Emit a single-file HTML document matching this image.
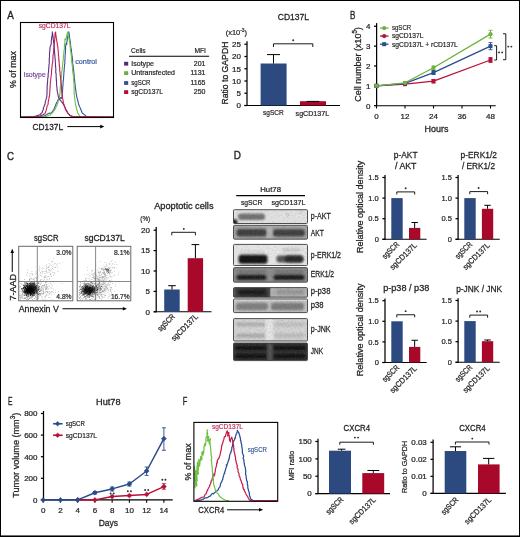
<!DOCTYPE html>
<html><head><meta charset="utf-8"><style>
html,body{margin:0;padding:0;background:#fff;width:520px;height:537px;overflow:hidden;}
svg text{font-family:"Liberation Sans", sans-serif;}
svg{will-change:transform;}
</style></head><body>
<svg width="520" height="537" viewBox="0 0 520 537" style="position:absolute;left:0;top:0">
<defs><filter id="b1" x="-20%" y="-50%" width="140%" height="200%"><feGaussianBlur stdDeviation="1.2"/></filter><filter id="b2" x="-20%" y="-50%" width="140%" height="200%"><feGaussianBlur stdDeviation="0.8"/></filter><filter id="nz" x="0" y="0" width="100%" height="100%"><feTurbulence type="fractalNoise" baseFrequency="0.6" numOctaves="2" seed="5"/><feColorMatrix type="matrix" values="0 0 0 0 0  0 0 0 0 0  0 0 0 0 0  2.2 0 0 0 -0.95"/></filter><filter id="nz2" x="0" y="0" width="100%" height="100%"><feTurbulence type="fractalNoise" baseFrequency="0.6" numOctaves="2" seed="11"/><feColorMatrix type="matrix" values="0 0 0 0 1  0 0 0 0 1  0 0 0 0 1  2.2 0 0 0 -0.95"/></filter></defs>
<rect x="0" y="0" width="520" height="537" fill="#fff"/>
<text x="7.2" y="18.9" font-size="10.5" text-anchor="start" fill="#231f20" textLength="6.6" lengthAdjust="spacingAndGlyphs" stroke="#231f20" stroke-width="0.34">A</text>
<path d="M21.00,117.00 L22.23,116.92 L23.41,117.00 L24.68,117.00 L25.82,117.01 L27.04,117.06 L28.28,117.08 L29.50,116.95 L30.68,116.98 L31.94,117.05 L33.15,116.97 L34.37,116.94 L35.58,116.97 L36.82,117.04 L38.01,116.95 L39.35,116.85 L40.65,116.64 L42.03,116.48 L43.51,116.06 L44.87,115.82 L46.59,114.63 L47.91,113.78 L49.28,113.14 L50.48,113.23 L51.54,112.71 L52.37,111.49 L53.28,110.12 L54.10,109.18 L54.45,107.93 L54.90,106.66 L55.47,105.82 L55.90,104.27 L56.60,102.83 L57.20,101.77 L57.94,99.89 L58.80,99.29 L60.00,98.88 L60.69,97.56 L61.80,98.32 L62.04,97.11 L62.34,95.70 L62.23,94.04 L62.34,93.11 L62.60,91.55 L62.50,90.57 L62.68,89.31 L62.78,87.89 L62.70,86.81 L62.94,85.58 L63.09,84.47 L63.07,83.08 L63.03,81.77 L63.34,80.50 L63.55,78.82 L63.56,77.86 L63.64,76.34 L63.74,75.11 L63.93,73.55 L63.87,72.00 L64.18,71.02 L64.14,69.70 L64.22,68.62 L64.46,66.79 L64.50,65.92 L64.57,64.62 L64.85,63.36 L64.91,62.19 L64.73,61.12 L64.96,59.55 L65.09,58.81 L65.01,57.08 L65.18,55.68 L65.12,54.81 L65.36,53.70 L65.44,52.60 L65.39,51.14 L65.47,49.94 L65.68,48.84 L65.47,47.45 L65.64,45.84 L65.94,44.96 L66.01,43.53 L66.77,44.39 L66.84,43.06 L66.86,41.46 L67.22,40.67 L67.32,38.81 L67.42,37.31 L67.73,36.38 L68.25,34.83 L68.52,33.28 L68.83,31.87 L69.02,33.02 L69.24,34.33 L69.35,35.59 L69.64,37.02 L69.60,37.92 L69.90,39.35 L70.00,40.61 L70.35,41.79 L70.49,42.91 L70.49,44.25 L70.67,45.29 L70.73,46.51 L70.95,47.77 L71.24,49.05 L71.41,50.19 L71.50,51.46 L71.68,52.73 L71.72,53.81 L71.95,55.15 L72.17,56.01 L72.28,57.44 L72.41,58.73 L72.55,59.47 L72.67,61.05 L72.69,62.23 L72.64,63.67 L72.88,64.42 L73.10,65.45 L73.28,66.74 L73.25,67.68 L73.56,69.52 L73.59,70.54 L73.88,71.78 L73.96,73.09 L74.05,74.20 L74.21,75.35 L74.24,76.46 L74.17,77.71 L74.46,79.35 L74.59,80.09 L74.81,81.96 L74.90,83.07 L75.03,84.29 L75.30,85.44 L75.27,86.62 L75.46,88.05 L75.61,89.50 L75.93,90.50 L76.01,91.91 L76.11,93.25 L76.37,94.32 L76.64,95.89 L76.74,96.81 L77.20,98.43 L77.48,99.54 L77.86,100.99 L78.20,101.97 L78.39,103.04 L78.61,104.25 L79.14,105.53 L79.66,106.73 L80.20,107.87 L80.65,109.08 L81.31,110.51 L81.87,112.04 L82.21,112.96 L83.26,113.63 L84.38,114.67 L85.56,115.65 L86.61,116.55 L88.31,116.69 L90.04,116.97 L91.20,117.00 L92.40,116.97 L93.65,116.96 L94.83,116.92 L96.01,117.02 L97.27,116.98 L98.51,116.96 L99.70,116.97 L100.89,117.02 L102.07,117.06 L103.31,117.00 L104.52,117.02 L105.71,116.95 L106.96,116.99 L108.15,117.02 L109.40,116.95 L110.52,116.99 L111.75,116.99 L113.00,117.00" stroke="#34589a" stroke-width="1.1" fill="none" stroke-linejoin="round"/>
<path d="M21.00,117.00 L22.23,117.02 L23.47,116.99 L24.68,116.99 L25.97,117.02 L27.20,117.01 L28.42,117.01 L29.61,117.04 L30.89,117.02 L32.08,116.92 L33.33,116.98 L34.60,117.00 L35.84,116.97 L37.07,117.02 L38.28,117.08 L39.54,117.05 L40.75,116.97 L41.99,117.00 L43.35,116.84 L44.66,116.62 L45.99,116.55 L47.32,116.01 L48.71,115.23 L50.00,115.24 L51.17,113.84 L52.69,112.65 L53.51,111.52 L54.10,110.42 L55.06,109.17 L55.75,107.89 L56.26,106.42 L56.93,105.36 L57.46,104.07 L57.71,103.00 L58.22,101.53 L58.27,100.74 L58.83,99.60 L58.83,97.85 L59.33,96.97 L59.50,96.08 L59.82,94.64 L59.87,93.40 L60.11,92.14 L60.14,90.84 L60.07,89.69 L60.42,88.26 L60.28,86.76 L60.65,85.26 L60.68,84.48 L60.70,83.30 L60.98,81.70 L61.07,80.56 L61.17,79.36 L61.21,77.80 L61.48,76.59 L61.42,75.47 L61.76,74.00 L61.63,72.84 L61.87,71.59 L62.14,70.24 L62.25,68.98 L62.19,68.10 L62.49,66.93 L62.55,65.58 L62.66,64.44 L62.76,63.17 L62.95,61.90 L63.09,60.79 L63.33,59.54 L63.24,58.21 L63.40,57.23 L63.49,55.93 L63.82,54.19 L63.67,53.49 L63.94,52.28 L63.99,51.14 L64.18,49.72 L64.49,48.67 L64.35,47.38 L64.48,46.13 L64.35,44.80 L64.79,43.42 L64.79,42.54 L64.98,41.38 L64.85,39.79 L65.07,38.71 L66.00,39.72 L66.26,38.37 L66.49,36.80 L66.72,35.72 L67.02,34.27 L67.44,32.99 L67.69,31.98 L68.03,32.91 L68.42,34.02 L68.49,35.44 L68.66,36.88 L68.91,38.13 L68.99,39.00 L69.42,40.36 L69.51,41.54 L69.85,43.13 L70.00,44.02 L70.01,45.17 L70.21,46.86 L70.20,48.05 L70.50,48.93 L70.37,50.40 L70.68,51.23 L70.86,52.61 L71.09,53.54 L71.20,55.19 L71.36,56.08 L71.30,57.49 L71.51,58.52 L71.76,59.65 L71.55,60.83 L71.72,62.25 L72.04,63.19 L72.14,64.65 L72.28,65.94 L72.39,67.09 L72.66,68.39 L72.60,69.46 L72.62,70.30 L72.74,71.89 L72.93,72.90 L73.15,74.09 L73.25,75.34 L73.56,76.59 L73.55,78.05 L73.58,78.93 L73.65,80.64 L73.65,81.62 L73.99,83.16 L74.00,84.44 L74.06,85.38 L73.95,86.76 L74.22,88.06 L74.10,89.32 L74.08,90.72 L74.16,92.10 L74.10,93.38 L74.30,94.26 L74.47,95.85 L74.34,96.94 L74.71,98.22 L74.90,99.63 L75.03,100.76 L75.23,102.02 L75.30,102.72 L75.48,104.54 L75.69,105.43 L76.20,106.41 L76.39,108.38 L76.57,109.28 L77.14,110.35 L77.34,111.75 L77.52,112.78 L78.49,114.18 L79.33,115.23 L80.18,116.48 L81.42,116.63 L82.58,116.71 L83.86,116.93 L85.01,116.88 L86.23,117.02 L87.47,117.02 L88.65,117.02 L89.83,117.05 L91.09,116.97 L92.33,117.08 L93.49,116.97 L94.75,117.01 L95.95,116.96 L97.22,117.05 L98.36,116.94 L99.65,117.04 L100.87,117.04 L102.02,117.01 L103.21,116.97 L104.48,117.02 L105.68,116.99 L106.92,117.02 L108.14,117.01 L109.34,117.04 L110.57,116.96 L111.77,117.00 L113.00,117.00" stroke="#6fbf44" stroke-width="1.1" fill="none" stroke-linejoin="round"/>
<path d="M21.00,117.00 L22.23,117.09 L23.47,117.01 L24.68,116.95 L25.90,116.91 L27.10,116.85 L28.31,116.88 L29.57,116.92 L30.79,116.84 L32.02,116.80 L33.29,116.59 L34.66,116.28 L36.00,116.14 L37.45,115.60 L38.57,115.18 L39.93,114.73 L40.87,113.65 L42.10,112.66 L42.42,111.64 L42.90,110.30 L43.28,109.57 L43.47,107.80 L44.05,106.63 L44.29,105.80 L44.90,104.53 L45.21,103.26 L45.33,101.48 L45.76,100.52 L46.02,99.60 L46.19,98.26 L46.78,97.27 L46.76,95.89 L46.96,94.74 L47.07,93.33 L47.02,92.22 L46.96,90.98 L47.17,89.39 L47.12,88.23 L47.08,86.46 L47.30,85.88 L47.30,84.33 L47.42,82.92 L47.58,82.04 L47.66,80.83 L47.68,79.50 L47.82,78.14 L48.03,77.04 L48.20,75.92 L48.13,74.82 L48.21,73.34 L48.50,72.13 L48.63,70.93 L48.61,69.85 L48.77,68.33 L48.85,67.30 L48.94,65.99 L48.99,64.87 L49.19,63.63 L49.23,62.49 L49.29,61.73 L49.22,60.13 L49.24,58.77 L49.34,57.72 L49.55,56.66 L49.49,55.33 L49.47,54.21 L49.68,52.48 L49.73,51.37 L49.91,49.96 L49.96,48.45 L50.08,46.72 L50.89,45.48 L50.95,44.39 L51.33,43.26 L51.25,41.54 L51.35,40.38 L51.50,39.47 L51.60,37.74 L51.90,36.79 L52.08,35.40 L52.37,34.12 L52.33,33.27 L52.26,31.76 L52.49,33.45 L52.84,34.20 L52.75,35.29 L53.07,36.70 L53.22,37.99 L53.17,39.66 L53.51,40.43 L53.57,42.04 L53.79,42.86 L53.96,44.26 L54.00,45.43 L54.00,47.08 L54.07,48.24 L54.33,49.39 L54.54,50.91 L54.51,52.26 L54.76,53.59 L54.74,54.79 L54.90,55.73 L54.95,57.59 L55.03,58.59 L55.33,59.70 L55.24,60.89 L55.36,62.07 L55.42,63.41 L55.48,64.51 L55.42,66.26 L55.65,66.80 L55.80,68.47 L55.82,70.07 L55.79,71.08 L55.70,72.50 L56.12,73.45 L56.12,75.08 L56.17,76.01 L56.15,77.52 L56.39,78.56 L56.25,79.86 L56.48,80.93 L56.48,82.20 L56.57,83.80 L56.65,85.01 L56.76,86.10 L56.89,87.17 L57.04,88.67 L57.03,89.90 L57.21,90.92 L57.49,92.45 L57.83,93.87 L58.06,94.94 L58.18,96.10 L58.65,97.29 L59.46,99.33 L60.49,100.30 L61.06,101.34 L62.21,102.49 L62.95,103.77 L63.75,104.86 L64.37,106.14 L65.02,107.44 L65.43,108.88 L66.28,110.17 L67.00,111.29 L67.41,112.32 L68.25,113.71 L69.23,114.42 L69.95,115.75 L71.49,116.10 L73.01,116.65 L74.24,116.70 L75.44,116.70 L76.64,116.78 L77.85,116.65 L79.05,116.73 L80.27,116.76 L81.45,116.84 L82.68,116.83 L83.90,116.76 L85.12,116.77 L86.35,116.85 L87.59,116.89 L88.73,116.85 L89.98,116.82 L91.19,116.84 L92.37,116.81 L93.63,116.85 L94.85,116.84 L96.02,116.88 L97.24,116.92 L98.44,116.93 L99.67,116.86 L100.87,116.90 L102.11,116.97 L103.32,116.90 L104.53,116.94 L105.71,116.98 L106.92,116.94 L108.13,116.90 L109.37,116.90 L110.56,116.96 L111.80,116.96 L113.00,117.00" stroke="#5b2d86" stroke-width="1.1" fill="none" stroke-linejoin="round"/>
<path d="M21.00,117.00 L22.23,116.99 L23.53,117.04 L24.78,116.95 L26.01,116.92 L27.22,116.90 L28.52,116.91 L29.74,116.84 L31.00,116.84 L32.25,116.87 L33.45,116.83 L34.72,116.77 L35.97,116.85 L37.35,116.56 L38.65,116.20 L39.99,116.01 L41.49,115.37 L42.97,114.82 L44.21,114.01 L45.32,112.76 L45.60,111.73 L46.14,110.40 L46.45,109.11 L46.75,107.89 L46.99,106.55 L47.53,105.54 L48.00,104.41 L48.17,103.11 L48.15,101.91 L48.51,100.79 L48.79,99.44 L48.99,98.25 L49.10,96.81 L49.61,95.98 L49.55,94.55 L49.64,93.90 L49.81,92.03 L49.79,90.32 L49.95,89.70 L50.12,88.21 L50.07,86.66 L50.22,85.51 L50.20,84.59 L50.33,82.98 L50.32,82.17 L50.63,80.63 L50.79,79.28 L50.83,78.27 L50.93,77.05 L51.22,75.92 L51.36,74.76 L51.50,73.40 L51.50,71.94 L51.57,70.79 L51.69,69.51 L51.86,68.92 L51.88,67.32 L52.14,65.85 L52.18,64.65 L52.38,63.39 L52.70,62.42 L52.70,61.41 L52.84,59.77 L52.88,58.55 L53.00,57.48 L52.93,55.77 L53.20,54.91 L53.32,53.56 L53.59,52.47 L53.61,51.05 L53.61,49.96 L53.88,48.46 L54.04,47.33 L54.08,45.81 L54.31,44.67 L54.37,43.56 L54.41,42.21 L54.56,40.89 L54.71,39.52 L54.87,38.37 L54.82,37.13 L55.01,35.85 L54.95,34.53 L55.07,33.10 L55.68,32.00 L55.68,32.95 L55.67,34.25 L56.00,35.44 L56.10,36.49 L56.32,38.14 L56.55,38.97 L56.72,40.06 L56.81,41.45 L57.25,42.71 L57.19,44.09 L57.54,45.35 L57.69,45.96 L57.92,47.37 L57.90,48.54 L58.06,49.80 L58.25,51.30 L58.26,52.47 L58.48,53.89 L58.39,55.15 L58.75,56.44 L58.62,57.95 L59.02,58.99 L58.69,59.98 L59.17,61.50 L59.17,62.92 L59.22,64.41 L59.35,65.44 L59.48,66.59 L59.80,67.56 L59.60,69.18 L59.72,70.23 L59.86,71.59 L60.08,72.75 L60.14,73.82 L60.12,75.21 L60.49,76.28 L60.58,77.42 L60.70,79.05 L60.75,79.84 L60.97,81.19 L60.95,82.66 L61.26,83.52 L61.37,84.54 L61.44,85.72 L61.45,87.22 L61.50,88.60 L61.55,89.59 L61.65,91.23 L61.81,92.26 L61.96,93.62 L62.00,94.51 L62.15,95.94 L62.36,97.19 L62.71,98.50 L62.94,99.76 L63.09,100.62 L63.29,101.78 L63.46,103.18 L63.81,103.93 L64.22,105.35 L64.57,106.61 L65.19,107.85 L65.32,109.07 L66.09,110.57 L66.79,111.53 L67.48,112.66 L68.30,113.69 L69.37,114.63 L70.05,115.53 L71.51,116.12 L73.03,116.57 L74.20,116.67 L75.44,116.68 L76.66,116.78 L77.84,116.76 L79.05,116.79 L80.29,116.81 L81.50,116.72 L82.73,116.78 L83.93,116.79 L85.14,116.74 L86.36,116.76 L87.54,116.83 L88.73,116.84 L89.97,116.87 L91.18,116.79 L92.37,116.81 L93.61,116.85 L94.83,116.94 L96.03,116.86 L97.25,116.90 L98.41,116.86 L99.67,116.93 L100.87,116.87 L102.14,116.78 L103.34,116.90 L104.51,116.94 L105.74,116.90 L106.91,116.97 L108.18,116.95 L109.41,116.92 L110.59,117.00 L111.82,116.94 L113.00,117.00" stroke="#c4204e" stroke-width="1.1" fill="none" stroke-linejoin="round"/>
<rect x="20.5" y="22.5" width="93" height="95" fill="none" stroke="#000" stroke-width="1.1"/>
<text x="38.75" y="28.3" font-size="7" text-anchor="start" fill="#c4335e" textLength="31.75" lengthAdjust="spacingAndGlyphs" stroke="#c4335e" stroke-width="0.2">sgCD137L</text>
<text x="23.5" y="76.5" font-size="7" text-anchor="start" fill="#7a4a9c" textLength="22.25" lengthAdjust="spacingAndGlyphs" stroke="#7a4a9c" stroke-width="0.2">Isotype</text>
<text x="75.2" y="63.9" font-size="7" text-anchor="start" fill="#3b5b9c" textLength="21.8" lengthAdjust="spacingAndGlyphs" stroke="#3b5b9c" stroke-width="0.2">control</text>
<text transform="translate(15.5,88) rotate(-90)" x="0" y="0" font-size="9" text-anchor="start" fill="#231f20" textLength="37" lengthAdjust="spacingAndGlyphs" stroke="#231f20" stroke-width="0.28">% of max</text>
<text x="32.6" y="129.9" font-size="9.5" text-anchor="start" fill="#231f20" textLength="30.4" lengthAdjust="spacingAndGlyphs" stroke="#231f20" stroke-width="0.3">CD137L</text>
<line x1="67.25" y1="126.6" x2="100.9" y2="126.6" stroke="#000" stroke-width="1"/>
<path d="M104.4,126.6 L100.2,124.8 L100.2,128.4 Z" fill="#000"/>
<text x="131" y="52.9" font-size="7" text-anchor="start" fill="#231f20" textLength="14.6" lengthAdjust="spacingAndGlyphs" stroke="#231f20" stroke-width="0.2">Cells</text>
<text x="194.4" y="52.9" font-size="7" text-anchor="start" fill="#231f20" textLength="11.6" lengthAdjust="spacingAndGlyphs" stroke="#231f20" stroke-width="0.2">MFI</text>
<line x1="129" y1="56.25" x2="209.1" y2="56.25" stroke="#000" stroke-width="1"/>
<rect x="124.1" y="61.800000000000004" width="4.1" height="3.8" fill="#4f2a7c"/>
<text x="131.25" y="66" font-size="7" text-anchor="start" fill="#231f20" textLength="22.75" lengthAdjust="spacingAndGlyphs" stroke="#231f20" stroke-width="0.2">Isotype</text>
<text x="205.5" y="66" font-size="7" text-anchor="end" fill="#231f20" stroke="#231f20" stroke-width="0.2">201</text>
<rect x="124.1" y="71.19999999999999" width="4.1" height="3.8" fill="#6ab040"/>
<text x="131.25" y="75" font-size="7" text-anchor="start" fill="#231f20" textLength="43.75" lengthAdjust="spacingAndGlyphs" stroke="#231f20" stroke-width="0.2">Untransfected</text>
<text x="205.5" y="75" font-size="7" text-anchor="end" fill="#231f20" stroke="#231f20" stroke-width="0.2">1131</text>
<rect x="124.1" y="81.1" width="4.1" height="3.8" fill="#2d5394"/>
<text x="131.25" y="84.6" font-size="7" text-anchor="start" fill="#231f20" textLength="19.15" lengthAdjust="spacingAndGlyphs" stroke="#231f20" stroke-width="0.2">sgSCR</text>
<text x="205.5" y="84.6" font-size="7" text-anchor="end" fill="#231f20" stroke="#231f20" stroke-width="0.2">1165</text>
<rect x="124.1" y="90.19999999999999" width="4.1" height="3.8" fill="#b10d35"/>
<text x="131.25" y="94.4" font-size="7" text-anchor="start" fill="#231f20" textLength="31.65" lengthAdjust="spacingAndGlyphs" stroke="#231f20" stroke-width="0.2">sgCD137L</text>
<text x="205.5" y="94.4" font-size="7" text-anchor="end" fill="#231f20" stroke="#231f20" stroke-width="0.2">250</text>
<text x="277.75" y="19.75" font-size="9" text-anchor="start" fill="#231f20" textLength="31.25" lengthAdjust="spacingAndGlyphs" stroke="#231f20" stroke-width="0.28">CD137L</text>
<text x="225.7" y="34.6" font-size="7.6" fill="#231f20" stroke="#231f20" stroke-width="0.2" textLength="21.4" lengthAdjust="spacingAndGlyphs">(x10<tspan font-size="5" dy="-3">-3</tspan><tspan dy="3">)</tspan></text>
<text transform="translate(227.8,104.6) rotate(-90)" x="0" y="0" font-size="9.5" text-anchor="start" fill="#231f20" textLength="63" lengthAdjust="spacingAndGlyphs" stroke="#231f20" stroke-width="0.3">Ratio to GAPDH</text>
<line x1="247" y1="41.25" x2="247" y2="106.0" stroke="#000" stroke-width="1.25"/>
<line x1="244.4" y1="105.5" x2="247" y2="105.5" stroke="#000" stroke-width="1.25"/>
<text x="241" y="108.38" font-size="8" text-anchor="end" fill="#231f20" stroke="#231f20" stroke-width="0.24">0</text>
<line x1="244.4" y1="93.25" x2="247" y2="93.25" stroke="#000" stroke-width="1.25"/>
<text x="241" y="96.13" font-size="8" text-anchor="end" fill="#231f20" stroke="#231f20" stroke-width="0.24">5</text>
<line x1="244.4" y1="81.0" x2="247" y2="81.0" stroke="#000" stroke-width="1.25"/>
<text x="241" y="83.88" font-size="8" text-anchor="end" fill="#231f20" stroke="#231f20" stroke-width="0.24">10</text>
<line x1="244.4" y1="68.75" x2="247" y2="68.75" stroke="#000" stroke-width="1.25"/>
<text x="241" y="71.63" font-size="8" text-anchor="end" fill="#231f20" stroke="#231f20" stroke-width="0.24">15</text>
<line x1="244.4" y1="56.5" x2="247" y2="56.5" stroke="#000" stroke-width="1.25"/>
<text x="241" y="59.38" font-size="8" text-anchor="end" fill="#231f20" stroke="#231f20" stroke-width="0.24">20</text>
<line x1="244.4" y1="44.25" x2="247" y2="44.25" stroke="#000" stroke-width="1.25"/>
<text x="241" y="47.13" font-size="8" text-anchor="end" fill="#231f20" stroke="#231f20" stroke-width="0.24">25</text>
<line x1="244.4" y1="105.5" x2="340" y2="105.5" stroke="#000" stroke-width="1.1"/>
<rect x="260.6" y="63.5" width="26" height="42" fill="#2c4a80"/>
<line x1="273.5" y1="54.6" x2="273.5" y2="63.5" stroke="#000" stroke-width="1"/>
<line x1="267.0" y1="54.6" x2="280.0" y2="54.6" stroke="#000" stroke-width="1"/>
<rect x="300" y="101.2" width="26" height="4.3" fill="#a8082a"/>
<line x1="306.6" y1="101.4" x2="319.3" y2="101.4" stroke="#000" stroke-width="1"/>
<path d="M273.5,47.0 V43.8 H312.8 V47.0" stroke="#000" stroke-width="0.9" fill="none"/>
<circle cx="293.20" cy="40.30" r="0.95" fill="#2a2a2a"/>
<text x="263" y="115" font-size="7.5" text-anchor="start" fill="#231f20" textLength="20.75" lengthAdjust="spacingAndGlyphs" stroke="#231f20" stroke-width="0.22">sgSCR</text>
<text x="295.6" y="115.5" font-size="7.5" text-anchor="start" fill="#231f20" textLength="33.6" lengthAdjust="spacingAndGlyphs" stroke="#231f20" stroke-width="0.22">sgCD137L</text>
<text x="349.9" y="19.2" font-size="10.5" text-anchor="start" fill="#231f20" textLength="5.4" lengthAdjust="spacingAndGlyphs" stroke="#231f20" stroke-width="0.34">B</text>
<line x1="376.6" y1="23.1" x2="376.6" y2="106.2" stroke="#000" stroke-width="1.25"/>
<line x1="374.0" y1="105.7" x2="376.6" y2="105.7" stroke="#000" stroke-width="1.25"/>
<text x="370.5" y="108.58" font-size="8" text-anchor="end" fill="#231f20" stroke="#231f20" stroke-width="0.24">0</text>
<line x1="374.0" y1="85.84" x2="376.6" y2="85.84" stroke="#000" stroke-width="1.25"/>
<text x="370.5" y="88.72" font-size="8" text-anchor="end" fill="#231f20" stroke="#231f20" stroke-width="0.24">1</text>
<line x1="374.0" y1="65.98" x2="376.6" y2="65.98" stroke="#000" stroke-width="1.25"/>
<text x="370.5" y="68.86" font-size="8" text-anchor="end" fill="#231f20" stroke="#231f20" stroke-width="0.24">2</text>
<line x1="374.0" y1="46.120000000000005" x2="376.6" y2="46.120000000000005" stroke="#000" stroke-width="1.25"/>
<text x="370.5" y="49.00000000000001" font-size="8" text-anchor="end" fill="#231f20" stroke="#231f20" stroke-width="0.24">3</text>
<line x1="374.0" y1="26.260000000000005" x2="376.6" y2="26.260000000000005" stroke="#000" stroke-width="1.25"/>
<text x="370.5" y="29.140000000000004" font-size="8" text-anchor="end" fill="#231f20" stroke="#231f20" stroke-width="0.24">4</text>
<line x1="376.6" y1="105.7" x2="495.7" y2="105.7" stroke="#000" stroke-width="1.1"/>
<line x1="376.5" y1="105.7" x2="376.5" y2="108.5" stroke="#000" stroke-width="1.1"/>
<text x="376.5" y="118.9" font-size="8" text-anchor="middle" fill="#231f20" stroke="#231f20" stroke-width="0.24">0</text>
<line x1="405.0" y1="105.7" x2="405.0" y2="108.5" stroke="#000" stroke-width="1.1"/>
<text x="405.0" y="118.9" font-size="8" text-anchor="middle" fill="#231f20" stroke="#231f20" stroke-width="0.24">12</text>
<line x1="433.5" y1="105.7" x2="433.5" y2="108.5" stroke="#000" stroke-width="1.1"/>
<text x="433.5" y="118.9" font-size="8" text-anchor="middle" fill="#231f20" stroke="#231f20" stroke-width="0.24">24</text>
<line x1="462.0" y1="105.7" x2="462.0" y2="108.5" stroke="#000" stroke-width="1.1"/>
<text x="462.0" y="118.9" font-size="8" text-anchor="middle" fill="#231f20" stroke="#231f20" stroke-width="0.24">36</text>
<line x1="490.5" y1="105.7" x2="490.5" y2="108.5" stroke="#000" stroke-width="1.1"/>
<text x="490.5" y="118.9" font-size="8" text-anchor="middle" fill="#231f20" stroke="#231f20" stroke-width="0.24">48</text>
<text x="424.6" y="131.5" font-size="9.5" text-anchor="start" fill="#231f20" textLength="23.9" lengthAdjust="spacingAndGlyphs" stroke="#231f20" stroke-width="0.3">Hours</text>
<text transform="translate(360.6,101.7) rotate(-90)" font-size="9.5" fill="#231f20" stroke="#231f20" stroke-width="0.28" textLength="74.5" lengthAdjust="spacingAndGlyphs">Cell number (x10<tspan font-size="6.5" dy="-3.2">5</tspan><tspan dy="3.2">)</tspan></text>
<path d="M376.50,85.80 L405.00,84.20 L433.50,81.20 L490.50,60.00" stroke="#b5123a" stroke-width="1.3" fill="none" stroke-linejoin="round"/>
<rect x="374.5" y="83.8" width="4" height="4" fill="#b5123a"/>
<rect x="403" y="82.2" width="4" height="4" fill="#b5123a"/>
<line x1="433.5" y1="79.5" x2="433.5" y2="83" stroke="#b5123a" stroke-width="0.9"/>
<line x1="431.5" y1="79.5" x2="435.5" y2="79.5" stroke="#b5123a" stroke-width="0.9"/>
<line x1="431.5" y1="83" x2="435.5" y2="83" stroke="#b5123a" stroke-width="0.9"/>
<rect x="431.5" y="79.2" width="4" height="4" fill="#b5123a"/>
<line x1="490.5" y1="57.5" x2="490.5" y2="62.5" stroke="#b5123a" stroke-width="0.9"/>
<line x1="488.5" y1="57.5" x2="492.5" y2="57.5" stroke="#b5123a" stroke-width="0.9"/>
<line x1="488.5" y1="62.5" x2="492.5" y2="62.5" stroke="#b5123a" stroke-width="0.9"/>
<rect x="488.5" y="58" width="4" height="4" fill="#b5123a"/>
<path d="M376.50,85.80 L405.00,83.40 L433.50,72.60 L490.50,46.15" stroke="#2a4d8e" stroke-width="1.3" fill="none" stroke-linejoin="round"/>
<rect x="374.5" y="83.8" width="4" height="4" fill="#2a4d8e"/>
<rect x="403" y="81.4" width="4" height="4" fill="#2a4d8e"/>
<line x1="433.5" y1="70.5" x2="433.5" y2="74.5" stroke="#2a4d8e" stroke-width="0.9"/>
<line x1="431.5" y1="70.5" x2="435.5" y2="70.5" stroke="#2a4d8e" stroke-width="0.9"/>
<line x1="431.5" y1="74.5" x2="435.5" y2="74.5" stroke="#2a4d8e" stroke-width="0.9"/>
<rect x="431.5" y="70.6" width="4" height="4" fill="#2a4d8e"/>
<line x1="490.5" y1="42.6" x2="490.5" y2="49.7" stroke="#2a4d8e" stroke-width="0.9"/>
<line x1="488.5" y1="42.6" x2="492.5" y2="42.6" stroke="#2a4d8e" stroke-width="0.9"/>
<line x1="488.5" y1="49.7" x2="492.5" y2="49.7" stroke="#2a4d8e" stroke-width="0.9"/>
<rect x="488.5" y="44.15" width="4" height="4" fill="#2a4d8e"/>
<path d="M376.50,85.80 L405.00,82.80 L433.50,67.70 L490.50,34.15" stroke="#6cb33f" stroke-width="1.3" fill="none" stroke-linejoin="round"/>
<circle cx="376.5" cy="85.8" r="2.1" fill="#6cb33f"/>
<circle cx="405" cy="82.8" r="2.1" fill="#6cb33f"/>
<line x1="433.5" y1="66" x2="433.5" y2="69.5" stroke="#6cb33f" stroke-width="0.9"/>
<line x1="431.5" y1="66" x2="435.5" y2="66" stroke="#6cb33f" stroke-width="0.9"/>
<line x1="431.5" y1="69.5" x2="435.5" y2="69.5" stroke="#6cb33f" stroke-width="0.9"/>
<circle cx="433.5" cy="67.7" r="2.1" fill="#6cb33f"/>
<line x1="490.5" y1="30.3" x2="490.5" y2="38" stroke="#6cb33f" stroke-width="0.9"/>
<line x1="488.5" y1="30.3" x2="492.5" y2="30.3" stroke="#6cb33f" stroke-width="0.9"/>
<line x1="488.5" y1="38" x2="492.5" y2="38" stroke="#6cb33f" stroke-width="0.9"/>
<circle cx="490.5" cy="34.15" r="2.1" fill="#6cb33f"/>
<line x1="380" y1="28.1" x2="388.5" y2="28.1" stroke="#6cb33f" stroke-width="1.3"/>
<circle cx="384.2" cy="28.1" r="2.1" fill="#6cb33f"/>
<line x1="380" y1="36.1" x2="388.5" y2="36.1" stroke="#b5123a" stroke-width="1.3"/>
<circle cx="384.2" cy="36.1" r="2.1" fill="#b5123a"/>
<line x1="380" y1="44.2" x2="388.5" y2="44.2" stroke="#2a4d8e" stroke-width="1.3"/>
<rect x="382.2" y="42.2" width="4" height="4" fill="#2a4d8e"/>
<text x="392" y="30.4" font-size="7" text-anchor="start" fill="#231f20" textLength="19.1" lengthAdjust="spacingAndGlyphs" stroke="#231f20" stroke-width="0.2">sgSCR</text>
<text x="392" y="38.4" font-size="7" text-anchor="start" fill="#231f20" textLength="31.4" lengthAdjust="spacingAndGlyphs" stroke="#231f20" stroke-width="0.2">sgCD137L</text>
<text x="392" y="46.5" font-size="7" text-anchor="start" fill="#231f20" textLength="65.7" lengthAdjust="spacingAndGlyphs" stroke="#231f20" stroke-width="0.2">sgCD137L + rCD137L</text>
<path d="M494.2,45.7 H496.6 V60 H494.2" stroke="#000" stroke-width="0.9" fill="none"/>
<circle cx="499.05" cy="52.40" r="0.95" fill="#2a2a2a"/>
<circle cx="502.15" cy="52.40" r="0.95" fill="#2a2a2a"/>
<path d="M503,33.8 H505.8 V59.7 H503" stroke="#000" stroke-width="0.9" fill="none"/>
<circle cx="508.25" cy="46.60" r="0.95" fill="#2a2a2a"/>
<circle cx="511.35" cy="46.60" r="0.95" fill="#2a2a2a"/>
<text x="6.9" y="159.7" font-size="10.5" text-anchor="start" fill="#231f20" textLength="7.0" lengthAdjust="spacingAndGlyphs" stroke="#231f20" stroke-width="0.34">C</text>
<text x="34" y="240.6" font-size="9" text-anchor="start" fill="#231f20" textLength="24.5" lengthAdjust="spacingAndGlyphs" stroke="#231f20" stroke-width="0.28">sgSCR</text>
<text x="84.4" y="240.6" font-size="9" text-anchor="start" fill="#231f20" textLength="40.4" lengthAdjust="spacingAndGlyphs" stroke="#231f20" stroke-width="0.28">sgCD137L</text>
<path d="M28.6 293.3h.7v.7h-.7zM28.8 289.6h.7v.7h-.7zM24.9 290.0h.7v.7h-.7zM36.1 292.9h.7v.7h-.7zM35.7 292.1h.7v.7h-.7zM32.2 291.8h.7v.7h-.7zM20.8 294.8h.7v.7h-.7zM32.8 293.2h.7v.7h-.7zM20.7 283.2h.7v.7h-.7zM25.1 288.9h.7v.7h-.7zM31.7 290.8h.7v.7h-.7zM32.9 288.1h.7v.7h-.7zM31.7 292.8h.7v.7h-.7zM26.4 298.7h.7v.7h-.7zM33.1 296.4h.7v.7h-.7zM26.6 287.7h.7v.7h-.7zM28.1 290.5h.7v.7h-.7zM33.5 292.1h.7v.7h-.7zM27.5 286.7h.7v.7h-.7zM27.1 296.5h.7v.7h-.7zM25.6 292.1h.7v.7h-.7zM32.3 284.3h.7v.7h-.7zM30.3 296.9h.7v.7h-.7zM29.4 287.3h.7v.7h-.7zM32.7 290.7h.7v.7h-.7zM21.9 294.7h.7v.7h-.7zM33.7 295.3h.7v.7h-.7zM37.9 292.6h.7v.7h-.7zM30.7 285.2h.7v.7h-.7zM33.4 288.2h.7v.7h-.7zM27.5 285.3h.7v.7h-.7zM24.7 288.6h.7v.7h-.7zM37.1 281.9h.7v.7h-.7zM22.0 292.1h.7v.7h-.7zM37.9 293.6h.7v.7h-.7zM19.6 279.7h.7v.7h-.7zM32.0 287.7h.7v.7h-.7zM23.8 295.4h.7v.7h-.7zM36.1 291.7h.7v.7h-.7zM31.4 293.0h.7v.7h-.7zM38.8 293.8h.7v.7h-.7zM32.9 293.5h.7v.7h-.7zM21.4 296.8h.7v.7h-.7zM35.3 293.4h.7v.7h-.7zM34.6 282.8h.7v.7h-.7zM29.0 295.6h.7v.7h-.7zM22.8 298.2h.7v.7h-.7zM33.0 290.3h.7v.7h-.7zM31.8 293.9h.7v.7h-.7zM30.7 296.2h.7v.7h-.7zM26.4 289.1h.7v.7h-.7zM35.7 291.1h.7v.7h-.7zM25.2 295.3h.7v.7h-.7zM38.1 289.0h.7v.7h-.7zM22.4 290.4h.7v.7h-.7zM29.2 289.7h.7v.7h-.7zM37.7 286.4h.7v.7h-.7zM36.9 285.3h.7v.7h-.7zM25.7 293.8h.7v.7h-.7zM36.2 294.9h.7v.7h-.7zM31.9 291.6h.7v.7h-.7zM30.8 293.6h.7v.7h-.7zM29.0 292.2h.7v.7h-.7zM33.1 291.0h.7v.7h-.7zM34.2 293.5h.7v.7h-.7zM41.1 292.5h.7v.7h-.7zM27.6 289.3h.7v.7h-.7zM29.9 295.2h.7v.7h-.7zM28.1 292.7h.7v.7h-.7zM40.1 279.5h.7v.7h-.7zM23.8 292.1h.7v.7h-.7zM32.2 292.1h.7v.7h-.7zM27.6 293.9h.7v.7h-.7zM31.6 288.7h.7v.7h-.7zM43.4 292.6h.7v.7h-.7zM27.0 290.6h.7v.7h-.7zM28.8 290.7h.7v.7h-.7zM35.5 285.7h.7v.7h-.7zM29.6 295.3h.7v.7h-.7zM34.7 297.7h.7v.7h-.7zM20.6 289.4h.7v.7h-.7zM28.1 293.8h.7v.7h-.7zM36.0 278.9h.7v.7h-.7zM36.0 284.5h.7v.7h-.7zM33.8 284.3h.7v.7h-.7zM31.0 296.4h.7v.7h-.7zM29.2 291.9h.7v.7h-.7zM34.4 291.6h.7v.7h-.7zM29.5 297.9h.7v.7h-.7zM35.8 289.7h.7v.7h-.7zM45.1 285.8h.7v.7h-.7zM35.0 289.8h.7v.7h-.7zM30.7 294.2h.7v.7h-.7zM31.2 293.9h.7v.7h-.7zM21.6 284.2h.7v.7h-.7zM33.4 286.7h.7v.7h-.7zM24.4 284.4h.7v.7h-.7zM37.0 294.4h.7v.7h-.7zM38.1 286.8h.7v.7h-.7zM30.0 285.9h.7v.7h-.7zM34.2 298.2h.7v.7h-.7zM25.1 298.0h.7v.7h-.7zM35.4 290.2h.7v.7h-.7zM29.5 288.3h.7v.7h-.7zM32.2 292.8h.7v.7h-.7zM38.2 286.4h.7v.7h-.7zM36.2 297.7h.7v.7h-.7zM38.0 290.2h.7v.7h-.7zM25.9 295.6h.7v.7h-.7zM30.6 291.6h.7v.7h-.7zM37.8 289.8h.7v.7h-.7zM19.8 294.7h.7v.7h-.7zM31.7 288.2h.7v.7h-.7zM29.9 294.7h.7v.7h-.7zM30.4 297.0h.7v.7h-.7zM29.7 295.7h.7v.7h-.7zM38.2 298.2h.7v.7h-.7zM26.3 295.0h.7v.7h-.7zM19.7 286.1h.7v.7h-.7zM23.2 290.9h.7v.7h-.7zM28.9 290.9h.7v.7h-.7zM26.7 292.1h.7v.7h-.7zM39.9 291.2h.7v.7h-.7zM32.9 295.5h.7v.7h-.7zM28.9 285.3h.7v.7h-.7zM26.9 295.8h.7v.7h-.7zM20.9 288.3h.7v.7h-.7zM35.5 294.6h.7v.7h-.7zM30.0 294.6h.7v.7h-.7zM30.9 285.7h.7v.7h-.7zM21.4 288.1h.7v.7h-.7zM35.1 288.5h.7v.7h-.7zM25.0 287.5h.7v.7h-.7zM21.6 290.5h.7v.7h-.7zM23.5 292.6h.7v.7h-.7zM26.5 282.3h.7v.7h-.7zM34.0 289.8h.7v.7h-.7zM31.6 288.9h.7v.7h-.7zM34.3 294.4h.7v.7h-.7zM33.7 292.5h.7v.7h-.7zM37.3 294.0h.7v.7h-.7zM32.5 281.6h.7v.7h-.7zM34.9 296.9h.7v.7h-.7zM28.4 288.9h.7v.7h-.7zM40.7 283.1h.7v.7h-.7zM24.9 294.1h.7v.7h-.7zM40.4 290.5h.7v.7h-.7zM33.1 295.1h.7v.7h-.7zM25.0 290.6h.7v.7h-.7zM31.6 294.7h.7v.7h-.7zM29.8 290.1h.7v.7h-.7zM24.4 289.4h.7v.7h-.7zM34.9 291.5h.7v.7h-.7zM25.3 287.2h.7v.7h-.7zM44.7 296.1h.7v.7h-.7zM33.5 279.3h.7v.7h-.7zM33.4 293.2h.7v.7h-.7zM39.3 292.9h.7v.7h-.7zM29.6 293.4h.7v.7h-.7zM19.3 295.6h.7v.7h-.7zM31.8 287.8h.7v.7h-.7zM37.3 299.1h.7v.7h-.7zM22.3 288.0h.7v.7h-.7zM31.6 291.8h.7v.7h-.7zM27.8 286.6h.7v.7h-.7zM41.7 295.7h.7v.7h-.7zM23.4 284.9h.7v.7h-.7zM39.4 295.5h.7v.7h-.7zM40.0 294.6h.7v.7h-.7zM25.2 292.2h.7v.7h-.7zM29.7 293.4h.7v.7h-.7zM26.0 290.4h.7v.7h-.7zM32.5 292.7h.7v.7h-.7zM33.5 291.9h.7v.7h-.7zM28.2 294.6h.7v.7h-.7zM30.3 287.3h.7v.7h-.7zM26.6 291.0h.7v.7h-.7zM29.4 291.7h.7v.7h-.7zM30.0 291.8h.7v.7h-.7zM29.3 285.3h.7v.7h-.7zM32.3 295.7h.7v.7h-.7zM32.4 290.1h.7v.7h-.7zM32.5 286.7h.7v.7h-.7zM19.6 291.3h.7v.7h-.7zM24.9 294.3h.7v.7h-.7zM24.0 279.2h.7v.7h-.7zM24.3 298.1h.7v.7h-.7zM27.9 284.8h.7v.7h-.7zM25.8 293.3h.7v.7h-.7zM32.7 291.8h.7v.7h-.7zM38.2 294.2h.7v.7h-.7zM29.9 293.7h.7v.7h-.7zM39.1 295.4h.7v.7h-.7zM35.6 286.1h.7v.7h-.7zM29.2 294.3h.7v.7h-.7zM28.4 295.8h.7v.7h-.7zM33.3 295.1h.7v.7h-.7zM36.8 290.0h.7v.7h-.7zM28.1 294.9h.7v.7h-.7zM35.4 291.0h.7v.7h-.7zM23.6 291.8h.7v.7h-.7zM32.0 296.1h.7v.7h-.7zM34.3 291.1h.7v.7h-.7zM34.7 293.4h.7v.7h-.7zM31.1 291.2h.7v.7h-.7zM28.7 294.1h.7v.7h-.7zM24.2 288.2h.7v.7h-.7zM30.0 284.4h.7v.7h-.7zM27.6 282.0h.7v.7h-.7zM26.2 293.6h.7v.7h-.7zM33.1 290.8h.7v.7h-.7zM28.7 284.6h.7v.7h-.7zM40.1 293.3h.7v.7h-.7zM36.0 287.0h.7v.7h-.7zM29.0 282.8h.7v.7h-.7zM34.3 295.2h.7v.7h-.7zM19.6 290.8h.7v.7h-.7zM33.5 283.1h.7v.7h-.7zM20.0 286.2h.7v.7h-.7zM26.5 284.7h.7v.7h-.7zM30.2 292.1h.7v.7h-.7zM33.5 294.2h.7v.7h-.7zM38.3 296.2h.7v.7h-.7zM22.8 288.7h.7v.7h-.7zM24.2 286.2h.7v.7h-.7zM29.6 291.0h.7v.7h-.7zM32.7 283.9h.7v.7h-.7zM23.2 290.9h.7v.7h-.7zM28.9 289.6h.7v.7h-.7zM29.7 287.6h.7v.7h-.7zM33.9 292.6h.7v.7h-.7zM29.5 288.0h.7v.7h-.7zM29.0 278.8h.7v.7h-.7zM24.6 291.2h.7v.7h-.7zM21.7 291.9h.7v.7h-.7zM30.8 284.8h.7v.7h-.7zM28.6 289.6h.7v.7h-.7zM32.5 293.8h.7v.7h-.7zM29.8 287.2h.7v.7h-.7zM29.2 290.7h.7v.7h-.7zM34.0 292.3h.7v.7h-.7zM26.0 284.9h.7v.7h-.7zM27.9 287.7h.7v.7h-.7zM23.9 290.5h.7v.7h-.7zM27.3 291.5h.7v.7h-.7zM32.9 289.1h.7v.7h-.7zM42.8 289.6h.7v.7h-.7zM36.1 291.5h.7v.7h-.7zM36.1 280.3h.7v.7h-.7zM25.9 292.1h.7v.7h-.7zM31.8 296.8h.7v.7h-.7zM34.2 295.3h.7v.7h-.7zM32.8 290.3h.7v.7h-.7zM32.8 286.1h.7v.7h-.7zM36.5 286.4h.7v.7h-.7zM28.8 291.1h.7v.7h-.7zM36.4 291.1h.7v.7h-.7zM25.6 292.2h.7v.7h-.7zM33.2 294.2h.7v.7h-.7zM25.8 298.9h.7v.7h-.7zM39.2 291.1h.7v.7h-.7zM31.5 289.1h.7v.7h-.7zM37.8 287.8h.7v.7h-.7zM33.7 288.8h.7v.7h-.7zM26.2 294.2h.7v.7h-.7zM37.3 291.0h.7v.7h-.7zM26.3 294.7h.7v.7h-.7zM29.7 292.4h.7v.7h-.7zM38.4 296.1h.7v.7h-.7zM30.0 294.5h.7v.7h-.7zM26.4 290.8h.7v.7h-.7zM20.4 299.0h.7v.7h-.7zM37.5 285.5h.7v.7h-.7zM21.7 283.7h.7v.7h-.7zM36.5 288.9h.7v.7h-.7zM29.7 289.6h.7v.7h-.7zM29.3 286.1h.7v.7h-.7zM30.1 284.5h.7v.7h-.7zM29.6 292.4h.7v.7h-.7zM32.6 290.0h.7v.7h-.7zM25.0 291.7h.7v.7h-.7zM27.3 298.0h.7v.7h-.7zM34.2 290.5h.7v.7h-.7zM27.4 287.8h.7v.7h-.7zM24.8 289.4h.7v.7h-.7zM31.6 293.3h.7v.7h-.7zM26.1 291.1h.7v.7h-.7zM45.4 282.6h.7v.7h-.7zM27.1 291.8h.7v.7h-.7zM30.8 292.8h.7v.7h-.7zM28.7 292.6h.7v.7h-.7zM30.3 294.5h.7v.7h-.7zM19.6 287.0h.7v.7h-.7zM30.0 286.4h.7v.7h-.7zM24.3 293.8h.7v.7h-.7zM26.4 293.9h.7v.7h-.7zM34.1 292.4h.7v.7h-.7zM32.8 290.5h.7v.7h-.7zM22.2 290.9h.7v.7h-.7zM32.5 288.6h.7v.7h-.7zM29.5 294.4h.7v.7h-.7zM25.2 293.9h.7v.7h-.7zM40.2 288.5h.7v.7h-.7zM30.8 290.3h.7v.7h-.7z" fill="#000" fill-opacity="0.4"/>
<path d="M35.7 289.3h.7v.7h-.7zM33.6 286.7h.7v.7h-.7zM30.4 288.5h.7v.7h-.7zM24.5 292.2h.7v.7h-.7zM33.6 284.0h.7v.7h-.7zM33.0 288.2h.7v.7h-.7zM32.0 289.5h.7v.7h-.7zM25.4 287.9h.7v.7h-.7zM35.6 287.0h.7v.7h-.7zM27.0 285.0h.7v.7h-.7zM26.3 289.4h.7v.7h-.7zM36.3 289.6h.7v.7h-.7zM31.3 294.3h.7v.7h-.7zM28.7 286.7h.7v.7h-.7zM32.3 289.9h.7v.7h-.7zM27.0 285.5h.7v.7h-.7zM31.5 289.1h.7v.7h-.7zM26.1 288.0h.7v.7h-.7zM28.7 289.7h.7v.7h-.7zM30.1 288.3h.7v.7h-.7zM29.3 291.2h.7v.7h-.7zM35.2 287.5h.7v.7h-.7zM33.4 286.5h.7v.7h-.7zM30.7 290.4h.7v.7h-.7zM35.6 287.5h.7v.7h-.7zM30.2 289.0h.7v.7h-.7zM25.4 288.5h.7v.7h-.7zM28.2 289.5h.7v.7h-.7zM26.7 283.4h.7v.7h-.7zM30.6 289.2h.7v.7h-.7zM28.6 290.8h.7v.7h-.7zM29.6 286.9h.7v.7h-.7zM32.1 284.4h.7v.7h-.7zM28.2 288.4h.7v.7h-.7zM33.4 288.1h.7v.7h-.7zM31.5 286.8h.7v.7h-.7zM31.5 292.8h.7v.7h-.7zM28.2 294.7h.7v.7h-.7zM28.3 288.5h.7v.7h-.7zM31.1 291.2h.7v.7h-.7zM26.3 283.0h.7v.7h-.7zM32.6 290.6h.7v.7h-.7zM32.6 295.3h.7v.7h-.7zM31.2 289.2h.7v.7h-.7zM33.7 289.5h.7v.7h-.7zM36.2 285.3h.7v.7h-.7zM29.2 279.5h.7v.7h-.7zM33.3 287.5h.7v.7h-.7zM33.6 294.1h.7v.7h-.7zM30.5 287.8h.7v.7h-.7zM28.8 286.3h.7v.7h-.7zM28.4 290.2h.7v.7h-.7zM30.6 288.7h.7v.7h-.7zM29.9 290.9h.7v.7h-.7zM32.2 288.1h.7v.7h-.7zM32.8 288.1h.7v.7h-.7zM26.6 292.3h.7v.7h-.7zM32.1 286.0h.7v.7h-.7zM34.2 289.4h.7v.7h-.7zM25.2 292.7h.7v.7h-.7zM31.6 290.8h.7v.7h-.7zM31.2 288.1h.7v.7h-.7zM25.2 291.0h.7v.7h-.7zM30.6 287.8h.7v.7h-.7zM31.7 288.7h.7v.7h-.7zM32.8 287.5h.7v.7h-.7zM30.4 282.9h.7v.7h-.7zM29.1 290.3h.7v.7h-.7zM35.0 287.6h.7v.7h-.7zM30.1 292.6h.7v.7h-.7zM29.4 290.4h.7v.7h-.7zM36.2 288.6h.7v.7h-.7zM34.7 286.7h.7v.7h-.7zM31.2 288.3h.7v.7h-.7zM30.9 291.4h.7v.7h-.7zM38.6 286.8h.7v.7h-.7zM28.5 289.8h.7v.7h-.7zM26.9 289.8h.7v.7h-.7zM32.4 287.8h.7v.7h-.7zM32.3 284.5h.7v.7h-.7zM33.1 284.5h.7v.7h-.7zM28.1 287.1h.7v.7h-.7zM29.1 290.7h.7v.7h-.7zM30.8 287.5h.7v.7h-.7zM32.3 292.6h.7v.7h-.7zM30.5 289.5h.7v.7h-.7zM34.7 289.2h.7v.7h-.7zM26.1 295.0h.7v.7h-.7zM38.0 283.3h.7v.7h-.7zM30.4 289.6h.7v.7h-.7zM33.8 290.2h.7v.7h-.7zM29.6 285.8h.7v.7h-.7zM30.9 291.2h.7v.7h-.7zM26.8 285.8h.7v.7h-.7zM30.4 283.5h.7v.7h-.7zM29.6 287.4h.7v.7h-.7zM32.0 286.7h.7v.7h-.7zM27.5 287.5h.7v.7h-.7zM30.3 286.8h.7v.7h-.7zM30.5 290.5h.7v.7h-.7zM34.5 292.9h.7v.7h-.7zM27.8 287.4h.7v.7h-.7zM22.1 293.4h.7v.7h-.7zM28.0 288.4h.7v.7h-.7zM32.3 285.0h.7v.7h-.7zM32.1 288.4h.7v.7h-.7zM24.3 289.3h.7v.7h-.7zM34.6 283.6h.7v.7h-.7zM33.2 289.0h.7v.7h-.7zM32.1 289.6h.7v.7h-.7zM34.9 287.9h.7v.7h-.7zM33.5 287.4h.7v.7h-.7zM33.0 286.4h.7v.7h-.7zM30.1 293.0h.7v.7h-.7zM32.0 288.1h.7v.7h-.7zM26.6 286.4h.7v.7h-.7zM31.2 290.9h.7v.7h-.7zM31.9 289.9h.7v.7h-.7zM30.4 292.0h.7v.7h-.7zM29.2 287.1h.7v.7h-.7zM33.5 288.7h.7v.7h-.7zM29.6 287.0h.7v.7h-.7zM29.6 290.1h.7v.7h-.7zM31.7 285.4h.7v.7h-.7zM31.9 289.0h.7v.7h-.7zM27.1 290.5h.7v.7h-.7zM29.5 287.6h.7v.7h-.7zM33.2 291.9h.7v.7h-.7zM28.2 289.6h.7v.7h-.7zM27.5 294.5h.7v.7h-.7zM28.8 291.6h.7v.7h-.7zM28.3 290.6h.7v.7h-.7zM38.0 281.9h.7v.7h-.7zM29.0 289.8h.7v.7h-.7zM30.2 286.8h.7v.7h-.7zM37.8 288.7h.7v.7h-.7zM24.9 290.7h.7v.7h-.7zM24.6 291.5h.7v.7h-.7zM28.5 288.9h.7v.7h-.7zM34.8 288.8h.7v.7h-.7zM25.8 284.1h.7v.7h-.7zM34.5 290.4h.7v.7h-.7zM27.7 290.7h.7v.7h-.7zM32.2 290.2h.7v.7h-.7zM22.8 287.7h.7v.7h-.7zM33.6 290.4h.7v.7h-.7zM33.5 282.1h.7v.7h-.7zM31.1 289.8h.7v.7h-.7zM39.2 286.0h.7v.7h-.7zM29.4 288.6h.7v.7h-.7zM33.5 287.3h.7v.7h-.7zM34.4 286.5h.7v.7h-.7zM31.4 287.1h.7v.7h-.7zM31.0 286.7h.7v.7h-.7zM25.1 291.3h.7v.7h-.7zM31.5 287.0h.7v.7h-.7zM31.2 291.1h.7v.7h-.7zM27.2 288.2h.7v.7h-.7zM32.3 289.9h.7v.7h-.7zM29.4 283.0h.7v.7h-.7zM34.7 289.4h.7v.7h-.7zM30.5 287.8h.7v.7h-.7zM31.4 287.4h.7v.7h-.7zM27.0 286.6h.7v.7h-.7zM28.5 286.9h.7v.7h-.7zM26.6 290.2h.7v.7h-.7zM26.0 290.2h.7v.7h-.7zM27.1 289.4h.7v.7h-.7zM35.2 289.0h.7v.7h-.7zM28.0 288.6h.7v.7h-.7zM31.0 284.0h.7v.7h-.7zM28.4 288.9h.7v.7h-.7zM28.9 288.7h.7v.7h-.7zM33.0 290.5h.7v.7h-.7zM33.6 290.0h.7v.7h-.7zM29.5 288.5h.7v.7h-.7zM29.6 287.7h.7v.7h-.7zM29.9 284.0h.7v.7h-.7zM29.4 288.4h.7v.7h-.7zM27.2 288.4h.7v.7h-.7zM32.3 288.1h.7v.7h-.7zM37.6 281.7h.7v.7h-.7zM29.8 283.8h.7v.7h-.7zM33.8 295.4h.7v.7h-.7zM22.0 288.8h.7v.7h-.7zM32.3 287.7h.7v.7h-.7zM32.4 282.7h.7v.7h-.7zM33.4 289.5h.7v.7h-.7zM30.6 287.0h.7v.7h-.7zM32.7 287.2h.7v.7h-.7zM31.3 287.2h.7v.7h-.7zM22.9 288.4h.7v.7h-.7zM31.2 290.5h.7v.7h-.7zM27.5 288.4h.7v.7h-.7zM32.6 288.9h.7v.7h-.7zM34.7 293.7h.7v.7h-.7zM27.4 283.5h.7v.7h-.7zM33.4 292.5h.7v.7h-.7zM33.6 290.6h.7v.7h-.7zM28.4 286.6h.7v.7h-.7zM33.5 286.1h.7v.7h-.7zM24.3 285.9h.7v.7h-.7zM39.0 293.5h.7v.7h-.7zM28.2 286.6h.7v.7h-.7zM31.3 286.6h.7v.7h-.7zM35.0 288.3h.7v.7h-.7zM26.8 291.9h.7v.7h-.7zM28.5 289.1h.7v.7h-.7zM30.5 287.7h.7v.7h-.7zM31.6 286.7h.7v.7h-.7zM24.2 282.8h.7v.7h-.7zM26.2 286.5h.7v.7h-.7zM30.4 288.6h.7v.7h-.7zM32.4 288.8h.7v.7h-.7zM27.8 286.7h.7v.7h-.7zM23.3 288.1h.7v.7h-.7zM32.1 289.9h.7v.7h-.7zM30.1 288.0h.7v.7h-.7zM33.7 288.5h.7v.7h-.7zM33.0 290.0h.7v.7h-.7zM31.2 291.9h.7v.7h-.7zM28.6 287.6h.7v.7h-.7zM27.8 286.4h.7v.7h-.7zM35.8 293.1h.7v.7h-.7zM30.6 290.0h.7v.7h-.7zM34.5 290.6h.7v.7h-.7zM34.6 285.2h.7v.7h-.7zM28.3 289.7h.7v.7h-.7zM35.4 288.8h.7v.7h-.7zM27.6 287.6h.7v.7h-.7zM28.3 286.3h.7v.7h-.7zM35.6 286.9h.7v.7h-.7zM30.6 294.1h.7v.7h-.7zM34.5 289.4h.7v.7h-.7zM28.4 289.6h.7v.7h-.7zM36.0 290.1h.7v.7h-.7zM34.8 288.8h.7v.7h-.7zM32.3 288.0h.7v.7h-.7zM32.0 291.9h.7v.7h-.7zM25.6 288.3h.7v.7h-.7zM31.3 287.0h.7v.7h-.7zM29.5 290.5h.7v.7h-.7zM37.3 290.1h.7v.7h-.7zM31.6 284.5h.7v.7h-.7zM37.1 288.7h.7v.7h-.7zM30.4 285.6h.7v.7h-.7zM30.3 285.7h.7v.7h-.7zM30.7 289.7h.7v.7h-.7zM30.6 289.2h.7v.7h-.7zM27.6 292.2h.7v.7h-.7zM28.3 283.8h.7v.7h-.7zM29.9 286.5h.7v.7h-.7zM27.1 287.6h.7v.7h-.7zM31.5 285.4h.7v.7h-.7zM30.0 292.2h.7v.7h-.7zM32.8 288.1h.7v.7h-.7zM30.9 288.2h.7v.7h-.7zM30.3 290.4h.7v.7h-.7zM30.2 282.2h.7v.7h-.7zM30.4 286.2h.7v.7h-.7zM32.7 286.9h.7v.7h-.7zM31.0 294.2h.7v.7h-.7zM26.9 285.6h.7v.7h-.7zM25.7 282.3h.7v.7h-.7zM24.1 289.4h.7v.7h-.7zM28.3 283.6h.7v.7h-.7zM25.5 290.1h.7v.7h-.7zM27.9 287.5h.7v.7h-.7zM31.6 292.0h.7v.7h-.7zM37.1 291.2h.7v.7h-.7zM31.0 289.0h.7v.7h-.7zM36.6 292.2h.7v.7h-.7zM29.4 289.7h.7v.7h-.7zM31.5 288.6h.7v.7h-.7zM28.8 285.1h.7v.7h-.7zM28.7 284.5h.7v.7h-.7zM34.7 289.9h.7v.7h-.7zM26.4 292.1h.7v.7h-.7zM33.5 283.5h.7v.7h-.7zM36.8 290.6h.7v.7h-.7zM37.5 285.3h.7v.7h-.7zM32.3 289.6h.7v.7h-.7zM31.2 288.9h.7v.7h-.7zM34.1 284.6h.7v.7h-.7zM26.3 284.9h.7v.7h-.7zM28.6 286.9h.7v.7h-.7zM31.7 289.2h.7v.7h-.7zM30.6 286.7h.7v.7h-.7zM29.0 291.0h.7v.7h-.7zM33.1 288.8h.7v.7h-.7zM29.4 292.5h.7v.7h-.7zM28.5 290.2h.7v.7h-.7zM34.4 287.8h.7v.7h-.7zM33.3 285.6h.7v.7h-.7zM33.9 289.0h.7v.7h-.7zM25.1 290.2h.7v.7h-.7zM27.5 291.8h.7v.7h-.7zM28.2 288.1h.7v.7h-.7zM31.5 287.6h.7v.7h-.7zM31.4 287.1h.7v.7h-.7zM32.8 288.5h.7v.7h-.7zM31.2 281.3h.7v.7h-.7zM34.4 288.6h.7v.7h-.7zM24.4 288.7h.7v.7h-.7zM32.1 291.3h.7v.7h-.7zM26.8 292.5h.7v.7h-.7zM30.0 294.7h.7v.7h-.7zM30.0 290.3h.7v.7h-.7zM29.3 285.6h.7v.7h-.7zM34.2 290.9h.7v.7h-.7zM35.7 290.7h.7v.7h-.7zM28.6 284.2h.7v.7h-.7zM28.3 286.7h.7v.7h-.7zM27.7 290.0h.7v.7h-.7zM31.6 287.8h.7v.7h-.7zM31.1 288.1h.7v.7h-.7zM31.2 290.5h.7v.7h-.7zM33.8 286.7h.7v.7h-.7zM25.4 292.2h.7v.7h-.7zM30.9 291.4h.7v.7h-.7zM24.9 287.6h.7v.7h-.7zM30.6 284.8h.7v.7h-.7zM28.7 290.4h.7v.7h-.7zM34.2 292.6h.7v.7h-.7zM27.6 284.9h.7v.7h-.7zM32.3 290.9h.7v.7h-.7zM31.2 285.1h.7v.7h-.7zM33.2 290.6h.7v.7h-.7zM32.4 287.2h.7v.7h-.7zM31.5 290.6h.7v.7h-.7zM28.6 283.7h.7v.7h-.7zM31.6 289.8h.7v.7h-.7zM30.5 290.8h.7v.7h-.7zM28.5 288.3h.7v.7h-.7zM29.5 290.0h.7v.7h-.7zM35.9 287.8h.7v.7h-.7zM37.5 292.5h.7v.7h-.7zM33.2 290.0h.7v.7h-.7zM36.5 288.0h.7v.7h-.7zM30.1 285.7h.7v.7h-.7zM32.1 292.0h.7v.7h-.7zM32.3 289.6h.7v.7h-.7zM29.8 288.9h.7v.7h-.7zM25.7 291.2h.7v.7h-.7zM29.1 285.6h.7v.7h-.7zM27.9 286.4h.7v.7h-.7zM33.4 291.3h.7v.7h-.7zM25.9 290.9h.7v.7h-.7zM33.5 287.0h.7v.7h-.7zM25.4 286.6h.7v.7h-.7zM28.3 289.4h.7v.7h-.7zM29.3 283.2h.7v.7h-.7zM31.3 284.5h.7v.7h-.7zM33.6 285.4h.7v.7h-.7zM28.1 286.3h.7v.7h-.7zM28.7 291.9h.7v.7h-.7zM33.4 290.1h.7v.7h-.7zM31.6 284.5h.7v.7h-.7zM28.7 287.1h.7v.7h-.7zM27.2 289.8h.7v.7h-.7zM28.0 286.7h.7v.7h-.7zM26.9 283.2h.7v.7h-.7zM32.5 292.0h.7v.7h-.7zM31.1 286.0h.7v.7h-.7zM21.3 288.9h.7v.7h-.7zM34.6 289.3h.7v.7h-.7zM33.7 292.3h.7v.7h-.7zM34.3 287.4h.7v.7h-.7zM34.1 290.5h.7v.7h-.7zM25.3 287.4h.7v.7h-.7zM25.7 288.2h.7v.7h-.7zM32.5 285.7h.7v.7h-.7zM23.5 291.9h.7v.7h-.7zM31.8 292.3h.7v.7h-.7zM26.0 291.3h.7v.7h-.7zM37.6 293.7h.7v.7h-.7zM29.8 289.2h.7v.7h-.7zM30.0 291.1h.7v.7h-.7zM34.0 288.7h.7v.7h-.7zM25.9 290.4h.7v.7h-.7zM28.9 290.1h.7v.7h-.7zM31.4 292.7h.7v.7h-.7zM34.4 287.3h.7v.7h-.7zM31.7 293.1h.7v.7h-.7zM28.7 289.6h.7v.7h-.7zM34.5 291.8h.7v.7h-.7zM32.3 285.1h.7v.7h-.7zM26.2 289.1h.7v.7h-.7zM31.8 295.1h.7v.7h-.7zM27.6 291.5h.7v.7h-.7zM33.1 284.2h.7v.7h-.7zM27.7 288.9h.7v.7h-.7zM28.8 288.1h.7v.7h-.7zM32.1 286.4h.7v.7h-.7zM32.1 286.8h.7v.7h-.7zM28.6 289.9h.7v.7h-.7zM28.6 289.2h.7v.7h-.7zM35.9 288.6h.7v.7h-.7zM30.0 290.4h.7v.7h-.7zM29.3 291.3h.7v.7h-.7zM26.1 290.1h.7v.7h-.7zM28.8 286.4h.7v.7h-.7zM36.5 286.3h.7v.7h-.7zM36.5 290.2h.7v.7h-.7zM35.4 286.0h.7v.7h-.7zM34.6 292.3h.7v.7h-.7zM30.1 288.2h.7v.7h-.7zM38.9 289.0h.7v.7h-.7zM29.1 286.9h.7v.7h-.7zM32.0 289.4h.7v.7h-.7zM31.1 293.0h.7v.7h-.7zM29.4 289.7h.7v.7h-.7zM35.5 285.9h.7v.7h-.7zM34.0 293.3h.7v.7h-.7zM25.9 285.6h.7v.7h-.7zM27.0 283.7h.7v.7h-.7zM32.0 283.7h.7v.7h-.7zM32.2 292.3h.7v.7h-.7zM25.0 287.7h.7v.7h-.7zM24.0 290.5h.7v.7h-.7zM28.0 287.8h.7v.7h-.7zM30.7 289.9h.7v.7h-.7zM29.3 288.5h.7v.7h-.7zM28.6 288.8h.7v.7h-.7zM26.5 288.7h.7v.7h-.7zM23.9 287.2h.7v.7h-.7zM37.0 288.7h.7v.7h-.7zM26.2 289.2h.7v.7h-.7zM27.2 284.2h.7v.7h-.7zM28.0 290.4h.7v.7h-.7zM31.8 288.2h.7v.7h-.7zM27.3 285.7h.7v.7h-.7zM35.1 289.1h.7v.7h-.7zM27.3 283.0h.7v.7h-.7zM25.8 294.9h.7v.7h-.7zM26.6 288.3h.7v.7h-.7zM31.2 288.1h.7v.7h-.7zM29.6 284.9h.7v.7h-.7zM26.9 292.9h.7v.7h-.7zM27.9 290.7h.7v.7h-.7zM24.7 287.8h.7v.7h-.7zM31.4 291.2h.7v.7h-.7zM26.7 290.0h.7v.7h-.7zM31.8 286.6h.7v.7h-.7zM32.1 286.2h.7v.7h-.7zM27.8 288.5h.7v.7h-.7zM21.3 288.2h.7v.7h-.7zM27.1 284.7h.7v.7h-.7zM29.1 290.5h.7v.7h-.7zM29.1 291.8h.7v.7h-.7zM26.6 285.1h.7v.7h-.7zM35.8 289.5h.7v.7h-.7zM33.7 286.4h.7v.7h-.7zM33.2 289.2h.7v.7h-.7zM32.7 288.6h.7v.7h-.7zM34.6 286.8h.7v.7h-.7zM27.2 284.7h.7v.7h-.7zM34.4 286.6h.7v.7h-.7zM27.0 286.1h.7v.7h-.7zM29.0 285.2h.7v.7h-.7zM29.5 286.9h.7v.7h-.7zM28.6 286.0h.7v.7h-.7zM30.6 287.3h.7v.7h-.7zM30.9 289.1h.7v.7h-.7zM31.7 282.8h.7v.7h-.7zM28.7 286.4h.7v.7h-.7zM33.1 284.4h.7v.7h-.7zM28.1 287.7h.7v.7h-.7zM29.4 291.1h.7v.7h-.7zM29.0 291.0h.7v.7h-.7zM25.5 283.8h.7v.7h-.7zM34.6 289.6h.7v.7h-.7zM32.2 288.8h.7v.7h-.7zM32.1 285.3h.7v.7h-.7zM33.7 287.1h.7v.7h-.7zM33.9 288.7h.7v.7h-.7zM23.8 285.2h.7v.7h-.7zM34.3 288.1h.7v.7h-.7zM29.2 289.1h.7v.7h-.7zM29.1 287.1h.7v.7h-.7zM30.8 288.9h.7v.7h-.7zM35.7 288.6h.7v.7h-.7zM36.9 293.2h.7v.7h-.7zM36.3 291.3h.7v.7h-.7zM30.9 288.9h.7v.7h-.7zM30.0 286.6h.7v.7h-.7zM30.3 286.8h.7v.7h-.7zM36.1 289.9h.7v.7h-.7zM29.0 283.5h.7v.7h-.7zM30.3 287.4h.7v.7h-.7zM26.8 285.5h.7v.7h-.7zM22.8 290.0h.7v.7h-.7zM30.3 295.2h.7v.7h-.7zM30.4 288.1h.7v.7h-.7zM35.4 288.8h.7v.7h-.7zM31.1 287.5h.7v.7h-.7zM28.4 292.4h.7v.7h-.7zM33.9 293.0h.7v.7h-.7zM29.3 288.6h.7v.7h-.7zM27.5 291.0h.7v.7h-.7zM25.8 290.0h.7v.7h-.7zM34.2 292.2h.7v.7h-.7zM27.3 291.3h.7v.7h-.7zM28.1 286.5h.7v.7h-.7zM26.0 291.5h.7v.7h-.7zM36.1 287.0h.7v.7h-.7zM27.9 287.6h.7v.7h-.7zM39.0 291.1h.7v.7h-.7zM28.7 283.8h.7v.7h-.7zM28.2 291.6h.7v.7h-.7zM36.9 287.8h.7v.7h-.7zM28.1 287.2h.7v.7h-.7zM24.1 290.9h.7v.7h-.7zM26.8 291.3h.7v.7h-.7zM24.7 285.2h.7v.7h-.7zM31.5 286.5h.7v.7h-.7zM33.2 288.5h.7v.7h-.7zM26.5 290.1h.7v.7h-.7zM33.4 283.5h.7v.7h-.7zM36.7 289.8h.7v.7h-.7zM33.1 283.7h.7v.7h-.7zM28.1 287.6h.7v.7h-.7zM34.2 284.7h.7v.7h-.7zM27.5 283.2h.7v.7h-.7zM29.7 289.4h.7v.7h-.7zM24.8 287.0h.7v.7h-.7zM32.2 292.6h.7v.7h-.7zM32.8 287.7h.7v.7h-.7zM26.5 286.1h.7v.7h-.7zM28.2 288.9h.7v.7h-.7zM30.3 292.8h.7v.7h-.7zM31.5 285.7h.7v.7h-.7zM35.8 291.0h.7v.7h-.7zM30.8 286.6h.7v.7h-.7zM24.1 285.8h.7v.7h-.7zM33.6 286.4h.7v.7h-.7zM26.0 289.0h.7v.7h-.7zM31.3 290.1h.7v.7h-.7zM32.7 292.2h.7v.7h-.7zM27.6 291.0h.7v.7h-.7zM27.1 290.3h.7v.7h-.7zM31.1 289.1h.7v.7h-.7zM33.8 288.5h.7v.7h-.7zM34.3 290.8h.7v.7h-.7zM31.0 287.0h.7v.7h-.7zM27.9 287.1h.7v.7h-.7zM29.8 288.4h.7v.7h-.7zM40.6 290.2h.7v.7h-.7zM33.1 286.3h.7v.7h-.7zM28.1 287.7h.7v.7h-.7zM31.2 285.8h.7v.7h-.7zM36.0 287.0h.7v.7h-.7zM34.2 282.4h.7v.7h-.7zM30.5 289.2h.7v.7h-.7zM31.2 290.1h.7v.7h-.7zM31.5 288.9h.7v.7h-.7zM24.1 286.6h.7v.7h-.7zM22.5 290.1h.7v.7h-.7zM31.5 288.0h.7v.7h-.7zM27.7 287.0h.7v.7h-.7zM36.8 293.0h.7v.7h-.7zM30.3 291.8h.7v.7h-.7zM25.1 283.5h.7v.7h-.7zM28.9 286.2h.7v.7h-.7zM28.6 289.0h.7v.7h-.7zM40.8 286.8h.7v.7h-.7zM30.7 289.2h.7v.7h-.7zM30.4 290.9h.7v.7h-.7zM36.5 285.3h.7v.7h-.7zM31.0 287.8h.7v.7h-.7zM31.7 284.5h.7v.7h-.7zM24.5 282.5h.7v.7h-.7zM32.3 289.0h.7v.7h-.7zM30.8 282.3h.7v.7h-.7zM29.2 286.5h.7v.7h-.7zM25.7 286.1h.7v.7h-.7zM32.9 289.9h.7v.7h-.7zM30.4 289.8h.7v.7h-.7zM28.4 288.7h.7v.7h-.7zM30.6 289.9h.7v.7h-.7zM30.3 288.1h.7v.7h-.7zM30.0 286.8h.7v.7h-.7zM38.1 289.8h.7v.7h-.7zM32.0 294.5h.7v.7h-.7zM35.3 284.5h.7v.7h-.7zM32.9 290.7h.7v.7h-.7zM36.9 291.9h.7v.7h-.7zM33.1 285.4h.7v.7h-.7zM27.5 289.2h.7v.7h-.7zM32.2 285.8h.7v.7h-.7zM29.2 287.5h.7v.7h-.7zM30.7 289.4h.7v.7h-.7zM29.5 285.3h.7v.7h-.7zM34.7 292.6h.7v.7h-.7zM30.1 291.2h.7v.7h-.7zM32.0 290.2h.7v.7h-.7zM32.1 286.5h.7v.7h-.7zM32.5 291.1h.7v.7h-.7zM27.5 293.6h.7v.7h-.7zM37.6 293.2h.7v.7h-.7zM37.3 290.4h.7v.7h-.7zM29.3 286.9h.7v.7h-.7zM27.7 288.8h.7v.7h-.7zM30.4 290.2h.7v.7h-.7zM23.6 294.5h.7v.7h-.7zM38.2 288.4h.7v.7h-.7zM32.8 289.7h.7v.7h-.7zM31.4 288.0h.7v.7h-.7zM30.1 286.4h.7v.7h-.7zM31.1 288.4h.7v.7h-.7zM31.6 286.3h.7v.7h-.7zM30.6 288.6h.7v.7h-.7zM32.6 285.7h.7v.7h-.7zM31.9 291.1h.7v.7h-.7zM32.5 287.5h.7v.7h-.7zM28.8 287.9h.7v.7h-.7zM33.0 292.5h.7v.7h-.7zM30.0 286.8h.7v.7h-.7zM31.8 289.0h.7v.7h-.7zM27.4 286.6h.7v.7h-.7zM30.2 290.2h.7v.7h-.7zM26.4 285.9h.7v.7h-.7zM32.2 285.3h.7v.7h-.7zM30.9 289.4h.7v.7h-.7zM30.1 285.9h.7v.7h-.7zM30.3 287.6h.7v.7h-.7zM31.6 286.3h.7v.7h-.7zM34.2 284.1h.7v.7h-.7zM29.9 288.5h.7v.7h-.7zM33.8 286.9h.7v.7h-.7zM32.4 287.0h.7v.7h-.7zM33.0 293.0h.7v.7h-.7zM29.1 289.7h.7v.7h-.7zM27.3 291.0h.7v.7h-.7zM34.6 288.6h.7v.7h-.7zM26.6 289.5h.7v.7h-.7zM34.4 291.3h.7v.7h-.7zM33.3 283.7h.7v.7h-.7zM28.2 292.2h.7v.7h-.7zM26.3 291.4h.7v.7h-.7zM36.9 290.5h.7v.7h-.7zM34.3 287.6h.7v.7h-.7zM26.3 288.2h.7v.7h-.7zM29.8 288.4h.7v.7h-.7zM32.9 288.1h.7v.7h-.7zM31.2 289.6h.7v.7h-.7zM30.5 293.3h.7v.7h-.7zM32.0 288.7h.7v.7h-.7zM29.8 286.9h.7v.7h-.7zM35.1 288.9h.7v.7h-.7zM26.8 287.0h.7v.7h-.7zM30.0 287.3h.7v.7h-.7zM34.2 285.5h.7v.7h-.7zM32.2 288.9h.7v.7h-.7zM26.5 288.6h.7v.7h-.7zM30.2 289.8h.7v.7h-.7zM29.0 289.3h.7v.7h-.7zM24.8 285.7h.7v.7h-.7zM33.2 291.2h.7v.7h-.7zM30.5 286.9h.7v.7h-.7zM34.2 283.1h.7v.7h-.7zM27.8 290.2h.7v.7h-.7zM32.7 285.8h.7v.7h-.7zM24.1 292.3h.7v.7h-.7zM31.0 286.2h.7v.7h-.7zM30.7 290.8h.7v.7h-.7zM21.7 291.4h.7v.7h-.7zM33.0 283.1h.7v.7h-.7zM33.1 283.9h.7v.7h-.7zM34.4 289.5h.7v.7h-.7zM38.2 286.9h.7v.7h-.7zM30.5 291.2h.7v.7h-.7zM28.3 286.7h.7v.7h-.7zM29.2 288.3h.7v.7h-.7zM26.8 289.8h.7v.7h-.7zM32.3 288.7h.7v.7h-.7zM36.3 287.6h.7v.7h-.7zM34.9 287.1h.7v.7h-.7zM33.1 283.5h.7v.7h-.7zM31.2 288.0h.7v.7h-.7zM28.8 286.9h.7v.7h-.7zM29.3 286.6h.7v.7h-.7zM23.0 286.9h.7v.7h-.7zM28.6 287.1h.7v.7h-.7zM26.9 288.1h.7v.7h-.7zM33.2 287.8h.7v.7h-.7zM28.8 292.0h.7v.7h-.7zM33.8 290.9h.7v.7h-.7zM34.4 287.6h.7v.7h-.7zM30.1 291.4h.7v.7h-.7zM28.6 288.2h.7v.7h-.7zM31.8 289.5h.7v.7h-.7zM29.6 291.1h.7v.7h-.7zM29.9 290.4h.7v.7h-.7zM34.1 290.2h.7v.7h-.7zM33.0 285.5h.7v.7h-.7zM26.0 286.9h.7v.7h-.7zM32.1 292.4h.7v.7h-.7zM26.3 289.3h.7v.7h-.7zM27.6 286.6h.7v.7h-.7zM29.6 290.3h.7v.7h-.7zM31.2 291.6h.7v.7h-.7zM27.1 290.8h.7v.7h-.7zM33.7 288.7h.7v.7h-.7zM32.1 287.0h.7v.7h-.7zM26.8 287.4h.7v.7h-.7zM28.3 296.0h.7v.7h-.7zM28.9 292.8h.7v.7h-.7zM31.2 289.3h.7v.7h-.7zM33.0 286.5h.7v.7h-.7zM33.6 289.5h.7v.7h-.7zM25.3 290.1h.7v.7h-.7zM32.4 289.7h.7v.7h-.7zM35.9 287.4h.7v.7h-.7zM32.2 290.4h.7v.7h-.7zM27.4 291.6h.7v.7h-.7zM25.6 285.1h.7v.7h-.7zM32.3 285.7h.7v.7h-.7zM30.1 284.2h.7v.7h-.7zM30.7 285.6h.7v.7h-.7zM31.7 284.5h.7v.7h-.7zM32.0 287.8h.7v.7h-.7zM30.7 288.3h.7v.7h-.7zM30.9 285.1h.7v.7h-.7zM21.8 288.6h.7v.7h-.7zM27.3 287.3h.7v.7h-.7zM32.0 283.3h.7v.7h-.7zM27.9 286.9h.7v.7h-.7zM26.9 289.3h.7v.7h-.7zM30.0 286.4h.7v.7h-.7zM27.2 290.6h.7v.7h-.7zM28.3 290.0h.7v.7h-.7zM32.0 283.6h.7v.7h-.7zM26.8 288.5h.7v.7h-.7zM31.7 290.5h.7v.7h-.7zM33.2 291.2h.7v.7h-.7zM29.2 288.0h.7v.7h-.7zM33.1 287.4h.7v.7h-.7zM34.1 284.4h.7v.7h-.7zM32.7 288.0h.7v.7h-.7zM23.8 291.0h.7v.7h-.7zM31.6 288.6h.7v.7h-.7zM26.8 287.3h.7v.7h-.7zM35.6 286.3h.7v.7h-.7zM26.4 288.2h.7v.7h-.7zM29.2 286.1h.7v.7h-.7zM27.6 291.2h.7v.7h-.7zM25.6 293.6h.7v.7h-.7zM28.7 285.7h.7v.7h-.7zM33.2 290.0h.7v.7h-.7zM27.0 290.4h.7v.7h-.7zM24.2 286.1h.7v.7h-.7zM34.3 287.8h.7v.7h-.7zM26.1 289.8h.7v.7h-.7zM33.6 288.4h.7v.7h-.7zM24.4 287.6h.7v.7h-.7zM31.9 290.5h.7v.7h-.7zM36.8 287.8h.7v.7h-.7zM28.9 288.4h.7v.7h-.7zM34.6 286.1h.7v.7h-.7zM34.9 281.4h.7v.7h-.7zM33.2 286.7h.7v.7h-.7zM32.1 290.3h.7v.7h-.7zM26.5 288.3h.7v.7h-.7zM31.3 290.0h.7v.7h-.7zM27.3 285.9h.7v.7h-.7zM24.0 295.1h.7v.7h-.7zM29.8 287.9h.7v.7h-.7zM25.4 290.9h.7v.7h-.7zM28.7 292.2h.7v.7h-.7zM33.4 288.6h.7v.7h-.7zM33.0 285.6h.7v.7h-.7zM29.4 287.0h.7v.7h-.7zM26.2 288.5h.7v.7h-.7zM30.0 292.2h.7v.7h-.7zM27.4 287.3h.7v.7h-.7zM31.9 289.5h.7v.7h-.7zM30.6 287.3h.7v.7h-.7zM32.2 289.4h.7v.7h-.7zM24.2 287.8h.7v.7h-.7zM25.8 285.4h.7v.7h-.7zM31.0 288.7h.7v.7h-.7zM30.9 286.2h.7v.7h-.7zM29.8 286.1h.7v.7h-.7zM31.8 290.3h.7v.7h-.7zM36.5 291.8h.7v.7h-.7zM27.8 287.3h.7v.7h-.7zM27.3 289.3h.7v.7h-.7zM37.2 290.3h.7v.7h-.7zM23.0 285.2h.7v.7h-.7zM26.1 289.8h.7v.7h-.7zM30.5 289.3h.7v.7h-.7zM36.6 286.3h.7v.7h-.7zM27.6 293.6h.7v.7h-.7zM31.7 286.5h.7v.7h-.7zM23.6 284.5h.7v.7h-.7zM22.2 288.7h.7v.7h-.7zM30.7 291.1h.7v.7h-.7zM30.0 286.7h.7v.7h-.7zM28.0 293.4h.7v.7h-.7zM24.5 289.0h.7v.7h-.7zM30.6 290.1h.7v.7h-.7zM29.1 289.8h.7v.7h-.7zM33.3 288.1h.7v.7h-.7zM28.9 288.0h.7v.7h-.7zM27.2 288.0h.7v.7h-.7zM29.5 289.0h.7v.7h-.7zM35.0 291.9h.7v.7h-.7zM29.0 290.1h.7v.7h-.7zM31.5 290.5h.7v.7h-.7zM30.6 289.2h.7v.7h-.7zM28.9 286.5h.7v.7h-.7zM33.5 291.9h.7v.7h-.7zM32.8 289.6h.7v.7h-.7zM31.4 287.3h.7v.7h-.7zM24.4 290.2h.7v.7h-.7zM31.2 287.1h.7v.7h-.7zM27.2 291.8h.7v.7h-.7zM24.4 293.1h.7v.7h-.7zM32.7 294.7h.7v.7h-.7zM28.1 288.4h.7v.7h-.7zM28.8 288.9h.7v.7h-.7zM29.8 286.6h.7v.7h-.7zM34.2 286.5h.7v.7h-.7zM28.8 289.9h.7v.7h-.7zM28.7 287.4h.7v.7h-.7zM31.7 287.5h.7v.7h-.7zM26.3 288.2h.7v.7h-.7zM29.8 292.9h.7v.7h-.7zM26.8 291.0h.7v.7h-.7zM27.8 287.6h.7v.7h-.7zM29.4 289.2h.7v.7h-.7zM33.4 293.0h.7v.7h-.7zM28.3 292.0h.7v.7h-.7zM33.9 290.6h.7v.7h-.7zM27.9 290.8h.7v.7h-.7zM30.1 289.4h.7v.7h-.7zM29.6 290.2h.7v.7h-.7zM34.3 291.4h.7v.7h-.7zM29.8 291.1h.7v.7h-.7zM35.4 286.1h.7v.7h-.7zM35.5 285.0h.7v.7h-.7zM32.3 290.0h.7v.7h-.7zM35.5 289.2h.7v.7h-.7zM28.9 286.4h.7v.7h-.7zM26.2 290.5h.7v.7h-.7zM29.7 286.6h.7v.7h-.7zM32.3 286.5h.7v.7h-.7zM29.0 287.3h.7v.7h-.7zM36.1 292.3h.7v.7h-.7zM30.0 284.4h.7v.7h-.7zM31.4 288.7h.7v.7h-.7zM31.7 290.0h.7v.7h-.7zM29.4 290.9h.7v.7h-.7zM33.3 289.0h.7v.7h-.7zM29.1 287.3h.7v.7h-.7zM32.9 285.6h.7v.7h-.7zM30.0 286.6h.7v.7h-.7zM25.8 290.1h.7v.7h-.7zM30.4 288.6h.7v.7h-.7zM33.5 284.6h.7v.7h-.7zM30.3 289.3h.7v.7h-.7zM33.3 285.7h.7v.7h-.7zM32.9 289.1h.7v.7h-.7zM35.1 291.5h.7v.7h-.7zM32.4 294.1h.7v.7h-.7zM30.5 287.4h.7v.7h-.7zM29.3 286.1h.7v.7h-.7zM30.4 283.6h.7v.7h-.7zM30.2 289.6h.7v.7h-.7zM33.9 287.6h.7v.7h-.7zM35.2 286.8h.7v.7h-.7zM30.0 283.6h.7v.7h-.7zM27.9 286.4h.7v.7h-.7zM35.5 289.8h.7v.7h-.7zM26.8 289.9h.7v.7h-.7zM32.1 287.9h.7v.7h-.7zM30.6 287.7h.7v.7h-.7zM28.7 284.0h.7v.7h-.7zM30.2 291.8h.7v.7h-.7zM35.3 287.8h.7v.7h-.7zM28.0 288.0h.7v.7h-.7zM33.5 289.4h.7v.7h-.7zM28.6 289.4h.7v.7h-.7zM29.8 289.8h.7v.7h-.7zM29.1 284.8h.7v.7h-.7zM30.7 290.4h.7v.7h-.7zM26.8 288.2h.7v.7h-.7zM33.4 287.6h.7v.7h-.7zM28.3 293.6h.7v.7h-.7zM33.2 291.1h.7v.7h-.7zM27.4 292.6h.7v.7h-.7zM25.0 287.2h.7v.7h-.7zM32.9 291.9h.7v.7h-.7zM27.4 286.8h.7v.7h-.7zM31.2 283.6h.7v.7h-.7zM32.6 289.9h.7v.7h-.7zM29.0 289.9h.7v.7h-.7z" fill="#000" fill-opacity="0.85"/>
<path d="M30.7 290.5h.7v.7h-.7zM30.1 292.6h.7v.7h-.7zM28.0 290.3h.7v.7h-.7zM27.9 291.8h.7v.7h-.7zM28.1 290.8h.7v.7h-.7zM29.3 290.1h.7v.7h-.7zM32.7 289.9h.7v.7h-.7zM32.0 291.4h.7v.7h-.7zM31.8 289.7h.7v.7h-.7zM31.0 291.3h.7v.7h-.7zM27.7 290.5h.7v.7h-.7zM28.7 289.9h.7v.7h-.7zM31.8 288.7h.7v.7h-.7zM25.4 287.0h.7v.7h-.7zM28.0 288.9h.7v.7h-.7zM29.0 291.0h.7v.7h-.7zM32.7 290.5h.7v.7h-.7zM30.0 288.7h.7v.7h-.7zM30.2 292.4h.7v.7h-.7zM31.8 286.6h.7v.7h-.7zM30.9 292.7h.7v.7h-.7zM30.8 287.4h.7v.7h-.7zM28.3 291.0h.7v.7h-.7zM29.9 288.6h.7v.7h-.7zM27.1 291.7h.7v.7h-.7zM26.2 292.5h.7v.7h-.7zM29.0 290.5h.7v.7h-.7zM26.2 289.0h.7v.7h-.7zM30.5 287.5h.7v.7h-.7zM33.4 287.6h.7v.7h-.7zM26.4 290.1h.7v.7h-.7zM30.0 291.3h.7v.7h-.7zM28.2 289.6h.7v.7h-.7zM28.5 289.0h.7v.7h-.7zM23.5 291.7h.7v.7h-.7zM29.5 290.3h.7v.7h-.7zM27.7 290.4h.7v.7h-.7zM29.0 289.9h.7v.7h-.7zM31.3 287.0h.7v.7h-.7zM29.5 288.2h.7v.7h-.7zM28.3 292.6h.7v.7h-.7zM26.7 289.8h.7v.7h-.7zM27.7 291.6h.7v.7h-.7zM26.9 287.1h.7v.7h-.7zM30.1 289.4h.7v.7h-.7zM28.3 291.9h.7v.7h-.7zM27.1 289.4h.7v.7h-.7zM29.3 290.7h.7v.7h-.7zM27.9 291.8h.7v.7h-.7zM33.7 289.3h.7v.7h-.7zM33.0 286.4h.7v.7h-.7zM32.0 289.4h.7v.7h-.7zM29.3 289.4h.7v.7h-.7zM27.7 287.8h.7v.7h-.7zM28.2 292.2h.7v.7h-.7zM31.4 289.4h.7v.7h-.7zM27.9 288.8h.7v.7h-.7zM26.5 293.1h.7v.7h-.7zM30.4 290.2h.7v.7h-.7zM28.0 288.2h.7v.7h-.7zM31.8 291.3h.7v.7h-.7zM27.0 291.7h.7v.7h-.7zM26.7 291.1h.7v.7h-.7zM27.0 289.3h.7v.7h-.7zM30.0 290.7h.7v.7h-.7zM31.1 288.6h.7v.7h-.7zM32.3 292.3h.7v.7h-.7zM29.0 290.8h.7v.7h-.7zM27.4 289.7h.7v.7h-.7zM26.2 290.2h.7v.7h-.7zM29.4 292.3h.7v.7h-.7zM31.0 291.4h.7v.7h-.7zM28.2 289.6h.7v.7h-.7zM28.3 290.4h.7v.7h-.7zM24.9 291.3h.7v.7h-.7zM25.7 289.1h.7v.7h-.7zM29.0 289.1h.7v.7h-.7zM32.5 289.8h.7v.7h-.7zM32.3 292.0h.7v.7h-.7zM28.0 290.7h.7v.7h-.7zM31.7 289.4h.7v.7h-.7zM29.2 289.0h.7v.7h-.7zM29.1 289.4h.7v.7h-.7zM29.2 291.7h.7v.7h-.7zM31.9 290.2h.7v.7h-.7zM29.4 291.5h.7v.7h-.7zM28.4 288.2h.7v.7h-.7zM31.3 288.4h.7v.7h-.7zM31.0 288.3h.7v.7h-.7zM32.9 288.2h.7v.7h-.7zM30.8 292.6h.7v.7h-.7zM27.0 292.6h.7v.7h-.7zM27.3 287.0h.7v.7h-.7zM30.5 291.2h.7v.7h-.7zM28.6 285.6h.7v.7h-.7zM28.9 289.5h.7v.7h-.7zM28.2 289.5h.7v.7h-.7zM25.2 289.0h.7v.7h-.7zM32.8 292.7h.7v.7h-.7zM28.2 288.8h.7v.7h-.7zM29.8 291.8h.7v.7h-.7zM30.5 288.0h.7v.7h-.7zM29.3 290.2h.7v.7h-.7zM32.0 292.1h.7v.7h-.7zM30.1 292.1h.7v.7h-.7zM28.2 292.7h.7v.7h-.7zM28.1 290.7h.7v.7h-.7zM30.9 288.4h.7v.7h-.7zM27.5 287.0h.7v.7h-.7zM29.3 289.9h.7v.7h-.7zM28.3 290.9h.7v.7h-.7zM24.5 290.0h.7v.7h-.7zM29.2 289.5h.7v.7h-.7zM30.7 293.0h.7v.7h-.7zM28.1 288.4h.7v.7h-.7zM27.7 290.2h.7v.7h-.7zM30.2 288.5h.7v.7h-.7zM31.1 288.2h.7v.7h-.7zM30.7 290.7h.7v.7h-.7zM30.0 293.7h.7v.7h-.7zM28.4 289.7h.7v.7h-.7zM30.0 291.5h.7v.7h-.7zM26.2 290.5h.7v.7h-.7zM27.4 291.1h.7v.7h-.7zM31.9 290.1h.7v.7h-.7zM28.8 290.3h.7v.7h-.7zM22.8 291.3h.7v.7h-.7zM30.2 290.3h.7v.7h-.7zM28.2 288.7h.7v.7h-.7zM28.6 292.1h.7v.7h-.7zM28.8 292.3h.7v.7h-.7zM23.6 289.2h.7v.7h-.7zM29.6 290.0h.7v.7h-.7zM25.5 288.9h.7v.7h-.7zM31.6 287.8h.7v.7h-.7zM26.9 288.1h.7v.7h-.7zM27.8 291.1h.7v.7h-.7zM30.3 286.5h.7v.7h-.7zM32.1 289.0h.7v.7h-.7zM27.8 292.9h.7v.7h-.7zM28.8 287.9h.7v.7h-.7zM27.7 288.7h.7v.7h-.7zM26.9 289.4h.7v.7h-.7zM30.9 290.6h.7v.7h-.7zM26.1 294.8h.7v.7h-.7zM26.9 290.2h.7v.7h-.7zM29.1 291.3h.7v.7h-.7zM28.3 290.8h.7v.7h-.7zM33.4 290.2h.7v.7h-.7zM26.7 290.6h.7v.7h-.7zM27.3 289.4h.7v.7h-.7zM29.4 290.6h.7v.7h-.7zM28.4 291.5h.7v.7h-.7zM28.6 287.7h.7v.7h-.7zM30.9 289.4h.7v.7h-.7zM31.6 288.9h.7v.7h-.7zM30.2 290.5h.7v.7h-.7zM23.3 287.4h.7v.7h-.7zM26.6 292.4h.7v.7h-.7zM25.0 291.6h.7v.7h-.7zM31.3 290.9h.7v.7h-.7zM30.4 289.1h.7v.7h-.7zM29.0 290.4h.7v.7h-.7zM29.9 291.2h.7v.7h-.7zM28.6 288.8h.7v.7h-.7zM27.8 290.7h.7v.7h-.7zM25.5 287.8h.7v.7h-.7zM28.1 289.0h.7v.7h-.7zM28.4 285.4h.7v.7h-.7zM28.3 289.6h.7v.7h-.7zM30.6 286.6h.7v.7h-.7zM28.4 290.8h.7v.7h-.7zM30.0 292.1h.7v.7h-.7zM31.2 288.2h.7v.7h-.7zM30.3 289.4h.7v.7h-.7zM27.3 292.7h.7v.7h-.7zM27.7 288.5h.7v.7h-.7zM28.1 288.5h.7v.7h-.7zM31.1 290.7h.7v.7h-.7zM32.0 290.7h.7v.7h-.7zM27.7 291.8h.7v.7h-.7zM27.6 289.2h.7v.7h-.7zM28.6 290.1h.7v.7h-.7zM31.5 289.0h.7v.7h-.7zM29.7 290.0h.7v.7h-.7zM26.3 288.1h.7v.7h-.7zM28.5 290.7h.7v.7h-.7zM29.7 290.8h.7v.7h-.7zM29.1 289.2h.7v.7h-.7zM29.9 288.3h.7v.7h-.7zM26.2 289.4h.7v.7h-.7zM26.0 289.1h.7v.7h-.7zM27.4 289.0h.7v.7h-.7zM28.9 288.6h.7v.7h-.7zM28.1 287.0h.7v.7h-.7zM29.3 288.5h.7v.7h-.7zM29.9 285.1h.7v.7h-.7zM27.3 290.4h.7v.7h-.7zM23.8 289.4h.7v.7h-.7zM29.2 290.2h.7v.7h-.7zM25.8 290.4h.7v.7h-.7zM29.3 288.3h.7v.7h-.7zM30.6 289.9h.7v.7h-.7zM29.0 289.2h.7v.7h-.7zM30.2 290.2h.7v.7h-.7zM31.4 290.8h.7v.7h-.7zM27.7 289.6h.7v.7h-.7zM31.0 289.4h.7v.7h-.7zM29.8 290.9h.7v.7h-.7zM28.6 286.0h.7v.7h-.7zM29.3 290.4h.7v.7h-.7zM29.3 288.7h.7v.7h-.7zM31.6 289.8h.7v.7h-.7zM27.7 288.8h.7v.7h-.7zM29.8 288.1h.7v.7h-.7zM26.9 293.5h.7v.7h-.7zM31.8 291.8h.7v.7h-.7zM31.9 291.0h.7v.7h-.7zM25.4 292.1h.7v.7h-.7zM31.6 290.9h.7v.7h-.7zM24.8 292.2h.7v.7h-.7zM31.9 289.1h.7v.7h-.7zM29.3 291.4h.7v.7h-.7zM28.8 291.9h.7v.7h-.7zM29.2 291.2h.7v.7h-.7zM29.2 287.4h.7v.7h-.7zM26.9 295.5h.7v.7h-.7zM29.6 292.3h.7v.7h-.7zM31.4 293.0h.7v.7h-.7zM30.2 289.0h.7v.7h-.7zM29.0 286.7h.7v.7h-.7zM28.6 291.6h.7v.7h-.7zM24.4 290.3h.7v.7h-.7zM30.8 292.3h.7v.7h-.7zM27.0 288.9h.7v.7h-.7zM25.0 288.2h.7v.7h-.7zM30.1 293.6h.7v.7h-.7zM26.6 292.4h.7v.7h-.7zM29.9 289.1h.7v.7h-.7zM33.7 285.6h.7v.7h-.7zM28.9 290.4h.7v.7h-.7zM33.6 293.1h.7v.7h-.7zM33.8 290.2h.7v.7h-.7zM31.1 292.4h.7v.7h-.7zM30.1 290.6h.7v.7h-.7zM28.6 289.3h.7v.7h-.7zM26.4 293.4h.7v.7h-.7zM28.0 286.4h.7v.7h-.7zM29.6 289.9h.7v.7h-.7zM29.4 293.2h.7v.7h-.7zM28.8 289.5h.7v.7h-.7zM27.4 290.0h.7v.7h-.7zM28.1 290.4h.7v.7h-.7zM35.7 290.7h.7v.7h-.7zM27.2 293.4h.7v.7h-.7zM30.8 291.4h.7v.7h-.7zM30.5 291.4h.7v.7h-.7zM30.4 292.5h.7v.7h-.7zM31.2 292.4h.7v.7h-.7zM27.9 290.0h.7v.7h-.7zM27.4 291.7h.7v.7h-.7zM30.8 289.2h.7v.7h-.7zM30.3 294.6h.7v.7h-.7zM31.6 288.0h.7v.7h-.7zM28.8 291.1h.7v.7h-.7zM28.9 290.7h.7v.7h-.7zM31.5 290.6h.7v.7h-.7zM26.6 291.3h.7v.7h-.7zM28.8 290.2h.7v.7h-.7zM27.8 287.6h.7v.7h-.7zM26.3 289.4h.7v.7h-.7zM26.7 285.2h.7v.7h-.7zM31.5 288.0h.7v.7h-.7zM27.4 290.9h.7v.7h-.7zM23.8 292.4h.7v.7h-.7zM27.4 291.2h.7v.7h-.7zM28.0 290.5h.7v.7h-.7zM29.2 290.0h.7v.7h-.7zM25.1 287.4h.7v.7h-.7zM28.9 292.5h.7v.7h-.7zM27.8 290.9h.7v.7h-.7zM29.3 290.8h.7v.7h-.7zM31.1 287.4h.7v.7h-.7zM29.6 289.7h.7v.7h-.7zM28.3 288.5h.7v.7h-.7zM27.3 288.2h.7v.7h-.7zM26.6 294.4h.7v.7h-.7zM32.6 290.0h.7v.7h-.7zM30.6 288.3h.7v.7h-.7zM23.0 286.8h.7v.7h-.7zM29.3 292.5h.7v.7h-.7zM28.9 288.2h.7v.7h-.7zM28.5 288.3h.7v.7h-.7zM26.0 289.6h.7v.7h-.7zM28.1 288.6h.7v.7h-.7zM27.1 288.4h.7v.7h-.7zM29.5 292.4h.7v.7h-.7zM28.5 293.9h.7v.7h-.7zM25.5 290.5h.7v.7h-.7zM26.5 289.7h.7v.7h-.7z" fill="#000" fill-opacity="0.9"/>
<path d="M44.6 292.5h.7v.7h-.7zM50.6 287.6h.7v.7h-.7zM36.7 289.2h.7v.7h-.7zM45.7 286.9h.7v.7h-.7zM49.2 297.4h.7v.7h-.7zM35.7 291.6h.7v.7h-.7zM49.9 281.6h.7v.7h-.7zM45.2 289.0h.7v.7h-.7zM35.7 295.8h.7v.7h-.7zM45.3 287.9h.7v.7h-.7zM46.6 292.8h.7v.7h-.7zM48.5 292.5h.7v.7h-.7zM46.4 284.8h.7v.7h-.7zM41.5 290.6h.7v.7h-.7zM27.8 299.3h.7v.7h-.7zM41.8 285.4h.7v.7h-.7zM33.4 291.1h.7v.7h-.7zM44.2 287.4h.7v.7h-.7zM41.6 286.1h.7v.7h-.7zM39.6 289.6h.7v.7h-.7zM40.2 293.0h.7v.7h-.7zM43.2 290.6h.7v.7h-.7zM46.4 295.6h.7v.7h-.7zM47.5 291.0h.7v.7h-.7zM43.0 286.5h.7v.7h-.7zM42.0 293.0h.7v.7h-.7zM45.3 288.3h.7v.7h-.7zM36.2 283.3h.7v.7h-.7zM45.9 294.5h.7v.7h-.7zM46.2 284.0h.7v.7h-.7zM42.8 291.0h.7v.7h-.7zM38.6 291.5h.7v.7h-.7zM42.8 286.3h.7v.7h-.7zM36.7 293.6h.7v.7h-.7zM46.1 286.1h.7v.7h-.7zM38.1 293.9h.7v.7h-.7zM47.5 288.7h.7v.7h-.7zM53.3 288.7h.7v.7h-.7zM37.8 294.8h.7v.7h-.7zM42.9 291.5h.7v.7h-.7zM44.2 285.6h.7v.7h-.7zM37.1 289.1h.7v.7h-.7zM52.2 285.6h.7v.7h-.7zM51.9 291.0h.7v.7h-.7zM37.5 291.2h.7v.7h-.7zM47.3 286.1h.7v.7h-.7zM31.6 291.6h.7v.7h-.7zM37.5 291.9h.7v.7h-.7zM32.8 289.4h.7v.7h-.7zM39.3 283.5h.7v.7h-.7zM42.6 290.8h.7v.7h-.7zM40.7 284.8h.7v.7h-.7zM45.2 282.3h.7v.7h-.7zM47.1 292.1h.7v.7h-.7zM53.8 293.9h.7v.7h-.7zM46.1 291.2h.7v.7h-.7zM44.2 284.2h.7v.7h-.7zM52.5 292.3h.7v.7h-.7zM42.3 285.0h.7v.7h-.7zM52.7 292.3h.7v.7h-.7zM37.1 292.9h.7v.7h-.7zM55.1 289.9h.7v.7h-.7zM46.3 288.2h.7v.7h-.7zM40.3 294.7h.7v.7h-.7zM61.9 290.5h.7v.7h-.7zM43.3 293.5h.7v.7h-.7zM42.2 293.2h.7v.7h-.7zM48.8 285.6h.7v.7h-.7zM37.8 289.7h.7v.7h-.7zM48.9 291.2h.7v.7h-.7zM51.2 284.0h.7v.7h-.7zM46.9 287.3h.7v.7h-.7zM44.6 291.4h.7v.7h-.7zM38.3 289.0h.7v.7h-.7zM37.2 291.2h.7v.7h-.7zM39.0 287.8h.7v.7h-.7zM45.3 287.1h.7v.7h-.7zM50.7 287.2h.7v.7h-.7zM48.9 291.2h.7v.7h-.7zM38.0 289.0h.7v.7h-.7zM39.1 288.4h.7v.7h-.7zM42.4 297.9h.7v.7h-.7zM41.6 296.8h.7v.7h-.7zM46.6 284.3h.7v.7h-.7zM30.5 293.0h.7v.7h-.7zM32.4 293.1h.7v.7h-.7zM50.0 291.7h.7v.7h-.7zM42.8 288.9h.7v.7h-.7zM45.5 288.7h.7v.7h-.7zM40.9 288.4h.7v.7h-.7zM50.8 287.3h.7v.7h-.7zM46.2 285.0h.7v.7h-.7zM39.9 284.0h.7v.7h-.7zM42.9 293.0h.7v.7h-.7zM45.8 287.9h.7v.7h-.7zM47.6 288.5h.7v.7h-.7zM46.2 291.2h.7v.7h-.7zM47.1 279.2h.7v.7h-.7zM36.4 293.4h.7v.7h-.7zM43.4 299.8h.7v.7h-.7zM42.6 287.6h.7v.7h-.7zM52.7 292.4h.7v.7h-.7zM55.0 292.2h.7v.7h-.7zM42.8 293.2h.7v.7h-.7zM39.4 288.1h.7v.7h-.7zM40.8 289.0h.7v.7h-.7zM48.5 287.9h.7v.7h-.7zM45.9 287.8h.7v.7h-.7zM49.1 278.0h.7v.7h-.7zM42.8 290.7h.7v.7h-.7zM37.7 294.4h.7v.7h-.7zM45.3 295.6h.7v.7h-.7zM49.6 292.8h.7v.7h-.7zM43.1 285.3h.7v.7h-.7zM42.7 288.0h.7v.7h-.7zM45.4 288.0h.7v.7h-.7zM61.7 283.1h.7v.7h-.7zM50.8 288.0h.7v.7h-.7zM42.6 294.0h.7v.7h-.7zM44.0 284.7h.7v.7h-.7zM46.4 289.2h.7v.7h-.7zM32.1 290.9h.7v.7h-.7zM37.9 286.8h.7v.7h-.7zM46.8 291.3h.7v.7h-.7zM42.3 299.4h.7v.7h-.7zM46.4 287.3h.7v.7h-.7zM45.4 289.5h.7v.7h-.7zM31.2 283.2h.7v.7h-.7zM35.9 299.0h.7v.7h-.7zM42.9 288.8h.7v.7h-.7zM40.7 294.3h.7v.7h-.7zM44.2 297.4h.7v.7h-.7zM48.6 297.1h.7v.7h-.7zM43.3 291.6h.7v.7h-.7zM41.5 289.3h.7v.7h-.7zM34.0 287.5h.7v.7h-.7zM38.5 287.2h.7v.7h-.7zM51.0 291.1h.7v.7h-.7zM51.1 293.7h.7v.7h-.7zM49.3 294.4h.7v.7h-.7zM40.5 293.5h.7v.7h-.7zM42.1 287.7h.7v.7h-.7zM50.9 299.4h.7v.7h-.7zM38.3 297.5h.7v.7h-.7zM48.8 286.3h.7v.7h-.7zM45.6 291.6h.7v.7h-.7zM46.2 288.5h.7v.7h-.7zM36.6 290.1h.7v.7h-.7zM49.0 293.4h.7v.7h-.7zM47.8 294.8h.7v.7h-.7zM38.3 289.8h.7v.7h-.7zM46.0 294.3h.7v.7h-.7zM44.9 292.2h.7v.7h-.7zM44.8 299.1h.7v.7h-.7zM31.4 289.9h.7v.7h-.7zM58.3 291.0h.7v.7h-.7zM33.4 290.6h.7v.7h-.7zM35.7 287.1h.7v.7h-.7zM45.3 297.4h.7v.7h-.7zM46.7 292.9h.7v.7h-.7z" fill="#000" fill-opacity="0.35"/>
<path d="M52.4 270.9h.7v.7h-.7zM40.6 275.2h.7v.7h-.7zM48.1 270.4h.7v.7h-.7zM41.8 273.1h.7v.7h-.7zM36.6 272.1h.7v.7h-.7zM45.4 271.3h.7v.7h-.7zM46.2 280.5h.7v.7h-.7zM47.9 271.9h.7v.7h-.7zM38.7 270.8h.7v.7h-.7zM48.4 267.1h.7v.7h-.7zM48.7 265.8h.7v.7h-.7zM46.8 272.2h.7v.7h-.7zM52.2 267.8h.7v.7h-.7zM43.7 275.5h.7v.7h-.7zM46.3 282.0h.7v.7h-.7zM44.4 270.9h.7v.7h-.7zM44.0 276.6h.7v.7h-.7zM47.5 276.0h.7v.7h-.7zM37.3 290.7h.7v.7h-.7zM57.5 267.1h.7v.7h-.7zM38.4 277.6h.7v.7h-.7zM48.6 259.6h.7v.7h-.7zM46.1 265.0h.7v.7h-.7zM48.9 279.1h.7v.7h-.7zM52.5 261.6h.7v.7h-.7zM54.6 273.6h.7v.7h-.7zM43.7 276.8h.7v.7h-.7zM55.5 266.5h.7v.7h-.7zM45.9 270.0h.7v.7h-.7zM53.2 257.7h.7v.7h-.7zM54.9 263.3h.7v.7h-.7zM51.8 261.3h.7v.7h-.7zM40.1 272.7h.7v.7h-.7zM51.2 261.6h.7v.7h-.7zM49.8 267.7h.7v.7h-.7zM53.8 267.4h.7v.7h-.7zM49.0 270.5h.7v.7h-.7zM57.2 265.4h.7v.7h-.7zM45.8 283.8h.7v.7h-.7zM46.5 276.5h.7v.7h-.7zM41.4 276.4h.7v.7h-.7zM31.8 280.7h.7v.7h-.7zM42.0 266.9h.7v.7h-.7zM37.1 283.6h.7v.7h-.7zM48.7 263.5h.7v.7h-.7zM57.3 263.6h.7v.7h-.7zM43.7 275.5h.7v.7h-.7zM38.9 267.8h.7v.7h-.7zM41.3 281.7h.7v.7h-.7zM52.0 261.5h.7v.7h-.7zM53.5 269.4h.7v.7h-.7zM49.1 271.7h.7v.7h-.7zM48.6 266.3h.7v.7h-.7zM40.3 272.0h.7v.7h-.7zM43.7 277.5h.7v.7h-.7zM38.4 285.4h.7v.7h-.7zM42.0 271.8h.7v.7h-.7zM50.4 273.2h.7v.7h-.7zM43.9 268.3h.7v.7h-.7zM39.7 267.5h.7v.7h-.7zM53.2 275.3h.7v.7h-.7zM57.7 269.9h.7v.7h-.7zM48.1 276.1h.7v.7h-.7zM52.0 268.6h.7v.7h-.7zM48.2 283.6h.7v.7h-.7zM35.4 270.7h.7v.7h-.7zM40.0 280.1h.7v.7h-.7zM53.4 267.4h.7v.7h-.7zM50.2 270.6h.7v.7h-.7zM47.9 269.1h.7v.7h-.7zM45.8 273.1h.7v.7h-.7zM53.1 281.6h.7v.7h-.7zM34.6 281.6h.7v.7h-.7zM46.0 278.3h.7v.7h-.7zM52.6 273.9h.7v.7h-.7zM51.1 265.3h.7v.7h-.7zM35.3 287.4h.7v.7h-.7zM53.6 264.1h.7v.7h-.7zM54.1 272.6h.7v.7h-.7zM30.6 285.6h.7v.7h-.7zM39.8 282.4h.7v.7h-.7zM41.7 271.1h.7v.7h-.7zM36.3 276.7h.7v.7h-.7zM52.4 266.2h.7v.7h-.7zM34.4 290.4h.7v.7h-.7zM57.6 271.0h.7v.7h-.7zM42.6 268.1h.7v.7h-.7zM35.7 281.2h.7v.7h-.7zM54.1 263.2h.7v.7h-.7zM46.0 271.5h.7v.7h-.7zM44.4 276.5h.7v.7h-.7zM59.1 263.0h.7v.7h-.7zM51.3 276.2h.7v.7h-.7zM44.2 273.1h.7v.7h-.7zM37.6 283.1h.7v.7h-.7zM42.7 271.1h.7v.7h-.7zM46.4 268.1h.7v.7h-.7zM39.5 274.6h.7v.7h-.7zM55.3 267.2h.7v.7h-.7zM49.3 263.4h.7v.7h-.7zM33.8 289.0h.7v.7h-.7zM43.5 265.9h.7v.7h-.7zM45.3 276.6h.7v.7h-.7zM35.2 273.6h.7v.7h-.7zM47.6 267.2h.7v.7h-.7zM51.0 275.7h.7v.7h-.7zM48.8 269.3h.7v.7h-.7zM45.7 269.7h.7v.7h-.7zM45.2 275.1h.7v.7h-.7zM44.1 279.2h.7v.7h-.7zM62.3 261.9h.7v.7h-.7zM48.2 276.4h.7v.7h-.7zM50.0 269.7h.7v.7h-.7zM43.0 280.0h.7v.7h-.7zM49.9 273.8h.7v.7h-.7zM41.0 279.0h.7v.7h-.7zM51.0 269.5h.7v.7h-.7zM50.1 282.8h.7v.7h-.7zM34.2 282.2h.7v.7h-.7zM38.6 269.3h.7v.7h-.7zM44.5 276.7h.7v.7h-.7zM46.3 266.5h.7v.7h-.7zM37.0 274.5h.7v.7h-.7zM46.1 268.4h.7v.7h-.7zM36.6 287.3h.7v.7h-.7zM40.7 274.8h.7v.7h-.7zM42.6 271.5h.7v.7h-.7zM46.3 271.3h.7v.7h-.7zM49.9 264.6h.7v.7h-.7zM36.7 288.3h.7v.7h-.7zM45.5 277.4h.7v.7h-.7zM53.4 272.3h.7v.7h-.7zM46.2 264.4h.7v.7h-.7zM35.9 283.4h.7v.7h-.7zM50.3 274.0h.7v.7h-.7zM35.6 266.6h.7v.7h-.7zM39.4 269.9h.7v.7h-.7zM47.0 266.9h.7v.7h-.7zM56.0 264.6h.7v.7h-.7zM42.5 279.5h.7v.7h-.7zM48.1 267.1h.7v.7h-.7zM51.2 280.9h.7v.7h-.7zM38.3 275.5h.7v.7h-.7zM39.2 265.8h.7v.7h-.7zM49.9 274.8h.7v.7h-.7zM52.1 272.3h.7v.7h-.7zM33.3 279.2h.7v.7h-.7zM41.8 268.7h.7v.7h-.7zM39.0 280.7h.7v.7h-.7zM44.1 284.7h.7v.7h-.7z" fill="#000" fill-opacity="0.3"/>
<path d="M32.4 271.4h.7v.7h-.7zM33.6 280.6h.7v.7h-.7zM31.1 273.5h.7v.7h-.7zM36.2 273.2h.7v.7h-.7zM30.8 271.4h.7v.7h-.7zM27.3 272.0h.7v.7h-.7zM34.2 280.4h.7v.7h-.7zM29.8 273.0h.7v.7h-.7zM30.8 278.1h.7v.7h-.7zM26.5 273.6h.7v.7h-.7zM30.7 279.1h.7v.7h-.7zM31.2 278.3h.7v.7h-.7zM27.4 269.7h.7v.7h-.7zM31.9 274.3h.7v.7h-.7zM30.6 275.9h.7v.7h-.7zM32.4 274.7h.7v.7h-.7zM35.2 277.1h.7v.7h-.7zM32.5 278.8h.7v.7h-.7zM34.0 278.2h.7v.7h-.7zM25.9 275.2h.7v.7h-.7zM36.5 278.4h.7v.7h-.7zM32.6 278.4h.7v.7h-.7zM29.1 275.0h.7v.7h-.7zM29.1 280.4h.7v.7h-.7zM32.1 282.2h.7v.7h-.7zM32.5 282.5h.7v.7h-.7zM32.3 273.5h.7v.7h-.7zM36.1 278.0h.7v.7h-.7zM34.5 277.6h.7v.7h-.7zM30.0 277.5h.7v.7h-.7z" fill="#000" fill-opacity="0.3"/>
<path d="M21.5 294.1h.7v.7h-.7zM22.6 295.7h.7v.7h-.7zM20.4 296.7h.7v.7h-.7zM36.0 296.9h.7v.7h-.7zM31.3 296.5h.7v.7h-.7zM28.9 296.9h.7v.7h-.7zM24.3 297.2h.7v.7h-.7zM19.7 298.1h.7v.7h-.7zM25.6 294.3h.7v.7h-.7zM25.2 298.4h.7v.7h-.7zM23.7 298.2h.7v.7h-.7zM21.7 296.7h.7v.7h-.7zM28.3 298.9h.7v.7h-.7zM19.8 295.6h.7v.7h-.7zM35.2 296.3h.7v.7h-.7zM37.6 295.2h.7v.7h-.7zM25.6 293.1h.7v.7h-.7zM30.1 297.7h.7v.7h-.7zM36.9 297.4h.7v.7h-.7zM25.8 293.5h.7v.7h-.7zM26.6 299.3h.7v.7h-.7zM31.3 296.9h.7v.7h-.7zM30.0 297.4h.7v.7h-.7zM28.8 294.4h.7v.7h-.7zM28.9 297.7h.7v.7h-.7zM34.6 294.7h.7v.7h-.7zM28.7 297.9h.7v.7h-.7zM21.5 295.8h.7v.7h-.7zM28.0 298.8h.7v.7h-.7zM37.8 297.7h.7v.7h-.7zM24.0 291.2h.7v.7h-.7zM32.3 296.7h.7v.7h-.7zM26.5 294.6h.7v.7h-.7zM30.6 292.6h.7v.7h-.7zM27.5 297.3h.7v.7h-.7zM26.5 297.2h.7v.7h-.7zM31.2 293.2h.7v.7h-.7zM25.6 297.2h.7v.7h-.7zM31.7 295.0h.7v.7h-.7zM31.0 298.0h.7v.7h-.7zM19.6 293.3h.7v.7h-.7zM19.9 297.3h.7v.7h-.7zM28.0 298.8h.7v.7h-.7zM31.1 295.6h.7v.7h-.7zM32.3 299.0h.7v.7h-.7zM29.3 298.2h.7v.7h-.7zM20.6 297.9h.7v.7h-.7zM21.9 294.0h.7v.7h-.7zM25.3 297.3h.7v.7h-.7zM26.7 296.2h.7v.7h-.7zM22.0 297.5h.7v.7h-.7z" fill="#000" fill-opacity="0.4"/>
<path d="M84.9 284.4h.7v.7h-.7zM89.5 295.8h.7v.7h-.7zM86.8 285.8h.7v.7h-.7zM96.6 296.8h.7v.7h-.7zM87.4 289.2h.7v.7h-.7zM89.7 294.0h.7v.7h-.7zM91.4 282.8h.7v.7h-.7zM83.0 285.1h.7v.7h-.7zM91.4 290.4h.7v.7h-.7zM98.8 288.9h.7v.7h-.7zM90.7 290.3h.7v.7h-.7zM89.8 299.2h.7v.7h-.7zM90.6 295.9h.7v.7h-.7zM96.1 287.6h.7v.7h-.7zM92.8 288.5h.7v.7h-.7zM89.6 290.6h.7v.7h-.7zM89.1 288.1h.7v.7h-.7zM97.5 288.9h.7v.7h-.7zM92.9 296.7h.7v.7h-.7zM92.4 294.1h.7v.7h-.7zM96.6 294.3h.7v.7h-.7zM98.4 284.3h.7v.7h-.7zM99.7 290.1h.7v.7h-.7zM79.4 287.4h.7v.7h-.7zM81.4 289.9h.7v.7h-.7zM80.8 286.0h.7v.7h-.7zM90.6 290.6h.7v.7h-.7zM84.6 289.1h.7v.7h-.7zM88.5 290.3h.7v.7h-.7zM89.0 289.1h.7v.7h-.7zM93.8 283.6h.7v.7h-.7zM86.3 290.5h.7v.7h-.7zM86.8 287.8h.7v.7h-.7zM86.6 290.8h.7v.7h-.7zM95.8 289.3h.7v.7h-.7zM87.5 291.4h.7v.7h-.7zM87.7 282.3h.7v.7h-.7zM90.5 288.5h.7v.7h-.7zM85.9 292.5h.7v.7h-.7zM89.2 287.7h.7v.7h-.7zM89.1 289.5h.7v.7h-.7zM91.4 290.9h.7v.7h-.7zM86.4 284.9h.7v.7h-.7zM83.0 289.4h.7v.7h-.7zM82.7 293.0h.7v.7h-.7zM81.7 282.8h.7v.7h-.7zM87.9 282.9h.7v.7h-.7zM97.9 286.0h.7v.7h-.7zM88.7 289.0h.7v.7h-.7zM84.5 282.9h.7v.7h-.7zM78.8 293.5h.7v.7h-.7zM94.6 298.7h.7v.7h-.7zM81.0 292.2h.7v.7h-.7zM88.9 293.4h.7v.7h-.7zM86.2 292.9h.7v.7h-.7zM93.9 292.4h.7v.7h-.7zM97.0 289.3h.7v.7h-.7zM97.5 287.2h.7v.7h-.7zM98.2 279.0h.7v.7h-.7zM89.1 286.8h.7v.7h-.7zM89.0 294.1h.7v.7h-.7zM92.9 290.4h.7v.7h-.7zM98.4 284.1h.7v.7h-.7zM84.5 296.0h.7v.7h-.7zM90.8 281.7h.7v.7h-.7zM90.9 285.3h.7v.7h-.7zM97.1 294.6h.7v.7h-.7zM86.0 295.2h.7v.7h-.7zM84.4 293.7h.7v.7h-.7zM92.2 289.5h.7v.7h-.7zM81.2 288.9h.7v.7h-.7zM78.8 294.9h.7v.7h-.7zM83.7 280.3h.7v.7h-.7zM92.2 291.5h.7v.7h-.7zM86.2 298.5h.7v.7h-.7zM93.3 290.3h.7v.7h-.7zM85.5 278.2h.7v.7h-.7zM91.6 293.8h.7v.7h-.7zM85.7 284.3h.7v.7h-.7zM88.8 283.3h.7v.7h-.7zM89.0 293.1h.7v.7h-.7zM97.3 291.1h.7v.7h-.7zM90.1 293.0h.7v.7h-.7zM96.7 288.7h.7v.7h-.7zM82.2 286.8h.7v.7h-.7zM82.1 286.4h.7v.7h-.7zM88.3 291.4h.7v.7h-.7zM89.9 290.3h.7v.7h-.7zM87.0 291.7h.7v.7h-.7zM93.9 293.0h.7v.7h-.7zM97.2 288.8h.7v.7h-.7zM87.6 296.8h.7v.7h-.7zM90.1 291.7h.7v.7h-.7zM87.2 293.9h.7v.7h-.7zM86.8 286.0h.7v.7h-.7zM88.7 288.2h.7v.7h-.7zM93.6 288.5h.7v.7h-.7zM89.7 289.1h.7v.7h-.7zM90.9 287.5h.7v.7h-.7zM95.1 284.3h.7v.7h-.7zM86.9 287.2h.7v.7h-.7zM92.6 290.2h.7v.7h-.7zM91.7 288.7h.7v.7h-.7zM85.1 285.5h.7v.7h-.7zM87.2 287.9h.7v.7h-.7zM90.5 291.4h.7v.7h-.7zM94.4 289.6h.7v.7h-.7zM84.9 285.8h.7v.7h-.7zM89.3 291.4h.7v.7h-.7zM99.7 290.7h.7v.7h-.7zM98.7 297.5h.7v.7h-.7zM83.2 294.8h.7v.7h-.7zM95.3 295.4h.7v.7h-.7zM88.9 293.8h.7v.7h-.7zM86.4 289.7h.7v.7h-.7zM89.1 297.1h.7v.7h-.7zM87.8 293.8h.7v.7h-.7zM89.4 287.2h.7v.7h-.7zM90.3 292.6h.7v.7h-.7zM85.1 292.5h.7v.7h-.7zM85.1 286.5h.7v.7h-.7zM90.2 289.1h.7v.7h-.7zM83.6 283.5h.7v.7h-.7zM89.1 291.0h.7v.7h-.7zM86.5 290.7h.7v.7h-.7zM80.6 291.6h.7v.7h-.7zM91.3 291.1h.7v.7h-.7zM85.6 290.3h.7v.7h-.7zM89.7 294.3h.7v.7h-.7zM90.5 291.0h.7v.7h-.7zM85.0 293.4h.7v.7h-.7zM95.4 288.0h.7v.7h-.7zM92.5 291.2h.7v.7h-.7zM88.7 284.9h.7v.7h-.7zM98.7 282.5h.7v.7h-.7zM90.7 288.5h.7v.7h-.7zM95.3 288.3h.7v.7h-.7zM89.2 292.4h.7v.7h-.7zM91.5 287.9h.7v.7h-.7zM92.7 291.6h.7v.7h-.7zM94.4 288.0h.7v.7h-.7zM88.7 288.4h.7v.7h-.7zM84.4 291.0h.7v.7h-.7zM91.2 295.7h.7v.7h-.7zM87.2 291.5h.7v.7h-.7zM95.3 289.5h.7v.7h-.7zM89.3 290.5h.7v.7h-.7zM85.2 286.1h.7v.7h-.7zM95.1 290.7h.7v.7h-.7zM88.6 285.0h.7v.7h-.7zM89.6 294.7h.7v.7h-.7zM82.7 286.4h.7v.7h-.7zM95.1 295.7h.7v.7h-.7zM97.5 287.8h.7v.7h-.7zM92.3 287.0h.7v.7h-.7zM91.9 288.5h.7v.7h-.7zM90.1 295.3h.7v.7h-.7zM90.9 289.0h.7v.7h-.7zM89.3 291.1h.7v.7h-.7zM86.2 290.8h.7v.7h-.7zM92.3 296.2h.7v.7h-.7zM82.2 293.5h.7v.7h-.7zM102.3 290.8h.7v.7h-.7zM89.7 294.5h.7v.7h-.7zM86.2 288.1h.7v.7h-.7zM90.9 287.7h.7v.7h-.7zM95.1 290.0h.7v.7h-.7zM86.5 293.7h.7v.7h-.7zM84.5 295.0h.7v.7h-.7zM94.3 290.6h.7v.7h-.7zM94.4 296.4h.7v.7h-.7zM96.5 290.0h.7v.7h-.7zM88.7 294.4h.7v.7h-.7zM81.0 287.6h.7v.7h-.7zM91.6 292.3h.7v.7h-.7zM99.2 297.0h.7v.7h-.7zM90.8 291.8h.7v.7h-.7zM81.8 289.3h.7v.7h-.7zM90.4 289.1h.7v.7h-.7zM89.3 292.4h.7v.7h-.7zM83.8 287.8h.7v.7h-.7zM79.3 294.5h.7v.7h-.7zM83.3 283.3h.7v.7h-.7zM93.2 289.2h.7v.7h-.7zM94.3 288.5h.7v.7h-.7zM100.6 292.8h.7v.7h-.7zM89.8 290.5h.7v.7h-.7zM87.9 293.2h.7v.7h-.7zM99.9 288.3h.7v.7h-.7zM83.1 292.4h.7v.7h-.7zM94.8 284.1h.7v.7h-.7zM85.2 286.1h.7v.7h-.7zM92.1 292.0h.7v.7h-.7zM85.0 285.5h.7v.7h-.7zM92.7 281.9h.7v.7h-.7zM92.5 289.4h.7v.7h-.7zM99.4 293.9h.7v.7h-.7zM85.9 288.9h.7v.7h-.7zM87.5 287.1h.7v.7h-.7zM89.4 293.8h.7v.7h-.7zM80.8 289.1h.7v.7h-.7zM97.1 292.9h.7v.7h-.7zM84.6 286.8h.7v.7h-.7zM84.4 283.7h.7v.7h-.7zM95.2 290.3h.7v.7h-.7zM85.2 284.3h.7v.7h-.7zM86.9 288.0h.7v.7h-.7zM98.3 288.2h.7v.7h-.7zM89.6 294.2h.7v.7h-.7zM92.6 289.3h.7v.7h-.7zM92.2 288.3h.7v.7h-.7zM88.5 286.2h.7v.7h-.7zM84.1 284.2h.7v.7h-.7zM91.7 292.0h.7v.7h-.7zM89.9 293.1h.7v.7h-.7zM91.9 290.5h.7v.7h-.7zM84.2 292.3h.7v.7h-.7zM95.4 292.5h.7v.7h-.7zM95.7 288.1h.7v.7h-.7zM83.7 294.9h.7v.7h-.7zM85.8 291.0h.7v.7h-.7zM88.0 290.1h.7v.7h-.7zM87.5 287.9h.7v.7h-.7zM79.4 297.5h.7v.7h-.7zM90.1 282.4h.7v.7h-.7zM84.1 285.6h.7v.7h-.7zM85.0 280.0h.7v.7h-.7zM92.1 296.4h.7v.7h-.7zM87.7 292.9h.7v.7h-.7zM92.2 285.1h.7v.7h-.7zM95.6 283.4h.7v.7h-.7zM85.9 288.6h.7v.7h-.7zM95.8 290.5h.7v.7h-.7zM88.3 286.8h.7v.7h-.7zM89.5 290.2h.7v.7h-.7zM92.9 295.5h.7v.7h-.7zM93.0 290.1h.7v.7h-.7zM88.2 296.3h.7v.7h-.7zM90.1 289.9h.7v.7h-.7zM98.7 296.1h.7v.7h-.7zM92.1 289.6h.7v.7h-.7zM85.6 294.2h.7v.7h-.7zM86.6 293.8h.7v.7h-.7zM84.8 290.4h.7v.7h-.7zM91.2 290.6h.7v.7h-.7zM90.3 291.5h.7v.7h-.7zM83.0 285.7h.7v.7h-.7zM88.2 297.1h.7v.7h-.7zM88.3 286.4h.7v.7h-.7zM85.5 290.1h.7v.7h-.7zM95.4 287.8h.7v.7h-.7zM92.0 290.7h.7v.7h-.7zM87.1 286.3h.7v.7h-.7zM88.2 287.2h.7v.7h-.7zM91.9 283.1h.7v.7h-.7zM95.1 293.0h.7v.7h-.7zM92.1 295.9h.7v.7h-.7zM92.2 283.3h.7v.7h-.7zM89.3 291.8h.7v.7h-.7zM85.3 285.6h.7v.7h-.7zM91.3 292.0h.7v.7h-.7zM86.7 289.1h.7v.7h-.7zM86.3 287.8h.7v.7h-.7zM88.7 294.2h.7v.7h-.7zM80.4 288.7h.7v.7h-.7zM97.7 291.2h.7v.7h-.7zM89.8 293.3h.7v.7h-.7zM83.6 285.3h.7v.7h-.7zM80.1 284.3h.7v.7h-.7zM90.3 293.3h.7v.7h-.7zM86.8 287.3h.7v.7h-.7zM91.2 292.4h.7v.7h-.7zM90.4 282.6h.7v.7h-.7zM86.1 280.1h.7v.7h-.7zM90.3 286.7h.7v.7h-.7zM85.5 295.9h.7v.7h-.7zM96.1 291.9h.7v.7h-.7zM90.5 290.7h.7v.7h-.7zM85.9 289.8h.7v.7h-.7zM99.2 286.6h.7v.7h-.7zM85.5 290.6h.7v.7h-.7zM93.8 293.2h.7v.7h-.7zM83.8 289.5h.7v.7h-.7zM87.6 285.2h.7v.7h-.7zM89.4 288.1h.7v.7h-.7zM93.9 291.7h.7v.7h-.7zM84.8 290.3h.7v.7h-.7zM87.1 287.5h.7v.7h-.7zM86.4 294.1h.7v.7h-.7zM86.8 283.3h.7v.7h-.7zM84.9 293.1h.7v.7h-.7zM100.5 285.9h.7v.7h-.7zM87.1 288.7h.7v.7h-.7zM81.5 291.6h.7v.7h-.7zM88.7 291.1h.7v.7h-.7zM101.0 289.0h.7v.7h-.7zM93.2 293.2h.7v.7h-.7zM85.6 287.7h.7v.7h-.7zM97.3 292.8h.7v.7h-.7zM89.8 285.7h.7v.7h-.7zM93.7 292.1h.7v.7h-.7zM100.8 295.7h.7v.7h-.7zM93.3 291.0h.7v.7h-.7zM89.3 287.9h.7v.7h-.7zM90.7 291.0h.7v.7h-.7zM92.5 294.2h.7v.7h-.7zM90.7 287.9h.7v.7h-.7zM93.3 296.0h.7v.7h-.7zM84.5 291.6h.7v.7h-.7zM91.9 292.1h.7v.7h-.7zM91.7 289.6h.7v.7h-.7zM88.5 296.6h.7v.7h-.7zM98.3 284.6h.7v.7h-.7zM85.4 288.0h.7v.7h-.7zM80.5 291.4h.7v.7h-.7zM88.7 287.9h.7v.7h-.7zM93.8 299.5h.7v.7h-.7zM96.9 294.6h.7v.7h-.7zM86.8 292.6h.7v.7h-.7zM88.8 294.5h.7v.7h-.7zM92.1 289.9h.7v.7h-.7zM92.0 287.2h.7v.7h-.7zM93.2 295.8h.7v.7h-.7zM87.1 292.2h.7v.7h-.7zM80.1 293.6h.7v.7h-.7zM93.7 286.0h.7v.7h-.7zM98.3 290.4h.7v.7h-.7zM79.8 284.7h.7v.7h-.7zM93.7 288.9h.7v.7h-.7zM94.9 284.0h.7v.7h-.7zM88.5 293.8h.7v.7h-.7zM85.4 292.6h.7v.7h-.7zM87.1 291.3h.7v.7h-.7zM90.7 298.7h.7v.7h-.7zM82.4 293.0h.7v.7h-.7zM96.0 285.6h.7v.7h-.7zM89.4 299.0h.7v.7h-.7zM94.6 278.5h.7v.7h-.7zM87.7 283.4h.7v.7h-.7zM90.6 287.2h.7v.7h-.7zM86.0 286.7h.7v.7h-.7zM90.6 288.2h.7v.7h-.7zM84.2 289.1h.7v.7h-.7zM91.2 286.7h.7v.7h-.7zM94.9 283.5h.7v.7h-.7zM91.2 288.5h.7v.7h-.7zM97.4 287.5h.7v.7h-.7zM85.5 284.8h.7v.7h-.7zM99.6 292.4h.7v.7h-.7zM83.2 288.7h.7v.7h-.7zM83.9 295.9h.7v.7h-.7zM91.2 282.1h.7v.7h-.7zM90.1 293.6h.7v.7h-.7zM89.0 291.8h.7v.7h-.7zM88.4 290.8h.7v.7h-.7zM90.1 287.3h.7v.7h-.7zM90.9 290.6h.7v.7h-.7zM88.8 287.3h.7v.7h-.7zM83.6 291.0h.7v.7h-.7zM93.4 280.6h.7v.7h-.7zM86.1 295.3h.7v.7h-.7zM93.9 287.2h.7v.7h-.7zM96.2 286.2h.7v.7h-.7zM84.8 297.5h.7v.7h-.7zM86.7 289.2h.7v.7h-.7zM80.2 286.1h.7v.7h-.7zM82.7 289.5h.7v.7h-.7zM79.2 294.1h.7v.7h-.7zM87.1 287.6h.7v.7h-.7zM85.6 292.9h.7v.7h-.7zM97.2 288.4h.7v.7h-.7z" fill="#000" fill-opacity="0.4"/>
<path d="M94.5 293.6h.7v.7h-.7zM93.5 290.3h.7v.7h-.7zM83.0 291.2h.7v.7h-.7zM87.0 290.0h.7v.7h-.7zM81.5 288.8h.7v.7h-.7zM89.4 287.1h.7v.7h-.7zM89.6 293.7h.7v.7h-.7zM89.4 287.8h.7v.7h-.7zM97.3 284.1h.7v.7h-.7zM85.1 290.5h.7v.7h-.7zM86.3 283.7h.7v.7h-.7zM89.5 291.6h.7v.7h-.7zM85.6 293.2h.7v.7h-.7zM90.3 292.5h.7v.7h-.7zM82.9 289.5h.7v.7h-.7zM94.4 294.6h.7v.7h-.7zM93.4 289.5h.7v.7h-.7zM89.2 287.9h.7v.7h-.7zM92.6 287.7h.7v.7h-.7zM89.0 284.3h.7v.7h-.7zM82.9 294.0h.7v.7h-.7zM88.7 290.0h.7v.7h-.7zM80.4 289.4h.7v.7h-.7zM96.2 285.7h.7v.7h-.7zM79.7 289.1h.7v.7h-.7zM86.5 289.0h.7v.7h-.7zM83.8 286.1h.7v.7h-.7zM83.9 291.1h.7v.7h-.7zM88.3 291.6h.7v.7h-.7zM84.5 291.0h.7v.7h-.7zM86.9 289.7h.7v.7h-.7zM92.0 289.6h.7v.7h-.7zM87.2 285.3h.7v.7h-.7zM88.7 291.5h.7v.7h-.7zM86.2 289.3h.7v.7h-.7zM81.9 286.1h.7v.7h-.7zM90.0 292.8h.7v.7h-.7zM87.3 285.2h.7v.7h-.7zM87.1 285.5h.7v.7h-.7zM87.5 294.4h.7v.7h-.7zM89.6 289.1h.7v.7h-.7zM92.4 288.5h.7v.7h-.7zM89.7 290.0h.7v.7h-.7zM90.2 285.8h.7v.7h-.7zM91.1 291.7h.7v.7h-.7zM80.0 282.6h.7v.7h-.7zM85.2 293.3h.7v.7h-.7zM88.6 291.2h.7v.7h-.7zM90.6 291.8h.7v.7h-.7zM86.1 288.0h.7v.7h-.7zM89.9 291.1h.7v.7h-.7zM90.6 290.4h.7v.7h-.7zM86.7 292.3h.7v.7h-.7zM90.3 292.2h.7v.7h-.7zM79.0 292.1h.7v.7h-.7zM79.4 290.0h.7v.7h-.7zM86.0 289.8h.7v.7h-.7zM86.7 288.7h.7v.7h-.7zM89.2 290.4h.7v.7h-.7zM85.5 283.0h.7v.7h-.7zM85.6 290.9h.7v.7h-.7zM85.3 290.6h.7v.7h-.7zM87.1 287.1h.7v.7h-.7zM92.9 293.7h.7v.7h-.7zM88.1 289.4h.7v.7h-.7zM92.1 286.1h.7v.7h-.7zM85.2 292.4h.7v.7h-.7zM91.9 288.2h.7v.7h-.7zM85.6 290.4h.7v.7h-.7zM83.2 288.2h.7v.7h-.7zM87.6 283.2h.7v.7h-.7zM90.7 291.5h.7v.7h-.7zM92.5 285.8h.7v.7h-.7zM83.7 287.4h.7v.7h-.7zM83.6 294.8h.7v.7h-.7zM84.8 288.7h.7v.7h-.7zM89.3 290.7h.7v.7h-.7zM94.0 286.7h.7v.7h-.7zM91.8 289.9h.7v.7h-.7zM84.1 289.9h.7v.7h-.7zM83.2 293.7h.7v.7h-.7zM85.8 292.1h.7v.7h-.7zM93.4 287.9h.7v.7h-.7zM85.1 289.8h.7v.7h-.7zM84.5 291.8h.7v.7h-.7zM89.2 287.5h.7v.7h-.7zM85.9 291.4h.7v.7h-.7zM83.0 293.9h.7v.7h-.7zM85.5 289.0h.7v.7h-.7zM85.0 293.7h.7v.7h-.7zM91.6 292.9h.7v.7h-.7zM91.0 289.7h.7v.7h-.7zM94.9 291.2h.7v.7h-.7zM90.1 291.0h.7v.7h-.7zM91.3 290.2h.7v.7h-.7zM87.9 285.4h.7v.7h-.7zM96.3 286.1h.7v.7h-.7zM80.4 287.7h.7v.7h-.7zM95.8 292.7h.7v.7h-.7zM86.2 290.2h.7v.7h-.7zM88.4 284.4h.7v.7h-.7zM87.2 290.3h.7v.7h-.7zM92.9 286.4h.7v.7h-.7zM80.0 285.4h.7v.7h-.7zM89.8 289.7h.7v.7h-.7zM89.1 289.9h.7v.7h-.7zM87.1 286.0h.7v.7h-.7zM90.2 290.5h.7v.7h-.7zM90.7 292.7h.7v.7h-.7zM83.8 283.4h.7v.7h-.7zM81.7 295.1h.7v.7h-.7zM85.0 290.5h.7v.7h-.7zM88.4 291.4h.7v.7h-.7zM100.7 288.2h.7v.7h-.7zM87.9 287.9h.7v.7h-.7zM89.4 290.9h.7v.7h-.7zM84.8 292.9h.7v.7h-.7zM92.9 290.7h.7v.7h-.7zM88.1 288.9h.7v.7h-.7zM82.3 291.2h.7v.7h-.7zM84.8 288.2h.7v.7h-.7zM92.3 287.1h.7v.7h-.7zM86.5 291.7h.7v.7h-.7zM95.6 287.7h.7v.7h-.7zM92.7 287.8h.7v.7h-.7zM90.0 290.8h.7v.7h-.7zM84.2 292.2h.7v.7h-.7zM95.3 289.6h.7v.7h-.7zM89.5 286.5h.7v.7h-.7zM95.3 289.7h.7v.7h-.7zM83.7 291.5h.7v.7h-.7zM82.9 287.7h.7v.7h-.7zM80.4 293.1h.7v.7h-.7zM96.9 287.8h.7v.7h-.7zM86.0 288.0h.7v.7h-.7zM86.4 290.9h.7v.7h-.7zM94.0 286.9h.7v.7h-.7zM90.2 284.8h.7v.7h-.7zM94.3 289.3h.7v.7h-.7zM85.8 293.5h.7v.7h-.7zM88.1 293.1h.7v.7h-.7zM92.6 293.8h.7v.7h-.7zM85.5 289.6h.7v.7h-.7zM89.9 289.0h.7v.7h-.7zM94.3 287.6h.7v.7h-.7zM92.3 293.0h.7v.7h-.7zM81.1 287.0h.7v.7h-.7zM85.1 288.1h.7v.7h-.7zM90.0 289.0h.7v.7h-.7zM88.8 288.3h.7v.7h-.7zM88.2 290.8h.7v.7h-.7zM91.3 287.5h.7v.7h-.7zM88.1 287.5h.7v.7h-.7zM87.8 285.8h.7v.7h-.7zM92.1 291.2h.7v.7h-.7zM88.0 287.7h.7v.7h-.7zM86.8 287.8h.7v.7h-.7zM82.6 293.7h.7v.7h-.7zM101.0 286.3h.7v.7h-.7zM84.1 291.0h.7v.7h-.7zM90.8 285.4h.7v.7h-.7zM81.2 290.9h.7v.7h-.7zM80.9 293.2h.7v.7h-.7zM86.6 289.7h.7v.7h-.7zM88.5 288.0h.7v.7h-.7zM88.0 288.7h.7v.7h-.7zM93.2 289.3h.7v.7h-.7zM88.4 288.1h.7v.7h-.7zM86.1 287.6h.7v.7h-.7zM88.5 294.3h.7v.7h-.7zM92.7 290.1h.7v.7h-.7zM94.8 292.1h.7v.7h-.7zM89.3 289.1h.7v.7h-.7zM84.3 290.1h.7v.7h-.7zM87.3 285.4h.7v.7h-.7zM83.6 294.5h.7v.7h-.7zM89.3 290.8h.7v.7h-.7zM89.3 288.3h.7v.7h-.7zM90.3 292.3h.7v.7h-.7zM87.3 290.8h.7v.7h-.7zM92.4 288.2h.7v.7h-.7zM89.1 287.6h.7v.7h-.7zM90.8 288.5h.7v.7h-.7zM92.9 287.5h.7v.7h-.7zM94.9 288.7h.7v.7h-.7zM85.3 287.2h.7v.7h-.7zM91.0 287.3h.7v.7h-.7zM95.4 292.8h.7v.7h-.7zM90.5 285.8h.7v.7h-.7zM88.4 287.6h.7v.7h-.7zM81.6 290.6h.7v.7h-.7zM96.9 288.1h.7v.7h-.7zM91.6 292.8h.7v.7h-.7zM84.8 288.6h.7v.7h-.7zM89.5 290.7h.7v.7h-.7zM84.1 290.1h.7v.7h-.7zM88.1 292.0h.7v.7h-.7zM82.4 288.0h.7v.7h-.7zM86.6 288.7h.7v.7h-.7zM91.2 287.9h.7v.7h-.7zM98.9 287.7h.7v.7h-.7zM91.7 292.2h.7v.7h-.7zM92.2 289.0h.7v.7h-.7zM85.3 288.8h.7v.7h-.7zM91.0 289.8h.7v.7h-.7zM90.7 291.0h.7v.7h-.7zM85.1 287.1h.7v.7h-.7zM94.0 288.2h.7v.7h-.7zM82.5 294.3h.7v.7h-.7zM85.3 287.1h.7v.7h-.7zM92.2 286.6h.7v.7h-.7zM85.2 292.2h.7v.7h-.7zM85.4 296.0h.7v.7h-.7zM88.9 296.5h.7v.7h-.7zM89.0 289.6h.7v.7h-.7zM86.1 288.9h.7v.7h-.7zM86.6 289.4h.7v.7h-.7zM91.4 286.2h.7v.7h-.7zM85.0 284.1h.7v.7h-.7zM94.2 289.3h.7v.7h-.7zM88.4 289.3h.7v.7h-.7zM92.3 290.3h.7v.7h-.7zM91.7 289.1h.7v.7h-.7zM88.0 289.4h.7v.7h-.7zM81.4 292.3h.7v.7h-.7zM82.5 286.9h.7v.7h-.7zM91.0 289.6h.7v.7h-.7zM91.6 293.9h.7v.7h-.7zM95.6 293.1h.7v.7h-.7zM87.6 294.8h.7v.7h-.7zM85.2 289.3h.7v.7h-.7zM92.3 288.9h.7v.7h-.7zM88.0 288.6h.7v.7h-.7zM93.7 283.1h.7v.7h-.7zM93.3 292.3h.7v.7h-.7zM88.2 291.0h.7v.7h-.7zM84.8 292.4h.7v.7h-.7zM100.1 287.1h.7v.7h-.7zM93.8 289.4h.7v.7h-.7zM87.2 288.2h.7v.7h-.7zM87.8 286.2h.7v.7h-.7zM83.3 293.8h.7v.7h-.7zM88.4 290.9h.7v.7h-.7zM89.7 290.7h.7v.7h-.7zM82.7 287.0h.7v.7h-.7zM90.9 292.1h.7v.7h-.7zM84.2 288.0h.7v.7h-.7zM84.4 291.2h.7v.7h-.7zM89.8 289.6h.7v.7h-.7zM86.0 290.4h.7v.7h-.7zM88.6 287.6h.7v.7h-.7zM89.8 287.8h.7v.7h-.7zM92.1 291.1h.7v.7h-.7zM85.9 291.0h.7v.7h-.7zM88.8 287.7h.7v.7h-.7zM85.0 285.2h.7v.7h-.7zM84.2 290.4h.7v.7h-.7zM93.1 287.9h.7v.7h-.7zM89.1 290.4h.7v.7h-.7zM91.5 290.7h.7v.7h-.7zM93.2 291.5h.7v.7h-.7zM85.6 290.5h.7v.7h-.7zM79.6 289.0h.7v.7h-.7zM88.6 291.0h.7v.7h-.7zM87.4 291.7h.7v.7h-.7zM93.5 287.3h.7v.7h-.7zM86.4 290.2h.7v.7h-.7zM90.4 289.9h.7v.7h-.7zM91.7 286.4h.7v.7h-.7zM91.4 292.5h.7v.7h-.7zM92.7 290.6h.7v.7h-.7zM87.6 290.5h.7v.7h-.7zM88.2 285.4h.7v.7h-.7zM86.2 289.4h.7v.7h-.7zM86.5 287.1h.7v.7h-.7zM87.6 288.5h.7v.7h-.7zM88.8 289.4h.7v.7h-.7zM89.2 292.1h.7v.7h-.7zM89.0 290.6h.7v.7h-.7zM83.9 281.8h.7v.7h-.7zM87.0 291.3h.7v.7h-.7zM87.2 287.9h.7v.7h-.7zM83.8 291.8h.7v.7h-.7zM86.5 290.1h.7v.7h-.7zM92.8 290.9h.7v.7h-.7zM97.0 289.2h.7v.7h-.7zM92.1 291.3h.7v.7h-.7zM86.0 289.6h.7v.7h-.7zM86.4 286.8h.7v.7h-.7zM89.6 287.5h.7v.7h-.7zM94.9 287.6h.7v.7h-.7zM86.4 289.7h.7v.7h-.7zM86.5 289.6h.7v.7h-.7zM86.2 285.8h.7v.7h-.7zM79.3 286.1h.7v.7h-.7zM94.3 290.7h.7v.7h-.7zM89.1 288.3h.7v.7h-.7zM87.9 290.3h.7v.7h-.7zM83.2 287.4h.7v.7h-.7zM85.1 292.8h.7v.7h-.7zM84.5 292.5h.7v.7h-.7zM86.7 296.6h.7v.7h-.7zM88.2 289.6h.7v.7h-.7zM93.6 291.8h.7v.7h-.7zM92.1 286.7h.7v.7h-.7zM92.8 293.9h.7v.7h-.7zM88.1 288.2h.7v.7h-.7zM84.4 292.1h.7v.7h-.7zM89.6 289.5h.7v.7h-.7zM83.8 293.7h.7v.7h-.7zM91.8 289.4h.7v.7h-.7zM94.1 287.0h.7v.7h-.7zM91.9 286.9h.7v.7h-.7zM93.9 288.8h.7v.7h-.7zM93.1 288.4h.7v.7h-.7zM90.0 292.5h.7v.7h-.7zM85.1 289.8h.7v.7h-.7zM85.3 291.7h.7v.7h-.7zM86.2 288.5h.7v.7h-.7zM87.7 292.5h.7v.7h-.7zM84.5 289.4h.7v.7h-.7zM87.3 288.1h.7v.7h-.7zM85.5 289.1h.7v.7h-.7zM89.2 285.5h.7v.7h-.7zM89.4 286.4h.7v.7h-.7zM88.6 295.4h.7v.7h-.7zM84.8 289.3h.7v.7h-.7zM87.5 292.1h.7v.7h-.7zM86.7 284.9h.7v.7h-.7zM82.4 290.0h.7v.7h-.7zM89.5 292.3h.7v.7h-.7zM86.5 291.2h.7v.7h-.7zM84.5 292.9h.7v.7h-.7zM88.2 287.7h.7v.7h-.7zM89.2 294.0h.7v.7h-.7zM85.3 286.3h.7v.7h-.7zM84.6 286.5h.7v.7h-.7zM88.3 290.4h.7v.7h-.7zM87.9 290.0h.7v.7h-.7zM93.0 288.7h.7v.7h-.7zM83.7 283.6h.7v.7h-.7zM89.4 287.7h.7v.7h-.7zM87.6 290.6h.7v.7h-.7zM90.3 285.4h.7v.7h-.7zM84.9 289.7h.7v.7h-.7zM88.0 292.5h.7v.7h-.7zM86.6 284.1h.7v.7h-.7zM92.9 285.2h.7v.7h-.7zM84.8 290.5h.7v.7h-.7zM84.5 296.0h.7v.7h-.7zM89.4 290.9h.7v.7h-.7zM86.8 295.3h.7v.7h-.7zM90.6 287.6h.7v.7h-.7zM93.3 285.1h.7v.7h-.7zM86.3 290.3h.7v.7h-.7zM89.0 287.0h.7v.7h-.7zM94.5 293.3h.7v.7h-.7zM84.9 290.5h.7v.7h-.7zM86.1 288.4h.7v.7h-.7zM92.2 289.8h.7v.7h-.7zM88.1 289.8h.7v.7h-.7zM84.0 292.7h.7v.7h-.7zM85.6 292.9h.7v.7h-.7zM86.8 288.3h.7v.7h-.7zM94.1 290.0h.7v.7h-.7zM86.1 288.1h.7v.7h-.7zM90.8 294.4h.7v.7h-.7zM90.8 288.5h.7v.7h-.7zM84.2 287.8h.7v.7h-.7zM88.0 290.1h.7v.7h-.7zM86.0 292.8h.7v.7h-.7zM84.9 287.6h.7v.7h-.7zM90.4 290.8h.7v.7h-.7zM87.0 292.0h.7v.7h-.7zM83.1 293.7h.7v.7h-.7zM96.8 294.6h.7v.7h-.7zM89.0 294.6h.7v.7h-.7zM88.7 293.0h.7v.7h-.7zM87.7 290.0h.7v.7h-.7zM90.5 285.0h.7v.7h-.7zM87.7 294.0h.7v.7h-.7zM92.0 290.4h.7v.7h-.7zM89.2 293.1h.7v.7h-.7zM89.8 284.6h.7v.7h-.7zM84.9 288.7h.7v.7h-.7zM89.0 288.3h.7v.7h-.7zM88.1 293.8h.7v.7h-.7zM92.1 291.1h.7v.7h-.7zM88.6 289.7h.7v.7h-.7zM89.9 290.1h.7v.7h-.7zM85.8 291.5h.7v.7h-.7zM85.4 289.4h.7v.7h-.7zM87.1 286.5h.7v.7h-.7zM90.8 289.3h.7v.7h-.7zM84.1 289.3h.7v.7h-.7zM83.3 293.2h.7v.7h-.7zM90.5 294.7h.7v.7h-.7zM86.3 291.3h.7v.7h-.7zM84.8 287.3h.7v.7h-.7zM88.2 290.6h.7v.7h-.7zM92.0 288.8h.7v.7h-.7zM92.7 292.0h.7v.7h-.7zM85.2 289.0h.7v.7h-.7zM85.0 293.9h.7v.7h-.7zM86.4 291.8h.7v.7h-.7zM92.0 288.8h.7v.7h-.7zM86.7 290.4h.7v.7h-.7zM85.6 286.2h.7v.7h-.7zM84.8 290.4h.7v.7h-.7zM89.2 294.1h.7v.7h-.7zM81.6 290.8h.7v.7h-.7zM84.1 292.5h.7v.7h-.7zM91.1 289.8h.7v.7h-.7zM94.1 288.5h.7v.7h-.7zM86.5 286.8h.7v.7h-.7zM86.0 289.8h.7v.7h-.7zM91.0 292.8h.7v.7h-.7zM87.5 287.6h.7v.7h-.7zM87.2 288.4h.7v.7h-.7zM86.7 288.5h.7v.7h-.7zM85.2 289.4h.7v.7h-.7zM86.6 289.1h.7v.7h-.7zM83.3 289.9h.7v.7h-.7zM90.7 291.2h.7v.7h-.7zM86.4 286.6h.7v.7h-.7zM83.6 286.5h.7v.7h-.7zM86.1 288.7h.7v.7h-.7zM81.8 291.2h.7v.7h-.7zM82.7 287.7h.7v.7h-.7zM85.8 291.6h.7v.7h-.7zM95.4 288.6h.7v.7h-.7zM87.5 288.5h.7v.7h-.7zM87.7 289.1h.7v.7h-.7zM97.8 286.7h.7v.7h-.7zM88.1 287.5h.7v.7h-.7zM89.8 288.2h.7v.7h-.7zM90.7 286.7h.7v.7h-.7zM96.4 290.0h.7v.7h-.7zM81.8 291.3h.7v.7h-.7zM86.7 286.5h.7v.7h-.7zM90.2 288.2h.7v.7h-.7zM91.3 288.1h.7v.7h-.7zM91.9 289.9h.7v.7h-.7zM89.8 289.9h.7v.7h-.7zM87.1 288.6h.7v.7h-.7zM90.2 291.3h.7v.7h-.7zM87.0 295.3h.7v.7h-.7zM94.9 286.6h.7v.7h-.7zM92.6 289.3h.7v.7h-.7zM89.4 287.5h.7v.7h-.7zM94.7 287.4h.7v.7h-.7zM88.2 287.6h.7v.7h-.7zM95.8 292.7h.7v.7h-.7zM83.5 288.3h.7v.7h-.7zM89.9 288.4h.7v.7h-.7zM87.2 286.7h.7v.7h-.7zM89.4 286.7h.7v.7h-.7zM91.6 295.6h.7v.7h-.7zM87.3 293.7h.7v.7h-.7zM89.9 287.8h.7v.7h-.7zM87.2 287.0h.7v.7h-.7zM88.9 291.3h.7v.7h-.7zM92.0 288.8h.7v.7h-.7zM84.0 289.3h.7v.7h-.7zM94.8 290.2h.7v.7h-.7zM88.3 284.2h.7v.7h-.7zM86.9 290.9h.7v.7h-.7zM85.0 293.0h.7v.7h-.7zM86.4 287.3h.7v.7h-.7zM86.3 289.3h.7v.7h-.7zM92.2 288.1h.7v.7h-.7zM81.8 289.3h.7v.7h-.7zM90.5 293.4h.7v.7h-.7zM84.3 293.3h.7v.7h-.7zM91.0 290.7h.7v.7h-.7zM85.6 287.3h.7v.7h-.7zM84.9 291.9h.7v.7h-.7zM89.3 292.2h.7v.7h-.7zM95.3 289.6h.7v.7h-.7zM88.3 294.4h.7v.7h-.7zM83.6 288.4h.7v.7h-.7zM87.1 288.5h.7v.7h-.7zM89.0 287.4h.7v.7h-.7zM92.8 286.0h.7v.7h-.7zM85.5 285.2h.7v.7h-.7zM83.3 291.0h.7v.7h-.7zM90.9 289.0h.7v.7h-.7zM91.7 291.1h.7v.7h-.7zM86.3 289.4h.7v.7h-.7zM89.9 294.6h.7v.7h-.7zM86.9 290.5h.7v.7h-.7zM90.5 292.6h.7v.7h-.7zM90.1 292.2h.7v.7h-.7zM84.5 288.8h.7v.7h-.7zM81.3 289.4h.7v.7h-.7zM97.2 290.1h.7v.7h-.7zM88.8 290.2h.7v.7h-.7zM89.0 286.1h.7v.7h-.7zM85.9 289.1h.7v.7h-.7zM89.1 287.3h.7v.7h-.7zM88.1 287.6h.7v.7h-.7zM83.6 287.8h.7v.7h-.7zM85.5 291.6h.7v.7h-.7zM93.5 291.0h.7v.7h-.7zM87.7 288.1h.7v.7h-.7zM82.6 288.2h.7v.7h-.7zM94.3 292.4h.7v.7h-.7zM89.3 288.9h.7v.7h-.7zM88.5 290.6h.7v.7h-.7zM88.5 290.6h.7v.7h-.7zM85.6 289.6h.7v.7h-.7zM87.2 292.3h.7v.7h-.7zM83.9 292.8h.7v.7h-.7zM88.2 288.2h.7v.7h-.7zM88.6 289.8h.7v.7h-.7zM87.6 290.6h.7v.7h-.7zM86.3 285.2h.7v.7h-.7zM91.1 289.5h.7v.7h-.7zM94.7 290.5h.7v.7h-.7zM81.0 292.7h.7v.7h-.7zM85.9 290.9h.7v.7h-.7zM96.8 292.3h.7v.7h-.7zM84.4 289.3h.7v.7h-.7zM82.5 291.2h.7v.7h-.7zM90.6 286.9h.7v.7h-.7zM90.2 291.9h.7v.7h-.7zM91.5 287.8h.7v.7h-.7zM85.9 286.7h.7v.7h-.7zM83.7 290.3h.7v.7h-.7zM88.6 292.8h.7v.7h-.7zM89.5 288.7h.7v.7h-.7zM83.2 293.4h.7v.7h-.7zM89.1 289.4h.7v.7h-.7zM84.7 286.9h.7v.7h-.7zM90.9 287.1h.7v.7h-.7zM90.7 291.1h.7v.7h-.7zM87.1 285.4h.7v.7h-.7zM90.0 293.1h.7v.7h-.7zM85.4 286.3h.7v.7h-.7zM92.6 289.9h.7v.7h-.7zM86.2 292.6h.7v.7h-.7zM87.5 290.7h.7v.7h-.7zM87.0 287.6h.7v.7h-.7zM89.3 287.4h.7v.7h-.7zM81.9 288.2h.7v.7h-.7zM93.1 292.3h.7v.7h-.7zM96.6 292.0h.7v.7h-.7zM94.5 290.2h.7v.7h-.7zM86.9 290.7h.7v.7h-.7zM85.0 291.4h.7v.7h-.7zM86.8 290.2h.7v.7h-.7zM85.3 289.2h.7v.7h-.7zM92.2 289.0h.7v.7h-.7zM86.0 290.2h.7v.7h-.7zM91.8 289.1h.7v.7h-.7zM84.1 285.6h.7v.7h-.7zM83.5 292.2h.7v.7h-.7zM88.2 290.7h.7v.7h-.7zM92.5 290.2h.7v.7h-.7zM90.3 288.3h.7v.7h-.7zM82.5 291.1h.7v.7h-.7zM88.1 291.0h.7v.7h-.7zM84.5 289.2h.7v.7h-.7zM96.0 287.4h.7v.7h-.7zM88.9 292.8h.7v.7h-.7zM87.6 289.8h.7v.7h-.7zM80.6 291.5h.7v.7h-.7zM86.9 292.8h.7v.7h-.7zM88.2 288.6h.7v.7h-.7zM90.1 288.9h.7v.7h-.7zM86.6 293.4h.7v.7h-.7zM92.2 289.8h.7v.7h-.7zM91.5 291.6h.7v.7h-.7zM90.7 289.6h.7v.7h-.7zM88.8 290.6h.7v.7h-.7zM90.6 290.4h.7v.7h-.7zM86.5 289.3h.7v.7h-.7zM90.2 287.1h.7v.7h-.7zM88.5 291.4h.7v.7h-.7zM89.1 288.8h.7v.7h-.7zM88.4 288.3h.7v.7h-.7zM92.2 288.6h.7v.7h-.7zM82.3 286.5h.7v.7h-.7zM89.6 290.1h.7v.7h-.7zM86.7 286.3h.7v.7h-.7zM87.9 287.4h.7v.7h-.7zM86.1 289.5h.7v.7h-.7zM85.6 290.3h.7v.7h-.7zM85.7 288.4h.7v.7h-.7zM87.7 293.2h.7v.7h-.7zM94.4 291.9h.7v.7h-.7zM85.8 289.5h.7v.7h-.7zM91.9 291.5h.7v.7h-.7zM82.4 289.4h.7v.7h-.7zM85.7 291.4h.7v.7h-.7zM90.9 288.2h.7v.7h-.7zM96.5 288.8h.7v.7h-.7zM97.6 289.1h.7v.7h-.7z" fill="#000" fill-opacity="0.7"/>
<path d="M87.3 292.9h.7v.7h-.7zM86.3 289.3h.7v.7h-.7zM91.0 290.0h.7v.7h-.7zM88.6 288.1h.7v.7h-.7zM91.7 291.5h.7v.7h-.7zM88.3 291.1h.7v.7h-.7zM86.3 289.3h.7v.7h-.7zM83.8 290.6h.7v.7h-.7zM90.4 291.3h.7v.7h-.7zM89.7 291.1h.7v.7h-.7zM85.3 288.0h.7v.7h-.7zM89.0 290.3h.7v.7h-.7zM89.8 289.6h.7v.7h-.7zM85.4 290.7h.7v.7h-.7zM86.2 287.5h.7v.7h-.7zM86.1 288.7h.7v.7h-.7zM84.9 289.2h.7v.7h-.7zM89.7 293.6h.7v.7h-.7zM91.6 289.4h.7v.7h-.7zM90.2 289.9h.7v.7h-.7zM88.4 289.0h.7v.7h-.7zM87.3 287.5h.7v.7h-.7zM91.7 288.9h.7v.7h-.7zM88.9 289.1h.7v.7h-.7zM88.1 288.2h.7v.7h-.7zM86.6 291.4h.7v.7h-.7zM88.9 287.1h.7v.7h-.7zM89.5 288.0h.7v.7h-.7zM88.2 290.8h.7v.7h-.7zM86.0 289.5h.7v.7h-.7zM86.9 290.6h.7v.7h-.7zM89.6 292.1h.7v.7h-.7zM88.3 293.1h.7v.7h-.7zM85.3 292.7h.7v.7h-.7zM86.9 291.2h.7v.7h-.7zM87.2 290.2h.7v.7h-.7zM85.3 290.6h.7v.7h-.7zM92.3 290.3h.7v.7h-.7zM87.5 290.0h.7v.7h-.7zM89.2 289.7h.7v.7h-.7zM87.5 290.4h.7v.7h-.7zM90.6 291.5h.7v.7h-.7zM85.0 289.1h.7v.7h-.7zM87.5 291.3h.7v.7h-.7zM89.8 289.7h.7v.7h-.7zM92.5 289.8h.7v.7h-.7zM90.8 292.2h.7v.7h-.7zM91.2 290.3h.7v.7h-.7zM88.9 287.7h.7v.7h-.7zM83.3 289.1h.7v.7h-.7zM89.2 291.6h.7v.7h-.7zM87.3 291.6h.7v.7h-.7zM88.9 292.3h.7v.7h-.7zM83.8 288.8h.7v.7h-.7zM85.3 288.4h.7v.7h-.7zM91.4 288.6h.7v.7h-.7zM85.6 289.4h.7v.7h-.7zM89.6 289.3h.7v.7h-.7zM89.2 290.9h.7v.7h-.7zM86.0 286.4h.7v.7h-.7zM85.3 288.1h.7v.7h-.7zM91.3 288.9h.7v.7h-.7zM85.0 290.6h.7v.7h-.7zM87.6 288.6h.7v.7h-.7zM90.1 291.4h.7v.7h-.7zM88.2 288.9h.7v.7h-.7zM85.4 286.9h.7v.7h-.7zM88.4 290.6h.7v.7h-.7zM85.3 290.1h.7v.7h-.7zM95.2 288.3h.7v.7h-.7zM83.5 291.0h.7v.7h-.7zM86.5 289.3h.7v.7h-.7zM89.0 289.8h.7v.7h-.7zM89.8 290.8h.7v.7h-.7zM90.2 290.2h.7v.7h-.7zM82.4 292.1h.7v.7h-.7zM83.5 291.6h.7v.7h-.7zM88.1 287.9h.7v.7h-.7zM87.7 291.4h.7v.7h-.7zM85.1 290.1h.7v.7h-.7zM85.8 288.5h.7v.7h-.7zM86.0 292.0h.7v.7h-.7zM89.1 290.0h.7v.7h-.7zM87.3 290.2h.7v.7h-.7zM88.2 290.3h.7v.7h-.7zM83.5 291.4h.7v.7h-.7zM85.5 286.1h.7v.7h-.7zM89.2 288.2h.7v.7h-.7zM87.2 289.9h.7v.7h-.7zM86.1 290.8h.7v.7h-.7zM86.9 289.6h.7v.7h-.7zM85.3 289.6h.7v.7h-.7zM85.1 290.1h.7v.7h-.7zM90.6 291.6h.7v.7h-.7zM88.5 287.9h.7v.7h-.7zM89.9 291.4h.7v.7h-.7zM92.4 286.6h.7v.7h-.7zM87.5 289.5h.7v.7h-.7zM90.1 288.4h.7v.7h-.7zM86.6 293.5h.7v.7h-.7zM89.8 287.0h.7v.7h-.7zM87.5 292.1h.7v.7h-.7zM86.0 290.9h.7v.7h-.7zM87.7 287.8h.7v.7h-.7zM86.0 291.7h.7v.7h-.7zM90.3 289.1h.7v.7h-.7zM90.2 288.9h.7v.7h-.7zM88.1 290.0h.7v.7h-.7zM84.6 290.5h.7v.7h-.7zM86.6 285.8h.7v.7h-.7zM85.5 288.7h.7v.7h-.7zM85.5 288.5h.7v.7h-.7zM85.9 286.3h.7v.7h-.7zM89.6 290.1h.7v.7h-.7zM88.1 289.6h.7v.7h-.7zM87.7 289.6h.7v.7h-.7zM84.9 287.7h.7v.7h-.7zM87.7 291.6h.7v.7h-.7zM88.1 292.5h.7v.7h-.7zM84.3 289.6h.7v.7h-.7zM86.0 291.9h.7v.7h-.7zM91.5 289.2h.7v.7h-.7zM89.2 289.6h.7v.7h-.7zM85.1 289.8h.7v.7h-.7zM85.0 292.4h.7v.7h-.7zM88.9 291.8h.7v.7h-.7zM88.3 286.3h.7v.7h-.7zM89.4 290.1h.7v.7h-.7zM81.9 290.2h.7v.7h-.7zM89.9 292.6h.7v.7h-.7zM85.1 291.2h.7v.7h-.7zM88.3 289.7h.7v.7h-.7zM86.8 290.8h.7v.7h-.7zM88.9 291.0h.7v.7h-.7zM86.5 288.0h.7v.7h-.7zM90.6 292.0h.7v.7h-.7zM86.2 290.0h.7v.7h-.7zM89.4 287.3h.7v.7h-.7zM88.7 293.7h.7v.7h-.7zM88.1 288.9h.7v.7h-.7zM92.3 290.0h.7v.7h-.7zM88.0 289.4h.7v.7h-.7zM87.9 287.3h.7v.7h-.7zM84.5 287.7h.7v.7h-.7zM89.6 289.9h.7v.7h-.7zM90.2 286.9h.7v.7h-.7zM86.1 292.2h.7v.7h-.7zM85.6 287.2h.7v.7h-.7zM85.7 289.5h.7v.7h-.7zM87.5 292.0h.7v.7h-.7zM90.6 292.4h.7v.7h-.7zM88.9 289.2h.7v.7h-.7zM86.3 287.7h.7v.7h-.7zM90.5 291.9h.7v.7h-.7zM87.7 288.6h.7v.7h-.7zM89.1 290.8h.7v.7h-.7zM87.9 288.2h.7v.7h-.7zM88.1 289.1h.7v.7h-.7zM89.2 290.9h.7v.7h-.7zM88.5 289.3h.7v.7h-.7zM91.1 291.2h.7v.7h-.7zM90.5 291.3h.7v.7h-.7zM89.1 290.6h.7v.7h-.7zM85.0 287.2h.7v.7h-.7zM85.3 290.9h.7v.7h-.7zM89.6 290.3h.7v.7h-.7zM87.7 292.8h.7v.7h-.7zM86.6 287.3h.7v.7h-.7zM83.9 289.5h.7v.7h-.7zM89.2 291.1h.7v.7h-.7zM87.0 291.3h.7v.7h-.7zM87.4 288.9h.7v.7h-.7zM86.6 291.2h.7v.7h-.7zM89.7 288.3h.7v.7h-.7zM85.2 290.2h.7v.7h-.7zM92.5 288.2h.7v.7h-.7zM84.5 290.6h.7v.7h-.7zM88.7 289.1h.7v.7h-.7zM87.4 290.7h.7v.7h-.7zM83.4 290.0h.7v.7h-.7zM88.9 291.4h.7v.7h-.7zM90.2 289.9h.7v.7h-.7zM84.1 292.1h.7v.7h-.7zM89.3 289.0h.7v.7h-.7zM89.9 291.6h.7v.7h-.7zM87.2 286.4h.7v.7h-.7zM86.4 288.8h.7v.7h-.7zM85.5 289.9h.7v.7h-.7zM85.0 290.6h.7v.7h-.7zM91.9 288.2h.7v.7h-.7zM89.9 289.2h.7v.7h-.7zM88.8 289.8h.7v.7h-.7zM90.5 288.9h.7v.7h-.7zM89.2 288.8h.7v.7h-.7zM88.0 290.0h.7v.7h-.7zM90.1 287.6h.7v.7h-.7zM84.3 292.1h.7v.7h-.7zM88.4 292.6h.7v.7h-.7zM85.1 290.3h.7v.7h-.7zM88.9 292.7h.7v.7h-.7z" fill="#000" fill-opacity="0.75"/>
<path d="M100.7 285.9h.7v.7h-.7zM105.2 287.5h.7v.7h-.7zM96.6 291.7h.7v.7h-.7zM89.8 283.1h.7v.7h-.7zM109.0 285.6h.7v.7h-.7zM99.1 289.8h.7v.7h-.7zM107.6 290.5h.7v.7h-.7zM95.3 285.3h.7v.7h-.7zM107.2 287.4h.7v.7h-.7zM97.3 292.2h.7v.7h-.7zM107.7 298.4h.7v.7h-.7zM94.7 284.6h.7v.7h-.7zM96.9 289.7h.7v.7h-.7zM98.2 293.3h.7v.7h-.7zM85.2 292.6h.7v.7h-.7zM97.2 286.7h.7v.7h-.7zM104.3 289.0h.7v.7h-.7zM95.1 295.2h.7v.7h-.7zM104.4 285.6h.7v.7h-.7zM102.2 282.7h.7v.7h-.7zM93.8 286.6h.7v.7h-.7zM103.1 288.5h.7v.7h-.7zM96.5 281.4h.7v.7h-.7zM91.2 295.7h.7v.7h-.7zM103.2 284.2h.7v.7h-.7zM108.0 290.6h.7v.7h-.7zM98.6 285.1h.7v.7h-.7zM107.7 289.6h.7v.7h-.7zM110.6 289.7h.7v.7h-.7zM97.6 285.1h.7v.7h-.7zM96.9 289.2h.7v.7h-.7zM102.5 290.9h.7v.7h-.7zM103.6 283.0h.7v.7h-.7zM99.8 283.5h.7v.7h-.7zM103.8 281.7h.7v.7h-.7zM97.6 283.9h.7v.7h-.7zM97.4 286.8h.7v.7h-.7zM109.8 286.8h.7v.7h-.7zM92.6 286.6h.7v.7h-.7zM105.4 290.7h.7v.7h-.7zM102.4 297.6h.7v.7h-.7zM107.5 288.4h.7v.7h-.7zM108.1 281.6h.7v.7h-.7zM100.0 283.8h.7v.7h-.7zM102.0 295.8h.7v.7h-.7zM98.1 295.6h.7v.7h-.7zM95.0 294.8h.7v.7h-.7zM91.1 283.9h.7v.7h-.7zM106.8 287.6h.7v.7h-.7zM101.8 287.9h.7v.7h-.7zM102.1 287.1h.7v.7h-.7zM95.3 286.6h.7v.7h-.7zM101.6 283.7h.7v.7h-.7zM103.7 296.5h.7v.7h-.7zM91.4 285.4h.7v.7h-.7zM99.4 288.1h.7v.7h-.7zM101.6 284.5h.7v.7h-.7zM100.8 288.0h.7v.7h-.7zM100.5 295.4h.7v.7h-.7zM101.8 280.9h.7v.7h-.7zM91.9 290.8h.7v.7h-.7zM99.0 285.0h.7v.7h-.7zM93.1 286.5h.7v.7h-.7zM100.5 284.7h.7v.7h-.7zM99.0 292.3h.7v.7h-.7zM105.6 290.6h.7v.7h-.7zM100.0 281.5h.7v.7h-.7zM105.5 295.2h.7v.7h-.7zM108.4 293.6h.7v.7h-.7zM102.6 289.8h.7v.7h-.7zM100.9 294.0h.7v.7h-.7zM99.4 298.3h.7v.7h-.7zM105.5 286.5h.7v.7h-.7zM101.0 280.3h.7v.7h-.7zM96.7 286.6h.7v.7h-.7zM115.3 284.1h.7v.7h-.7zM106.4 288.4h.7v.7h-.7zM99.3 291.0h.7v.7h-.7zM89.4 292.5h.7v.7h-.7zM112.3 289.4h.7v.7h-.7zM100.6 288.8h.7v.7h-.7zM104.9 285.7h.7v.7h-.7zM101.7 290.4h.7v.7h-.7zM99.0 289.9h.7v.7h-.7zM102.9 291.4h.7v.7h-.7zM95.3 285.4h.7v.7h-.7zM98.5 293.7h.7v.7h-.7zM102.5 280.1h.7v.7h-.7zM93.6 297.3h.7v.7h-.7zM103.0 281.8h.7v.7h-.7zM95.7 288.7h.7v.7h-.7zM109.3 295.8h.7v.7h-.7zM98.9 286.6h.7v.7h-.7zM112.2 283.3h.7v.7h-.7zM110.1 289.6h.7v.7h-.7zM101.6 294.2h.7v.7h-.7zM103.8 284.0h.7v.7h-.7zM92.1 288.1h.7v.7h-.7zM104.0 294.6h.7v.7h-.7zM85.8 294.4h.7v.7h-.7zM104.6 295.3h.7v.7h-.7zM105.6 289.0h.7v.7h-.7zM103.5 289.9h.7v.7h-.7zM97.3 287.5h.7v.7h-.7zM101.7 285.8h.7v.7h-.7zM92.5 281.1h.7v.7h-.7zM103.9 290.5h.7v.7h-.7zM101.6 282.4h.7v.7h-.7zM106.0 286.1h.7v.7h-.7zM88.9 295.5h.7v.7h-.7zM92.3 298.8h.7v.7h-.7zM104.1 285.9h.7v.7h-.7zM87.3 284.6h.7v.7h-.7zM109.6 294.5h.7v.7h-.7zM102.5 279.8h.7v.7h-.7zM98.8 286.6h.7v.7h-.7zM103.7 287.4h.7v.7h-.7zM103.0 280.2h.7v.7h-.7zM97.3 294.9h.7v.7h-.7zM92.5 292.4h.7v.7h-.7zM114.5 291.1h.7v.7h-.7zM92.9 294.0h.7v.7h-.7zM90.2 289.6h.7v.7h-.7zM98.6 294.0h.7v.7h-.7zM107.9 288.9h.7v.7h-.7zM111.4 292.7h.7v.7h-.7zM98.2 283.3h.7v.7h-.7zM115.3 286.1h.7v.7h-.7zM103.4 287.4h.7v.7h-.7zM98.2 280.3h.7v.7h-.7zM100.2 287.4h.7v.7h-.7zM106.7 285.5h.7v.7h-.7zM91.9 282.8h.7v.7h-.7zM100.8 289.2h.7v.7h-.7zM105.2 286.2h.7v.7h-.7zM104.1 288.7h.7v.7h-.7zM110.8 287.7h.7v.7h-.7zM101.8 290.7h.7v.7h-.7zM108.1 283.6h.7v.7h-.7zM98.2 286.7h.7v.7h-.7zM88.6 294.3h.7v.7h-.7zM107.3 288.1h.7v.7h-.7zM120.6 294.1h.7v.7h-.7zM112.8 295.6h.7v.7h-.7zM106.3 281.2h.7v.7h-.7zM109.9 290.0h.7v.7h-.7zM94.0 288.3h.7v.7h-.7zM105.4 292.7h.7v.7h-.7zM102.0 285.5h.7v.7h-.7zM105.5 284.3h.7v.7h-.7zM100.6 291.7h.7v.7h-.7zM92.6 289.8h.7v.7h-.7zM89.6 283.5h.7v.7h-.7zM93.8 287.6h.7v.7h-.7zM105.2 287.8h.7v.7h-.7zM106.3 288.5h.7v.7h-.7zM99.8 290.4h.7v.7h-.7zM99.6 288.7h.7v.7h-.7zM107.1 285.3h.7v.7h-.7zM107.7 282.7h.7v.7h-.7zM99.7 279.6h.7v.7h-.7zM97.9 295.7h.7v.7h-.7zM103.1 294.1h.7v.7h-.7zM92.4 283.1h.7v.7h-.7zM103.7 292.0h.7v.7h-.7zM105.9 279.9h.7v.7h-.7zM104.0 287.7h.7v.7h-.7zM101.7 290.3h.7v.7h-.7zM99.4 279.8h.7v.7h-.7zM94.8 281.0h.7v.7h-.7zM93.3 287.4h.7v.7h-.7zM108.6 284.6h.7v.7h-.7zM96.5 282.5h.7v.7h-.7zM90.9 288.3h.7v.7h-.7zM98.2 286.8h.7v.7h-.7zM95.4 290.3h.7v.7h-.7zM94.0 290.6h.7v.7h-.7zM97.1 291.8h.7v.7h-.7zM95.8 290.1h.7v.7h-.7zM103.6 287.6h.7v.7h-.7zM110.5 288.8h.7v.7h-.7zM95.8 291.3h.7v.7h-.7zM96.2 285.4h.7v.7h-.7zM101.1 288.9h.7v.7h-.7zM111.0 279.6h.7v.7h-.7zM99.5 293.5h.7v.7h-.7zM100.1 289.6h.7v.7h-.7zM109.9 282.1h.7v.7h-.7zM101.3 291.8h.7v.7h-.7zM97.6 279.5h.7v.7h-.7zM95.2 288.9h.7v.7h-.7zM102.1 296.9h.7v.7h-.7zM108.8 280.5h.7v.7h-.7zM107.1 292.4h.7v.7h-.7zM110.5 287.3h.7v.7h-.7zM97.7 288.7h.7v.7h-.7zM110.0 291.0h.7v.7h-.7zM110.9 291.8h.7v.7h-.7zM97.6 283.1h.7v.7h-.7zM111.8 280.7h.7v.7h-.7zM99.0 286.5h.7v.7h-.7zM95.7 285.2h.7v.7h-.7zM101.0 299.5h.7v.7h-.7zM100.6 285.5h.7v.7h-.7zM101.7 292.5h.7v.7h-.7zM96.2 286.0h.7v.7h-.7zM90.8 291.4h.7v.7h-.7zM105.0 295.3h.7v.7h-.7zM94.0 298.5h.7v.7h-.7zM106.1 286.7h.7v.7h-.7zM98.7 286.5h.7v.7h-.7zM93.9 291.7h.7v.7h-.7zM97.4 284.5h.7v.7h-.7zM104.0 288.5h.7v.7h-.7zM97.6 286.9h.7v.7h-.7zM98.1 294.5h.7v.7h-.7zM106.9 284.5h.7v.7h-.7zM100.8 294.6h.7v.7h-.7zM99.3 296.6h.7v.7h-.7zM103.6 291.2h.7v.7h-.7zM88.9 292.1h.7v.7h-.7zM103.0 290.8h.7v.7h-.7zM103.8 290.6h.7v.7h-.7zM98.0 292.4h.7v.7h-.7zM101.4 282.9h.7v.7h-.7zM95.0 288.8h.7v.7h-.7zM103.0 277.3h.7v.7h-.7zM88.9 293.1h.7v.7h-.7zM92.0 286.8h.7v.7h-.7zM97.5 290.7h.7v.7h-.7zM109.2 295.8h.7v.7h-.7zM95.1 294.0h.7v.7h-.7zM93.9 289.5h.7v.7h-.7zM102.0 291.0h.7v.7h-.7zM96.3 294.5h.7v.7h-.7zM100.6 287.9h.7v.7h-.7zM99.4 282.8h.7v.7h-.7zM105.2 289.6h.7v.7h-.7zM103.7 297.0h.7v.7h-.7zM95.9 286.6h.7v.7h-.7zM101.0 292.1h.7v.7h-.7zM100.0 292.5h.7v.7h-.7zM103.7 279.5h.7v.7h-.7zM97.0 278.2h.7v.7h-.7zM99.3 286.0h.7v.7h-.7zM104.5 288.8h.7v.7h-.7zM100.6 294.1h.7v.7h-.7zM104.5 282.0h.7v.7h-.7zM97.0 289.6h.7v.7h-.7zM111.0 287.0h.7v.7h-.7zM100.0 289.3h.7v.7h-.7zM105.6 287.6h.7v.7h-.7zM102.7 286.0h.7v.7h-.7zM97.8 284.1h.7v.7h-.7zM104.9 285.3h.7v.7h-.7zM104.2 290.0h.7v.7h-.7zM106.7 275.0h.7v.7h-.7zM95.3 282.1h.7v.7h-.7zM100.0 291.9h.7v.7h-.7z" fill="#000" fill-opacity="0.35"/>
<path d="M118.1 274.0h.7v.7h-.7zM110.6 272.5h.7v.7h-.7zM99.5 280.5h.7v.7h-.7zM88.2 290.0h.7v.7h-.7zM102.1 279.3h.7v.7h-.7zM95.5 274.3h.7v.7h-.7zM97.9 278.4h.7v.7h-.7zM104.2 272.6h.7v.7h-.7zM104.2 278.3h.7v.7h-.7zM94.6 280.2h.7v.7h-.7zM92.1 279.4h.7v.7h-.7zM107.7 268.4h.7v.7h-.7zM113.8 271.1h.7v.7h-.7zM107.6 272.9h.7v.7h-.7zM107.5 278.4h.7v.7h-.7zM102.7 272.7h.7v.7h-.7zM98.5 288.8h.7v.7h-.7zM100.8 274.3h.7v.7h-.7zM97.5 269.7h.7v.7h-.7zM98.8 279.8h.7v.7h-.7zM98.9 273.9h.7v.7h-.7zM104.6 276.8h.7v.7h-.7zM99.2 279.5h.7v.7h-.7zM95.8 284.7h.7v.7h-.7zM95.7 278.2h.7v.7h-.7zM102.9 273.2h.7v.7h-.7zM94.7 292.1h.7v.7h-.7zM111.6 260.3h.7v.7h-.7zM102.8 268.6h.7v.7h-.7zM104.0 267.6h.7v.7h-.7zM105.7 276.5h.7v.7h-.7zM112.9 275.6h.7v.7h-.7zM99.1 283.0h.7v.7h-.7zM99.1 277.3h.7v.7h-.7zM98.8 268.5h.7v.7h-.7zM105.8 262.5h.7v.7h-.7zM100.5 279.8h.7v.7h-.7zM102.7 266.9h.7v.7h-.7zM97.9 282.4h.7v.7h-.7zM109.0 280.2h.7v.7h-.7zM90.5 286.0h.7v.7h-.7zM98.9 282.1h.7v.7h-.7zM91.3 282.2h.7v.7h-.7zM106.5 269.6h.7v.7h-.7zM99.7 272.1h.7v.7h-.7zM109.1 264.2h.7v.7h-.7zM96.2 277.9h.7v.7h-.7zM100.0 288.8h.7v.7h-.7zM103.7 270.3h.7v.7h-.7zM105.7 275.5h.7v.7h-.7zM103.8 274.5h.7v.7h-.7zM104.9 267.7h.7v.7h-.7zM94.4 278.6h.7v.7h-.7zM95.0 284.4h.7v.7h-.7zM114.3 274.8h.7v.7h-.7zM104.8 276.0h.7v.7h-.7zM97.6 271.7h.7v.7h-.7zM105.5 265.7h.7v.7h-.7zM103.9 274.0h.7v.7h-.7zM106.8 273.2h.7v.7h-.7zM102.7 272.4h.7v.7h-.7zM91.1 281.2h.7v.7h-.7zM106.4 278.8h.7v.7h-.7zM110.8 264.9h.7v.7h-.7zM96.1 283.7h.7v.7h-.7zM99.1 291.9h.7v.7h-.7zM104.0 266.4h.7v.7h-.7zM98.5 286.8h.7v.7h-.7zM90.4 284.3h.7v.7h-.7zM93.2 290.4h.7v.7h-.7zM99.2 272.2h.7v.7h-.7zM91.2 279.1h.7v.7h-.7zM85.8 283.9h.7v.7h-.7zM115.9 267.6h.7v.7h-.7zM100.3 270.8h.7v.7h-.7zM104.2 272.0h.7v.7h-.7zM96.6 287.0h.7v.7h-.7zM104.8 269.3h.7v.7h-.7zM111.4 269.6h.7v.7h-.7zM105.2 274.7h.7v.7h-.7zM109.5 274.5h.7v.7h-.7zM99.8 281.3h.7v.7h-.7zM99.5 278.3h.7v.7h-.7zM112.4 263.5h.7v.7h-.7zM95.4 278.1h.7v.7h-.7zM98.8 285.2h.7v.7h-.7zM91.9 295.1h.7v.7h-.7zM112.1 267.0h.7v.7h-.7zM103.2 273.3h.7v.7h-.7zM106.3 276.9h.7v.7h-.7zM106.8 277.1h.7v.7h-.7zM114.3 267.1h.7v.7h-.7zM106.4 272.1h.7v.7h-.7zM102.2 277.0h.7v.7h-.7zM101.7 278.1h.7v.7h-.7zM96.6 278.7h.7v.7h-.7zM98.2 272.1h.7v.7h-.7zM97.5 276.2h.7v.7h-.7zM101.1 268.1h.7v.7h-.7zM100.4 270.9h.7v.7h-.7zM96.8 280.4h.7v.7h-.7zM109.1 273.0h.7v.7h-.7zM98.9 275.6h.7v.7h-.7zM110.5 261.6h.7v.7h-.7zM109.2 263.1h.7v.7h-.7zM98.0 278.9h.7v.7h-.7zM100.6 286.0h.7v.7h-.7zM105.1 273.7h.7v.7h-.7zM108.1 272.3h.7v.7h-.7zM96.9 285.4h.7v.7h-.7zM111.5 276.8h.7v.7h-.7zM94.5 291.2h.7v.7h-.7zM99.3 281.9h.7v.7h-.7zM109.6 284.1h.7v.7h-.7zM91.7 277.1h.7v.7h-.7zM109.5 273.9h.7v.7h-.7zM100.0 261.3h.7v.7h-.7zM104.8 273.2h.7v.7h-.7zM86.1 283.2h.7v.7h-.7zM102.0 277.3h.7v.7h-.7zM106.8 271.4h.7v.7h-.7zM96.3 277.7h.7v.7h-.7zM88.6 278.5h.7v.7h-.7zM114.6 264.1h.7v.7h-.7zM101.5 286.7h.7v.7h-.7zM108.7 272.3h.7v.7h-.7zM106.7 271.5h.7v.7h-.7zM96.2 285.2h.7v.7h-.7zM102.9 284.2h.7v.7h-.7zM100.3 275.0h.7v.7h-.7zM104.2 273.5h.7v.7h-.7zM100.0 272.4h.7v.7h-.7zM103.6 276.7h.7v.7h-.7zM113.7 268.3h.7v.7h-.7zM90.8 285.8h.7v.7h-.7zM116.6 264.2h.7v.7h-.7zM96.9 278.4h.7v.7h-.7zM83.8 285.9h.7v.7h-.7zM100.8 268.5h.7v.7h-.7zM105.7 268.8h.7v.7h-.7zM90.2 279.7h.7v.7h-.7zM106.0 283.9h.7v.7h-.7zM110.0 271.9h.7v.7h-.7zM98.7 276.7h.7v.7h-.7zM108.2 269.2h.7v.7h-.7zM104.7 279.6h.7v.7h-.7zM96.2 276.5h.7v.7h-.7zM104.9 274.2h.7v.7h-.7zM101.2 273.6h.7v.7h-.7zM101.6 286.4h.7v.7h-.7zM110.7 261.6h.7v.7h-.7zM102.3 276.3h.7v.7h-.7zM102.2 268.3h.7v.7h-.7zM101.2 277.3h.7v.7h-.7zM97.7 280.5h.7v.7h-.7zM86.5 277.8h.7v.7h-.7zM102.6 277.7h.7v.7h-.7zM100.9 274.2h.7v.7h-.7zM103.2 281.2h.7v.7h-.7zM107.7 271.9h.7v.7h-.7zM99.0 283.7h.7v.7h-.7zM105.5 278.6h.7v.7h-.7zM100.2 272.4h.7v.7h-.7zM103.2 271.8h.7v.7h-.7zM109.3 275.9h.7v.7h-.7zM88.1 288.6h.7v.7h-.7zM110.5 276.2h.7v.7h-.7zM99.0 273.2h.7v.7h-.7zM108.2 277.6h.7v.7h-.7zM102.4 269.4h.7v.7h-.7zM92.3 283.8h.7v.7h-.7zM96.7 275.7h.7v.7h-.7zM104.8 279.9h.7v.7h-.7zM88.8 280.8h.7v.7h-.7zM110.3 270.4h.7v.7h-.7zM99.8 280.9h.7v.7h-.7zM94.7 274.0h.7v.7h-.7zM102.1 284.5h.7v.7h-.7zM108.5 271.8h.7v.7h-.7zM108.5 269.6h.7v.7h-.7zM94.5 271.7h.7v.7h-.7zM103.7 279.8h.7v.7h-.7zM104.4 274.3h.7v.7h-.7zM99.4 283.6h.7v.7h-.7zM101.7 268.3h.7v.7h-.7zM110.7 266.8h.7v.7h-.7zM104.5 274.4h.7v.7h-.7zM108.7 273.0h.7v.7h-.7zM109.8 272.1h.7v.7h-.7zM99.1 275.1h.7v.7h-.7zM106.2 268.8h.7v.7h-.7zM107.9 270.9h.7v.7h-.7zM96.1 275.0h.7v.7h-.7zM101.1 286.3h.7v.7h-.7zM106.9 272.9h.7v.7h-.7zM96.2 290.2h.7v.7h-.7zM100.2 277.1h.7v.7h-.7zM99.3 285.1h.7v.7h-.7zM103.1 272.8h.7v.7h-.7zM103.2 269.8h.7v.7h-.7zM95.3 279.5h.7v.7h-.7zM83.6 294.3h.7v.7h-.7zM114.7 261.7h.7v.7h-.7zM101.1 267.9h.7v.7h-.7zM103.1 276.5h.7v.7h-.7zM106.7 265.6h.7v.7h-.7zM98.2 274.9h.7v.7h-.7zM100.4 289.6h.7v.7h-.7zM100.7 276.6h.7v.7h-.7zM98.8 282.5h.7v.7h-.7zM118.4 271.8h.7v.7h-.7zM111.8 263.8h.7v.7h-.7zM108.8 271.8h.7v.7h-.7zM110.0 276.6h.7v.7h-.7zM106.2 264.1h.7v.7h-.7zM102.9 272.7h.7v.7h-.7zM104.9 274.4h.7v.7h-.7zM108.7 262.9h.7v.7h-.7zM97.3 278.6h.7v.7h-.7zM104.0 272.5h.7v.7h-.7zM101.8 276.4h.7v.7h-.7zM108.7 271.1h.7v.7h-.7zM103.5 265.0h.7v.7h-.7zM85.3 278.8h.7v.7h-.7zM104.3 261.9h.7v.7h-.7zM104.6 273.8h.7v.7h-.7zM102.0 272.0h.7v.7h-.7zM99.3 282.3h.7v.7h-.7zM104.3 274.4h.7v.7h-.7zM98.9 279.2h.7v.7h-.7zM109.6 271.0h.7v.7h-.7zM99.7 271.0h.7v.7h-.7zM102.6 270.5h.7v.7h-.7zM92.8 286.7h.7v.7h-.7zM98.0 267.4h.7v.7h-.7zM97.4 289.1h.7v.7h-.7zM101.3 269.2h.7v.7h-.7zM95.0 284.5h.7v.7h-.7zM104.6 275.5h.7v.7h-.7zM100.7 279.5h.7v.7h-.7zM111.8 272.3h.7v.7h-.7zM100.9 269.0h.7v.7h-.7zM104.8 282.8h.7v.7h-.7zM106.1 266.4h.7v.7h-.7zM103.2 282.4h.7v.7h-.7zM97.9 281.3h.7v.7h-.7zM109.7 280.0h.7v.7h-.7zM91.8 273.0h.7v.7h-.7zM104.4 278.3h.7v.7h-.7zM99.7 277.3h.7v.7h-.7zM99.4 284.3h.7v.7h-.7zM87.8 286.6h.7v.7h-.7zM93.8 277.6h.7v.7h-.7zM92.2 277.3h.7v.7h-.7zM101.8 276.2h.7v.7h-.7zM113.4 267.4h.7v.7h-.7zM104.2 276.5h.7v.7h-.7zM103.7 283.0h.7v.7h-.7zM102.9 276.3h.7v.7h-.7z" fill="#000" fill-opacity="0.35"/>
<path d="M106.8 269.5h.7v.7h-.7zM106.9 270.8h.7v.7h-.7zM107.0 269.6h.7v.7h-.7zM106.9 270.5h.7v.7h-.7zM106.2 270.7h.7v.7h-.7zM106.0 270.4h.7v.7h-.7zM110.4 269.8h.7v.7h-.7zM106.8 268.0h.7v.7h-.7zM108.3 269.5h.7v.7h-.7zM108.6 268.7h.7v.7h-.7zM107.9 271.8h.7v.7h-.7zM107.7 269.1h.7v.7h-.7zM104.7 269.5h.7v.7h-.7zM108.2 270.3h.7v.7h-.7zM105.0 268.2h.7v.7h-.7zM105.3 268.2h.7v.7h-.7zM106.5 269.8h.7v.7h-.7zM110.4 269.8h.7v.7h-.7zM109.6 267.4h.7v.7h-.7zM109.7 270.5h.7v.7h-.7zM107.8 270.6h.7v.7h-.7zM108.1 272.0h.7v.7h-.7zM108.4 267.3h.7v.7h-.7zM103.9 271.6h.7v.7h-.7zM106.9 271.2h.7v.7h-.7zM106.4 268.7h.7v.7h-.7zM106.4 269.9h.7v.7h-.7zM107.3 268.7h.7v.7h-.7zM108.0 270.3h.7v.7h-.7zM105.4 268.1h.7v.7h-.7zM103.5 269.1h.7v.7h-.7zM107.0 268.6h.7v.7h-.7zM105.9 269.3h.7v.7h-.7zM107.1 270.2h.7v.7h-.7zM108.5 270.1h.7v.7h-.7zM109.0 268.3h.7v.7h-.7zM108.1 270.0h.7v.7h-.7zM105.1 268.6h.7v.7h-.7zM107.8 269.6h.7v.7h-.7zM104.8 268.8h.7v.7h-.7z" fill="#000" fill-opacity="0.55"/>
<path d="M95.0 298.7h.7v.7h-.7zM86.5 299.7h.7v.7h-.7zM80.6 296.7h.7v.7h-.7zM91.7 296.3h.7v.7h-.7zM79.4 298.2h.7v.7h-.7zM95.5 292.0h.7v.7h-.7zM86.9 294.5h.7v.7h-.7zM84.2 294.2h.7v.7h-.7zM101.4 295.7h.7v.7h-.7zM86.3 295.6h.7v.7h-.7zM80.1 296.1h.7v.7h-.7zM79.7 297.1h.7v.7h-.7zM83.4 293.9h.7v.7h-.7zM108.1 296.5h.7v.7h-.7zM87.4 295.5h.7v.7h-.7zM82.6 295.0h.7v.7h-.7zM92.1 296.2h.7v.7h-.7zM85.1 297.4h.7v.7h-.7zM78.7 297.5h.7v.7h-.7zM85.0 297.9h.7v.7h-.7zM83.7 297.1h.7v.7h-.7zM89.1 298.9h.7v.7h-.7zM81.9 298.9h.7v.7h-.7zM80.2 296.6h.7v.7h-.7zM86.8 297.3h.7v.7h-.7zM84.9 298.8h.7v.7h-.7zM81.8 300.0h.7v.7h-.7zM89.2 297.0h.7v.7h-.7zM87.6 298.8h.7v.7h-.7zM81.2 298.2h.7v.7h-.7zM92.3 296.5h.7v.7h-.7zM80.9 294.9h.7v.7h-.7zM88.6 295.4h.7v.7h-.7zM100.7 298.1h.7v.7h-.7zM78.3 296.4h.7v.7h-.7zM95.1 298.3h.7v.7h-.7zM80.0 299.0h.7v.7h-.7zM82.7 298.2h.7v.7h-.7zM89.3 296.1h.7v.7h-.7zM85.1 299.3h.7v.7h-.7zM89.0 296.9h.7v.7h-.7zM91.5 297.9h.7v.7h-.7zM88.0 293.9h.7v.7h-.7zM86.8 296.0h.7v.7h-.7zM90.3 295.8h.7v.7h-.7zM88.7 294.9h.7v.7h-.7zM91.3 295.6h.7v.7h-.7zM85.8 298.1h.7v.7h-.7zM84.1 297.0h.7v.7h-.7zM90.0 298.9h.7v.7h-.7zM83.2 297.2h.7v.7h-.7z" fill="#000" fill-opacity="0.35"/>
<path d="M91.4 284.0h.7v.7h-.7zM91.4 270.3h.7v.7h-.7zM87.4 270.0h.7v.7h-.7zM95.9 273.5h.7v.7h-.7zM97.8 277.5h.7v.7h-.7zM93.1 277.5h.7v.7h-.7zM94.3 278.6h.7v.7h-.7zM89.1 272.8h.7v.7h-.7zM90.4 275.4h.7v.7h-.7zM91.3 270.1h.7v.7h-.7zM89.9 282.1h.7v.7h-.7zM98.3 271.6h.7v.7h-.7zM93.1 274.9h.7v.7h-.7zM89.5 277.8h.7v.7h-.7zM91.8 281.6h.7v.7h-.7zM93.4 273.8h.7v.7h-.7zM84.2 274.6h.7v.7h-.7zM94.5 272.2h.7v.7h-.7zM94.6 277.7h.7v.7h-.7zM86.8 274.2h.7v.7h-.7zM93.0 278.0h.7v.7h-.7zM92.5 274.9h.7v.7h-.7zM91.0 273.9h.7v.7h-.7zM92.0 270.8h.7v.7h-.7zM93.9 273.7h.7v.7h-.7zM93.5 273.0h.7v.7h-.7zM93.2 275.5h.7v.7h-.7zM94.6 276.8h.7v.7h-.7zM94.8 274.3h.7v.7h-.7zM91.8 274.0h.7v.7h-.7zM88.3 274.5h.7v.7h-.7zM95.2 278.0h.7v.7h-.7zM89.5 276.2h.7v.7h-.7zM94.2 269.6h.7v.7h-.7zM93.0 276.3h.7v.7h-.7zM94.2 276.0h.7v.7h-.7zM86.8 267.0h.7v.7h-.7zM97.9 273.4h.7v.7h-.7zM95.8 280.0h.7v.7h-.7zM92.3 270.5h.7v.7h-.7z" fill="#000" fill-opacity="0.3"/>
<rect x="18.7" y="246.3" width="54.099999999999994" height="54.5" fill="none" stroke="#6a6a6a" stroke-width="1"/>
<line x1="37.3" y1="246.3" x2="37.3" y2="300.8" stroke="#7a7a7a" stroke-width="0.9"/>
<line x1="18.7" y1="281.5" x2="72.8" y2="281.5" stroke="#7a7a7a" stroke-width="0.9"/>
<rect x="77.2" y="246.3" width="53.60000000000001" height="54.5" fill="none" stroke="#6a6a6a" stroke-width="1"/>
<line x1="95.6" y1="246.3" x2="95.6" y2="300.8" stroke="#7a7a7a" stroke-width="0.9"/>
<line x1="77.2" y1="281.5" x2="130.8" y2="281.5" stroke="#7a7a7a" stroke-width="0.9"/>
<text x="71.6" y="254.5" font-size="7" text-anchor="end" fill="#231f20" textLength="15.3" lengthAdjust="spacingAndGlyphs" stroke="#231f20" stroke-width="0.2">3.0%</text>
<text x="71.6" y="299.1" font-size="7" text-anchor="end" fill="#231f20" textLength="15.3" lengthAdjust="spacingAndGlyphs" stroke="#231f20" stroke-width="0.2">4.8%</text>
<text x="129.7" y="254.5" font-size="7" text-anchor="end" fill="#231f20" textLength="15.7" lengthAdjust="spacingAndGlyphs" stroke="#231f20" stroke-width="0.2">8.1%</text>
<text x="129.7" y="299.1" font-size="7" text-anchor="end" fill="#231f20" textLength="18.8" lengthAdjust="spacingAndGlyphs" stroke="#231f20" stroke-width="0.2">16.7%</text>
<text transform="translate(15.6,300.6) rotate(-90)" x="0" y="0" font-size="9" text-anchor="start" fill="#231f20" textLength="26.5" lengthAdjust="spacingAndGlyphs" stroke="#231f20" stroke-width="0.28">7-AAD</text>
<line x1="12.25" y1="271.9" x2="12.25" y2="252.25" stroke="#000" stroke-width="1"/>
<path d="M12.25,248.75 L10.45,252.95 L14.05,252.95 Z" fill="#000"/>
<text x="18.75" y="312" font-size="9" text-anchor="start" fill="#231f20" textLength="40" lengthAdjust="spacingAndGlyphs" stroke="#231f20" stroke-width="0.28">Annexin V</text>
<line x1="62.5" y1="308.75" x2="123.5" y2="308.75" stroke="#000" stroke-width="1"/>
<path d="M127,308.75 L122.8,306.95 L122.8,310.55 Z" fill="#000"/>
<text x="154.2" y="209.2" font-size="9" text-anchor="start" fill="#231f20" textLength="59.3" lengthAdjust="spacingAndGlyphs" stroke="#231f20" stroke-width="0.28">Apoptotic cells</text>
<text x="140.3" y="221.4" font-size="7" text-anchor="start" fill="#231f20" textLength="9.8" lengthAdjust="spacingAndGlyphs" stroke="#231f20" stroke-width="0.2">(%)</text>
<line x1="156.2" y1="226.9" x2="156.2" y2="312.3" stroke="#000" stroke-width="1.25"/>
<line x1="153.6" y1="311.8" x2="156.2" y2="311.8" stroke="#000" stroke-width="1.25"/>
<text x="150" y="314.68" font-size="8" text-anchor="end" fill="#231f20" stroke="#231f20" stroke-width="0.24">0</text>
<line x1="153.6" y1="291.40000000000003" x2="156.2" y2="291.40000000000003" stroke="#000" stroke-width="1.25"/>
<text x="150" y="294.28000000000003" font-size="8" text-anchor="end" fill="#231f20" stroke="#231f20" stroke-width="0.24">5</text>
<line x1="153.6" y1="271.0" x2="156.2" y2="271.0" stroke="#000" stroke-width="1.25"/>
<text x="150" y="273.88" font-size="8" text-anchor="end" fill="#231f20" stroke="#231f20" stroke-width="0.24">10</text>
<line x1="153.6" y1="250.60000000000002" x2="156.2" y2="250.60000000000002" stroke="#000" stroke-width="1.25"/>
<text x="150" y="253.48000000000002" font-size="8" text-anchor="end" fill="#231f20" stroke="#231f20" stroke-width="0.24">15</text>
<line x1="153.6" y1="230.20000000000002" x2="156.2" y2="230.20000000000002" stroke="#000" stroke-width="1.25"/>
<text x="150" y="233.08" font-size="8" text-anchor="end" fill="#231f20" stroke="#231f20" stroke-width="0.24">20</text>
<line x1="153.8" y1="311.8" x2="211.5" y2="311.8" stroke="#000" stroke-width="1.1"/>
<rect x="164.2" y="289.5" width="15.5" height="22.3" fill="#2c4a80"/>
<line x1="172" y1="285.7" x2="172" y2="289.5" stroke="#000" stroke-width="1"/>
<line x1="168.2" y1="285.7" x2="175.8" y2="285.7" stroke="#000" stroke-width="1"/>
<rect x="187.7" y="258.2" width="15.4" height="53.6" fill="#a8082a"/>
<line x1="195.4" y1="244.6" x2="195.4" y2="258.2" stroke="#000" stroke-width="1"/>
<line x1="191.55" y1="244.6" x2="199.25" y2="244.6" stroke="#000" stroke-width="1"/>
<path d="M171.8,235.3 V232.3 H195.4 V235.3" stroke="#000" stroke-width="0.9" fill="none"/>
<circle cx="183.80" cy="228.90" r="0.95" fill="#2a2a2a"/>
<text transform="translate(175.5,317) rotate(-45)" x="0" y="0" font-size="8" text-anchor="end" fill="#231f20" textLength="21" lengthAdjust="spacingAndGlyphs" stroke="#231f20" stroke-width="0.24">sgSCR</text>
<text transform="translate(198.6,317.2) rotate(-45)" x="0" y="0" font-size="8" text-anchor="end" fill="#231f20" textLength="34.5" lengthAdjust="spacingAndGlyphs" stroke="#231f20" stroke-width="0.24">sgCD137L</text>
<text x="233.75" y="159.4" font-size="10.5" text-anchor="start" fill="#231f20" textLength="7.2" lengthAdjust="spacingAndGlyphs" stroke="#231f20" stroke-width="0.34">D</text>
<text x="260.25" y="191.9" font-size="8" text-anchor="start" fill="#231f20" textLength="20.75" lengthAdjust="spacingAndGlyphs" stroke="#231f20" stroke-width="0.24">Hut78</text>
<line x1="236.2" y1="195.6" x2="305" y2="195.6" stroke="#000" stroke-width="1.1"/>
<text x="241" y="205" font-size="8" text-anchor="start" fill="#231f20" textLength="21.3" lengthAdjust="spacingAndGlyphs" stroke="#231f20" stroke-width="0.24">sgSCR</text>
<text x="271.5" y="205" font-size="8" text-anchor="start" fill="#231f20" textLength="33.9" lengthAdjust="spacingAndGlyphs" stroke="#231f20" stroke-width="0.24">sgCD137L</text>
<clipPath id="c1"><rect x="233.5" y="209.7" width="74.0" height="13.800000000000011" rx="1"/></clipPath>
<g clip-path="url(#c1)">
<rect x="233.5" y="209.7" width="74.0" height="13.800000000000011" fill="#e2e2e2"/>
<rect x="238" y="213.6" width="27" height="6.4" rx="3" fill="#555" fill-opacity="0.8" filter="url(#b1)"/>
<rect x="231.5" y="219.2" width="6" height="6" rx="3.0" fill="#111" fill-opacity="0.95" filter="url(#b2)"/>
<rect x="286" y="213" width="3" height="3" rx="1.5" fill="#999" fill-opacity="0.5" filter="url(#b2)"/>
<rect x="300" y="211" width="2" height="2" rx="1.0" fill="#777" fill-opacity="0.5" filter="url(#b2)"/>
<rect x="233.5" y="209.7" width="74.0" height="13.800000000000011" filter="url(#nz)" opacity="0.1"/>
<rect x="233.5" y="209.7" width="74.0" height="13.800000000000011" filter="url(#nz2)" opacity="0.07"/>
</g>
<rect x="233.5" y="209.7" width="74.0" height="13.800000000000011" rx="1" fill="none" stroke="#3a3a3a" stroke-width="0.9"/>
<text x="310.8" y="219" font-size="8.4" text-anchor="start" fill="#231f20" textLength="20" lengthAdjust="spacingAndGlyphs" stroke="#231f20" stroke-width="0.256">p-AKT</text>
<clipPath id="c2"><rect x="233.5" y="225.3" width="74.0" height="13.899999999999977" rx="1"/></clipPath>
<g clip-path="url(#c2)">
<rect x="233.5" y="225.3" width="74.0" height="13.899999999999977" fill="#a6a6a6"/>
<rect x="236.5" y="229" width="30" height="7.5" rx="3" fill="#2e2e2e" fill-opacity="0.85" filter="url(#b1)"/>
<rect x="273" y="229.3" width="32" height="7.2" rx="3" fill="#2e2e2e" fill-opacity="0.85" filter="url(#b1)"/>
<rect x="267" y="225" width="5" height="15" rx="3" fill="#c0c0c0" fill-opacity="0.5" filter="url(#b2)"/>
<rect x="233.5" y="225.3" width="74.0" height="13.899999999999977" filter="url(#nz)" opacity="0.1"/>
<rect x="233.5" y="225.3" width="74.0" height="13.899999999999977" filter="url(#nz2)" opacity="0.07"/>
</g>
<rect x="233.5" y="225.3" width="74.0" height="13.899999999999977" rx="1" fill="none" stroke="#3a3a3a" stroke-width="0.9"/>
<text x="310.8" y="235.8" font-size="8.4" text-anchor="start" fill="#231f20" textLength="13.1" lengthAdjust="spacingAndGlyphs" stroke="#231f20" stroke-width="0.256">AKT</text>
<clipPath id="c3"><rect x="233.5" y="244.4" width="74.0" height="21.099999999999994" rx="1"/></clipPath>
<g clip-path="url(#c3)">
<rect x="233.5" y="244.4" width="74.0" height="21.099999999999994" fill="#e6e6e6"/>
<rect x="240" y="250" width="25" height="4" rx="2.0" fill="#d0d0d0" fill-opacity="0.6" filter="url(#b1)"/>
<rect x="282" y="248" width="19" height="4" rx="2.0" fill="#c4c4c4" fill-opacity="0.8" filter="url(#b1)"/>
<rect x="238.5" y="254.8" width="29" height="9" rx="3" fill="#111" fill-opacity="0.97" filter="url(#b2)"/>
<rect x="276.5" y="255.5" width="27" height="7" rx="3" fill="#3a3a3a" fill-opacity="0.85" filter="url(#b2)"/>
<rect x="285" y="255.5" width="18" height="7" rx="3" fill="#111" fill-opacity="0.65" filter="url(#b2)"/>
<rect x="233.5" y="244.4" width="74.0" height="21.099999999999994" filter="url(#nz)" opacity="0.1"/>
<rect x="233.5" y="244.4" width="74.0" height="21.099999999999994" filter="url(#nz2)" opacity="0.07"/>
</g>
<rect x="233.5" y="244.4" width="74.0" height="21.099999999999994" rx="1" fill="none" stroke="#3a3a3a" stroke-width="0.9"/>
<text x="310.8" y="257.5" font-size="8.4" text-anchor="start" fill="#231f20" textLength="30.2" lengthAdjust="spacingAndGlyphs" stroke="#231f20" stroke-width="0.256">p-ERK1/2</text>
<clipPath id="c4"><rect x="233.5" y="267.6" width="74.0" height="14.599999999999966" rx="1"/></clipPath>
<g clip-path="url(#c4)">
<rect x="233.5" y="267.6" width="74.0" height="14.599999999999966" fill="#8c8c8c"/>
<rect x="237" y="270.3" width="29" height="3" rx="1.5" fill="#6a6a6a" fill-opacity="0.8" filter="url(#b2)"/>
<rect x="274" y="270.3" width="30" height="3" rx="1.5" fill="#6a6a6a" fill-opacity="0.8" filter="url(#b2)"/>
<rect x="236.5" y="274.7" width="30" height="5.4" rx="2.7" fill="#141414" fill-opacity="0.95" filter="url(#b2)"/>
<rect x="273.5" y="274.7" width="31" height="5.4" rx="2.7" fill="#141414" fill-opacity="0.95" filter="url(#b2)"/>
<rect x="233.5" y="267.6" width="74.0" height="14.599999999999966" filter="url(#nz)" opacity="0.1"/>
<rect x="233.5" y="267.6" width="74.0" height="14.599999999999966" filter="url(#nz2)" opacity="0.07"/>
</g>
<rect x="233.5" y="267.6" width="74.0" height="14.599999999999966" rx="1" fill="none" stroke="#3a3a3a" stroke-width="0.9"/>
<text x="310.8" y="276.9" font-size="8.4" text-anchor="start" fill="#231f20" textLength="23.3" lengthAdjust="spacingAndGlyphs" stroke="#231f20" stroke-width="0.256">ERK1/2</text>
<clipPath id="c5"><rect x="233.5" y="287.6" width="74.0" height="9.599999999999966" rx="1"/></clipPath>
<g clip-path="url(#c5)">
<rect x="233.5" y="287.6" width="74.0" height="9.599999999999966" fill="#b0b0b0"/>
<linearGradient id="g5_244" x1="0" y1="0" x2="1" y2="0"><stop offset="0" stop-color="#606060" stop-opacity="1"/><stop offset="0.08" stop-color="#404040" stop-opacity="1"/><stop offset="0.9" stop-color="#383838" stop-opacity="1"/><stop offset="0.96" stop-color="#505050" stop-opacity="1"/><stop offset="1" stop-color="#b0b0b0" stop-opacity="1"/></linearGradient>
<rect x="233.5" y="287.6" width="37.5" height="10" fill="url(#g5_244)"/>
<rect x="238" y="289.5" width="28" height="5.5" rx="2.75" fill="#151515" fill-opacity="0.75" filter="url(#b1)"/>
<rect x="276" y="289.8" width="28" height="4.5" rx="2.25" fill="#8c8c8c" fill-opacity="0.75" filter="url(#b1)"/>
<rect x="233.5" y="287.6" width="74.0" height="9.599999999999966" filter="url(#nz)" opacity="0.1"/>
<rect x="233.5" y="287.6" width="74.0" height="9.599999999999966" filter="url(#nz2)" opacity="0.07"/>
</g>
<rect x="233.5" y="287.6" width="74.0" height="9.599999999999966" rx="1" fill="none" stroke="#3a3a3a" stroke-width="0.9"/>
<text x="310.8" y="294.2" font-size="8.4" text-anchor="start" fill="#231f20" textLength="19.6" lengthAdjust="spacingAndGlyphs" stroke="#231f20" stroke-width="0.256">p-p38</text>
<clipPath id="c6"><rect x="233.5" y="298.9" width="74.0" height="13.700000000000045" rx="1"/></clipPath>
<g clip-path="url(#c6)">
<rect x="233.5" y="298.9" width="74.0" height="13.700000000000045" fill="#c2c2c2"/>
<rect x="233.5" y="298.9" width="74" height="2.2" fill="#dadada" fill-opacity="0.8"/>
<rect x="236" y="302.8" width="32" height="7.4" rx="3" fill="#747474" fill-opacity="0.85" filter="url(#b1)"/>
<rect x="271" y="302.8" width="33" height="7.4" rx="3" fill="#707070" fill-opacity="0.85" filter="url(#b1)"/>
<rect x="233.5" y="298.9" width="74.0" height="13.700000000000045" filter="url(#nz)" opacity="0.1"/>
<rect x="233.5" y="298.9" width="74.0" height="13.700000000000045" filter="url(#nz2)" opacity="0.07"/>
</g>
<rect x="233.5" y="298.9" width="74.0" height="13.700000000000045" rx="1" fill="none" stroke="#3a3a3a" stroke-width="0.9"/>
<text x="310.8" y="307.6" font-size="8.4" text-anchor="start" fill="#231f20" textLength="12.8" lengthAdjust="spacingAndGlyphs" stroke="#231f20" stroke-width="0.256">p38</text>
<clipPath id="c7"><rect x="233.5" y="318.6" width="74.0" height="22.399999999999977" rx="1"/></clipPath>
<g clip-path="url(#c7)">
<rect x="233.5" y="318.6" width="74.0" height="22.399999999999977" fill="#d3d3d3"/>
<rect x="236" y="322.5" width="30" height="4" rx="2.0" fill="#a8a8a8" fill-opacity="0.8" filter="url(#b1)"/>
<rect x="236" y="333.5" width="30" height="4.2" rx="2.1" fill="#a2a2a2" fill-opacity="0.8" filter="url(#b1)"/>
<rect x="274" y="322.5" width="31" height="4" rx="2.0" fill="#bababa" fill-opacity="0.8" filter="url(#b1)"/>
<rect x="274" y="333.5" width="31" height="4.2" rx="2.1" fill="#b6b6b6" fill-opacity="0.8" filter="url(#b1)"/>
<rect x="265.5" y="318" width="7.5" height="24" rx="3" fill="#e8e8e8" fill-opacity="0.9" filter="url(#b2)"/>
<rect x="233.5" y="318.6" width="74.0" height="22.399999999999977" filter="url(#nz)" opacity="0.1"/>
<rect x="233.5" y="318.6" width="74.0" height="22.399999999999977" filter="url(#nz2)" opacity="0.07"/>
</g>
<rect x="233.5" y="318.6" width="74.0" height="22.399999999999977" rx="1" fill="none" stroke="#3a3a3a" stroke-width="0.9"/>
<text x="310.8" y="331.7" font-size="8.4" text-anchor="start" fill="#231f20" textLength="19.8" lengthAdjust="spacingAndGlyphs" stroke="#231f20" stroke-width="0.256">p-JNK</text>
<clipPath id="c8"><rect x="233.5" y="343" width="74.0" height="17.600000000000023" rx="1"/></clipPath>
<g clip-path="url(#c8)">
<rect x="233.5" y="343" width="74.0" height="17.600000000000023" fill="#383838"/>
<rect x="235" y="345.6" width="32" height="5" rx="2.5" fill="#121212" fill-opacity="0.9" filter="url(#b2)"/>
<rect x="235" y="353.8" width="32" height="5" rx="2.5" fill="#121212" fill-opacity="0.9" filter="url(#b2)"/>
<rect x="273" y="345.6" width="33" height="5" rx="2.5" fill="#121212" fill-opacity="0.9" filter="url(#b2)"/>
<rect x="273" y="353.8" width="33" height="5" rx="2.5" fill="#121212" fill-opacity="0.9" filter="url(#b2)"/>
<rect x="267.5" y="342" width="5" height="20" rx="3" fill="#5a5a5a" fill-opacity="0.8" filter="url(#b2)"/>
<rect x="233.5" y="343" width="74.0" height="17.600000000000023" filter="url(#nz)" opacity="0.1"/>
<rect x="233.5" y="343" width="74.0" height="17.600000000000023" filter="url(#nz2)" opacity="0.07"/>
</g>
<rect x="233.5" y="343" width="74.0" height="17.600000000000023" rx="1" fill="none" stroke="#3a3a3a" stroke-width="0.9"/>
<text x="310.8" y="354.3" font-size="8.4" text-anchor="start" fill="#231f20" textLength="12.3" lengthAdjust="spacingAndGlyphs" stroke="#231f20" stroke-width="0.256">JNK</text>
<line x1="385" y1="175" x2="385" y2="239.8" stroke="#000" stroke-width="1.25"/>
<line x1="382.4" y1="239.3" x2="385" y2="239.3" stroke="#000" stroke-width="1.25"/>
<text x="378.8" y="242.0" font-size="7.5" text-anchor="end" fill="#231f20" stroke="#231f20" stroke-width="0.22">0</text>
<line x1="382.4" y1="218.70000000000002" x2="385" y2="218.70000000000002" stroke="#000" stroke-width="1.25"/>
<text x="378.8" y="221.4" font-size="7.5" text-anchor="end" fill="#231f20" stroke="#231f20" stroke-width="0.22">0.5</text>
<line x1="382.4" y1="198.10000000000002" x2="385" y2="198.10000000000002" stroke="#000" stroke-width="1.25"/>
<text x="378.8" y="200.8" font-size="7.5" text-anchor="end" fill="#231f20" stroke="#231f20" stroke-width="0.22">1.0</text>
<line x1="382.4" y1="177.5" x2="385" y2="177.5" stroke="#000" stroke-width="1.25"/>
<text x="378.8" y="180.2" font-size="7.5" text-anchor="end" fill="#231f20" stroke="#231f20" stroke-width="0.22">1.5</text>
<line x1="382.4" y1="239.3" x2="426.6" y2="239.3" stroke="#000" stroke-width="1.1"/>
<rect x="391.3" y="198.10000000000002" width="11.4" height="41.2" fill="#2c4a80"/>
<rect x="409" y="227.9" width="11.3" height="11.400000000000006" fill="#a8082a"/>
<line x1="414.65" y1="222.5" x2="414.65" y2="227.9" stroke="#000" stroke-width="1"/>
<line x1="411.45" y1="222.5" x2="417.84999999999997" y2="222.5" stroke="#000" stroke-width="1"/>
<path d="M396.8,194.5 V191.9 H414.7 V194.5" stroke="#000" stroke-width="0.9" fill="none"/>
<circle cx="405.65" cy="188.30" r="0.95" fill="#2a2a2a"/>
<text x="393.75" y="157.9" font-size="8.5" text-anchor="start" fill="#231f20" textLength="23.75" lengthAdjust="spacingAndGlyphs" stroke="#231f20" stroke-width="0.26">p-AKT</text>
<text x="395" y="168.75" font-size="8.5" text-anchor="start" fill="#231f20" textLength="21.5" lengthAdjust="spacingAndGlyphs" stroke="#231f20" stroke-width="0.26">/ AKT</text>
<text transform="translate(399.7,244.9) rotate(-45)" x="0" y="0" font-size="8" text-anchor="end" fill="#231f20" textLength="20.5" lengthAdjust="spacingAndGlyphs" stroke="#231f20" stroke-width="0.24">sgSCR</text>
<text transform="translate(417.4,245.9) rotate(-45)" x="0" y="0" font-size="8" text-anchor="end" fill="#231f20" textLength="34.5" lengthAdjust="spacingAndGlyphs" stroke="#231f20" stroke-width="0.24">sgCD137L</text>
<line x1="458.1" y1="175" x2="458.1" y2="239.8" stroke="#000" stroke-width="1.25"/>
<line x1="455.5" y1="239.3" x2="458.1" y2="239.3" stroke="#000" stroke-width="1.25"/>
<text x="451.9" y="242.0" font-size="7.5" text-anchor="end" fill="#231f20" stroke="#231f20" stroke-width="0.22">0</text>
<line x1="455.5" y1="218.70000000000002" x2="458.1" y2="218.70000000000002" stroke="#000" stroke-width="1.25"/>
<text x="451.9" y="221.4" font-size="7.5" text-anchor="end" fill="#231f20" stroke="#231f20" stroke-width="0.22">0.5</text>
<line x1="455.5" y1="198.10000000000002" x2="458.1" y2="198.10000000000002" stroke="#000" stroke-width="1.25"/>
<text x="451.9" y="200.8" font-size="7.5" text-anchor="end" fill="#231f20" stroke="#231f20" stroke-width="0.22">1.0</text>
<line x1="455.5" y1="177.5" x2="458.1" y2="177.5" stroke="#000" stroke-width="1.25"/>
<text x="451.9" y="180.2" font-size="7.5" text-anchor="end" fill="#231f20" stroke="#231f20" stroke-width="0.22">1.5</text>
<line x1="455.5" y1="239.3" x2="499.70000000000005" y2="239.3" stroke="#000" stroke-width="1.1"/>
<rect x="464.3" y="198.10000000000002" width="11.4" height="41.2" fill="#2c4a80"/>
<rect x="481.9" y="208.8" width="11.3" height="30.5" fill="#a8082a"/>
<line x1="487.54999999999995" y1="205.3" x2="487.54999999999995" y2="208.8" stroke="#000" stroke-width="1"/>
<line x1="484.34999999999997" y1="205.3" x2="490.74999999999994" y2="205.3" stroke="#000" stroke-width="1"/>
<path d="M469.8,194.2 V191.6 H487.59999999999997 V194.2" stroke="#000" stroke-width="0.9" fill="none"/>
<circle cx="478.60" cy="188.00" r="0.95" fill="#2a2a2a"/>
<text x="460.6" y="157.9" font-size="8.5" text-anchor="start" fill="#231f20" textLength="36.3" lengthAdjust="spacingAndGlyphs" stroke="#231f20" stroke-width="0.26">p-ERK1/2</text>
<text x="461.9" y="168.75" font-size="8.5" text-anchor="start" fill="#231f20" textLength="33.1" lengthAdjust="spacingAndGlyphs" stroke="#231f20" stroke-width="0.26">/ ERK1/2</text>
<text transform="translate(472.7,244.9) rotate(-45)" x="0" y="0" font-size="8" text-anchor="end" fill="#231f20" textLength="20.5" lengthAdjust="spacingAndGlyphs" stroke="#231f20" stroke-width="0.24">sgSCR</text>
<text transform="translate(490.29999999999995,245.9) rotate(-45)" x="0" y="0" font-size="8" text-anchor="end" fill="#231f20" textLength="34.5" lengthAdjust="spacingAndGlyphs" stroke="#231f20" stroke-width="0.24">sgCD137L</text>
<line x1="385" y1="298.5" x2="385" y2="363.0" stroke="#000" stroke-width="1.25"/>
<line x1="382.4" y1="362.5" x2="385" y2="362.5" stroke="#000" stroke-width="1.25"/>
<text x="378.8" y="365.2" font-size="7.5" text-anchor="end" fill="#231f20" stroke="#231f20" stroke-width="0.22">0</text>
<line x1="382.4" y1="341.9" x2="385" y2="341.9" stroke="#000" stroke-width="1.25"/>
<text x="378.8" y="344.59999999999997" font-size="7.5" text-anchor="end" fill="#231f20" stroke="#231f20" stroke-width="0.22">0.5</text>
<line x1="382.4" y1="321.3" x2="385" y2="321.3" stroke="#000" stroke-width="1.25"/>
<text x="378.8" y="324.0" font-size="7.5" text-anchor="end" fill="#231f20" stroke="#231f20" stroke-width="0.22">1.0</text>
<line x1="382.4" y1="300.7" x2="385" y2="300.7" stroke="#000" stroke-width="1.25"/>
<text x="378.8" y="303.4" font-size="7.5" text-anchor="end" fill="#231f20" stroke="#231f20" stroke-width="0.22">1.5</text>
<line x1="382.4" y1="362.5" x2="426.6" y2="362.5" stroke="#000" stroke-width="1.1"/>
<rect x="391.3" y="321.3" width="11.4" height="41.2" fill="#2c4a80"/>
<rect x="409" y="346.9" width="11.3" height="15.600000000000023" fill="#a8082a"/>
<line x1="414.65" y1="340.25" x2="414.65" y2="346.9" stroke="#000" stroke-width="1"/>
<line x1="411.45" y1="340.25" x2="417.84999999999997" y2="340.25" stroke="#000" stroke-width="1"/>
<path d="M396.8,317.35 V314.75 H414.7 V317.35" stroke="#000" stroke-width="0.9" fill="none"/>
<circle cx="405.65" cy="311.15" r="0.95" fill="#2a2a2a"/>
<text x="383.2" y="291.25" font-size="8.5" text-anchor="start" fill="#231f20" textLength="46.1" lengthAdjust="spacingAndGlyphs" stroke="#231f20" stroke-width="0.26">p-p38 / p38</text>
<text transform="translate(399.7,368.1) rotate(-45)" x="0" y="0" font-size="8" text-anchor="end" fill="#231f20" textLength="20.5" lengthAdjust="spacingAndGlyphs" stroke="#231f20" stroke-width="0.24">sgSCR</text>
<text transform="translate(417.4,369.1) rotate(-45)" x="0" y="0" font-size="8" text-anchor="end" fill="#231f20" textLength="34.5" lengthAdjust="spacingAndGlyphs" stroke="#231f20" stroke-width="0.24">sgCD137L</text>
<line x1="458.1" y1="298.3" x2="458.1" y2="362.8" stroke="#000" stroke-width="1.25"/>
<line x1="455.5" y1="362.3" x2="458.1" y2="362.3" stroke="#000" stroke-width="1.25"/>
<text x="451.9" y="365.0" font-size="7.5" text-anchor="end" fill="#231f20" stroke="#231f20" stroke-width="0.22">0</text>
<line x1="455.5" y1="341.7" x2="458.1" y2="341.7" stroke="#000" stroke-width="1.25"/>
<text x="451.9" y="344.4" font-size="7.5" text-anchor="end" fill="#231f20" stroke="#231f20" stroke-width="0.22">0.5</text>
<line x1="455.5" y1="321.1" x2="458.1" y2="321.1" stroke="#000" stroke-width="1.25"/>
<text x="451.9" y="323.8" font-size="7.5" text-anchor="end" fill="#231f20" stroke="#231f20" stroke-width="0.22">1.0</text>
<line x1="455.5" y1="300.5" x2="458.1" y2="300.5" stroke="#000" stroke-width="1.25"/>
<text x="451.9" y="303.2" font-size="7.5" text-anchor="end" fill="#231f20" stroke="#231f20" stroke-width="0.22">1.5</text>
<line x1="455.5" y1="362.3" x2="499.70000000000005" y2="362.3" stroke="#000" stroke-width="1.1"/>
<rect x="464.3" y="321.1" width="11.4" height="41.2" fill="#2c4a80"/>
<rect x="481.9" y="341.2" width="11.3" height="21.100000000000023" fill="#a8082a"/>
<line x1="487.54999999999995" y1="340" x2="487.54999999999995" y2="341.2" stroke="#000" stroke-width="1"/>
<line x1="484.34999999999997" y1="340" x2="490.74999999999994" y2="340" stroke="#000" stroke-width="1"/>
<path d="M469.8,317.70000000000005 V315.1 H487.59999999999997 V317.70000000000005" stroke="#000" stroke-width="0.9" fill="none"/>
<circle cx="477.05" cy="311.50" r="0.95" fill="#2a2a2a"/>
<circle cx="480.15" cy="311.50" r="0.95" fill="#2a2a2a"/>
<text x="456.2" y="291.5" font-size="8.5" text-anchor="start" fill="#231f20" textLength="45.8" lengthAdjust="spacingAndGlyphs" stroke="#231f20" stroke-width="0.26">p-JNK / JNK</text>
<text transform="translate(472.7,367.90000000000003) rotate(-45)" x="0" y="0" font-size="8" text-anchor="end" fill="#231f20" textLength="20.5" lengthAdjust="spacingAndGlyphs" stroke="#231f20" stroke-width="0.24">sgSCR</text>
<text transform="translate(490.29999999999995,368.90000000000003) rotate(-45)" x="0" y="0" font-size="8" text-anchor="end" fill="#231f20" textLength="34.5" lengthAdjust="spacingAndGlyphs" stroke="#231f20" stroke-width="0.24">sgCD137L</text>
<text transform="translate(362.5,253.1) rotate(-90)" x="0" y="0" font-size="9" text-anchor="start" fill="#231f20" textLength="92.3" lengthAdjust="spacingAndGlyphs" stroke="#231f20" stroke-width="0.28">Relative optical density</text>
<text transform="translate(362.5,376.25) rotate(-90)" x="0" y="0" font-size="9" text-anchor="start" fill="#231f20" textLength="92.7" lengthAdjust="spacingAndGlyphs" stroke="#231f20" stroke-width="0.28">Relative optical density</text>
<text x="8.1" y="404.75" font-size="10.5" text-anchor="start" fill="#231f20" textLength="4.5" lengthAdjust="spacingAndGlyphs" stroke="#231f20" stroke-width="0.34">E</text>
<text x="96.1" y="405.2" font-size="9" text-anchor="start" fill="#231f20" textLength="24.5" lengthAdjust="spacingAndGlyphs" stroke="#231f20" stroke-width="0.28">Hut78</text>
<line x1="43.5" y1="411" x2="43.5" y2="500.4" stroke="#000" stroke-width="1.25"/>
<line x1="40.9" y1="499.9" x2="43.5" y2="499.9" stroke="#000" stroke-width="1.25"/>
<text x="37.5" y="502.78" font-size="8" text-anchor="end" fill="#231f20" stroke="#231f20" stroke-width="0.24">0</text>
<line x1="40.9" y1="478.29999999999995" x2="43.5" y2="478.29999999999995" stroke="#000" stroke-width="1.25"/>
<text x="37.5" y="481.17999999999995" font-size="8" text-anchor="end" fill="#231f20" stroke="#231f20" stroke-width="0.24">200</text>
<line x1="40.9" y1="456.7" x2="43.5" y2="456.7" stroke="#000" stroke-width="1.25"/>
<text x="37.5" y="459.58" font-size="8" text-anchor="end" fill="#231f20" stroke="#231f20" stroke-width="0.24">400</text>
<line x1="40.9" y1="435.09999999999997" x2="43.5" y2="435.09999999999997" stroke="#000" stroke-width="1.25"/>
<text x="37.5" y="437.97999999999996" font-size="8" text-anchor="end" fill="#231f20" stroke="#231f20" stroke-width="0.24">600</text>
<line x1="40.9" y1="413.5" x2="43.5" y2="413.5" stroke="#000" stroke-width="1.25"/>
<text x="37.5" y="416.38" font-size="8" text-anchor="end" fill="#231f20" stroke="#231f20" stroke-width="0.24">800</text>
<line x1="43.3" y1="499.9" x2="172.7" y2="499.9" stroke="#000" stroke-width="1.1"/>
<line x1="43.2" y1="499.9" x2="43.2" y2="502.8" stroke="#000" stroke-width="1.1"/>
<text x="43.2" y="512.9" font-size="8" text-anchor="middle" fill="#231f20" stroke="#231f20" stroke-width="0.24">0</text>
<line x1="60.44" y1="499.9" x2="60.44" y2="502.8" stroke="#000" stroke-width="1.1"/>
<text x="60.44" y="512.9" font-size="8" text-anchor="middle" fill="#231f20" stroke="#231f20" stroke-width="0.24">2</text>
<line x1="77.68" y1="499.9" x2="77.68" y2="502.8" stroke="#000" stroke-width="1.1"/>
<text x="77.68" y="512.9" font-size="8" text-anchor="middle" fill="#231f20" stroke="#231f20" stroke-width="0.24">4</text>
<line x1="94.92" y1="499.9" x2="94.92" y2="502.8" stroke="#000" stroke-width="1.1"/>
<text x="94.92" y="512.9" font-size="8" text-anchor="middle" fill="#231f20" stroke="#231f20" stroke-width="0.24">6</text>
<line x1="112.16" y1="499.9" x2="112.16" y2="502.8" stroke="#000" stroke-width="1.1"/>
<text x="112.16" y="512.9" font-size="8" text-anchor="middle" fill="#231f20" stroke="#231f20" stroke-width="0.24">8</text>
<line x1="129.39999999999998" y1="499.9" x2="129.39999999999998" y2="502.8" stroke="#000" stroke-width="1.1"/>
<text x="129.39999999999998" y="512.9" font-size="8" text-anchor="middle" fill="#231f20" stroke="#231f20" stroke-width="0.24">10</text>
<line x1="146.64" y1="499.9" x2="146.64" y2="502.8" stroke="#000" stroke-width="1.1"/>
<text x="146.64" y="512.9" font-size="8" text-anchor="middle" fill="#231f20" stroke="#231f20" stroke-width="0.24">12</text>
<line x1="163.88" y1="499.9" x2="163.88" y2="502.8" stroke="#000" stroke-width="1.1"/>
<text x="163.88" y="512.9" font-size="8" text-anchor="middle" fill="#231f20" stroke="#231f20" stroke-width="0.24">14</text>
<text x="98.7" y="526.3" font-size="9.5" text-anchor="start" fill="#231f20" textLength="19.4" lengthAdjust="spacingAndGlyphs" stroke="#231f20" stroke-width="0.3">Days</text>
<text transform="translate(18.6,497.8) rotate(-90)" font-size="9.5" fill="#231f20" stroke="#231f20" stroke-width="0.28" textLength="85" lengthAdjust="spacingAndGlyphs">Tumor volume (mm<tspan font-size="6.5" dy="-3.2">3</tspan><tspan dy="3.2">)</tspan></text>
<path d="M77.68,499.90 L94.92,499.90 L112.16,496.60 L129.40,495.60 L146.64,494.40 L163.88,486.60" stroke="#b5123a" stroke-width="1.5" fill="none" stroke-linejoin="round"/>
<path d="M75.18,499.9 L77.68,497.52 L80.18,499.9 L77.68,502.27 Z" fill="#b5123a" stroke="#b5123a" stroke-width="0.6" stroke-linejoin="round"/>
<path d="M92.42,499.9 L94.92,497.52 L97.42,499.9 L94.92,502.27 Z" fill="#b5123a" stroke="#b5123a" stroke-width="0.6" stroke-linejoin="round"/>
<path d="M109.66,496.6 L112.16,494.23 L114.66,496.6 L112.16,498.98 Z" fill="#b5123a" stroke="#b5123a" stroke-width="0.6" stroke-linejoin="round"/>
<path d="M126.90,495.6 L129.40,493.23 L131.90,495.6 L129.40,497.98 Z" fill="#b5123a" stroke="#b5123a" stroke-width="0.6" stroke-linejoin="round"/>
<path d="M144.14,494.4 L146.64,492.02 L149.14,494.4 L146.64,496.77 Z" fill="#b5123a" stroke="#b5123a" stroke-width="0.6" stroke-linejoin="round"/>
<line x1="163.88" y1="483.7" x2="163.88" y2="489.2" stroke="#b5123a" stroke-width="0.9"/>
<line x1="161.88" y1="483.7" x2="165.88" y2="483.7" stroke="#b5123a" stroke-width="0.9"/>
<line x1="161.88" y1="489.2" x2="165.88" y2="489.2" stroke="#b5123a" stroke-width="0.9"/>
<path d="M161.38,486.6 L163.88,484.23 L166.38,486.6 L163.88,488.98 Z" fill="#b5123a" stroke="#b5123a" stroke-width="0.6" stroke-linejoin="round"/>
<path d="M43.20,499.90 L60.44,499.90 L77.68,499.90 L94.92,492.70 L112.16,488.90 L129.40,484.00 L146.64,471.00 L163.88,438.70" stroke="#2b4c8c" stroke-width="1.5" fill="none" stroke-linejoin="round"/>
<path d="M40.70,499.9 L43.20,497.52 L45.70,499.9 L43.20,502.27 Z" fill="#2b4c8c" stroke="#2b4c8c" stroke-width="0.6" stroke-linejoin="round"/>
<path d="M57.94,499.9 L60.44,497.52 L62.94,499.9 L60.44,502.27 Z" fill="#2b4c8c" stroke="#2b4c8c" stroke-width="0.6" stroke-linejoin="round"/>
<path d="M75.18,499.9 L77.68,497.52 L80.18,499.9 L77.68,502.27 Z" fill="#2b4c8c" stroke="#2b4c8c" stroke-width="0.6" stroke-linejoin="round"/>
<line x1="94.92" y1="491.5" x2="94.92" y2="494" stroke="#2b4c8c" stroke-width="0.9"/>
<line x1="92.92" y1="491.5" x2="96.92" y2="491.5" stroke="#2b4c8c" stroke-width="0.9"/>
<line x1="92.92" y1="494" x2="96.92" y2="494" stroke="#2b4c8c" stroke-width="0.9"/>
<path d="M92.42,492.7 L94.92,490.32 L97.42,492.7 L94.92,495.07 Z" fill="#2b4c8c" stroke="#2b4c8c" stroke-width="0.6" stroke-linejoin="round"/>
<line x1="112.16" y1="487" x2="112.16" y2="491" stroke="#2b4c8c" stroke-width="0.9"/>
<line x1="110.16" y1="487" x2="114.16" y2="487" stroke="#2b4c8c" stroke-width="0.9"/>
<line x1="110.16" y1="491" x2="114.16" y2="491" stroke="#2b4c8c" stroke-width="0.9"/>
<path d="M109.66,488.9 L112.16,486.52 L114.66,488.9 L112.16,491.27 Z" fill="#2b4c8c" stroke="#2b4c8c" stroke-width="0.6" stroke-linejoin="round"/>
<line x1="129.39999999999998" y1="482" x2="129.39999999999998" y2="486" stroke="#2b4c8c" stroke-width="0.9"/>
<line x1="127.39999999999998" y1="482" x2="131.39999999999998" y2="482" stroke="#2b4c8c" stroke-width="0.9"/>
<line x1="127.39999999999998" y1="486" x2="131.39999999999998" y2="486" stroke="#2b4c8c" stroke-width="0.9"/>
<path d="M126.90,484 L129.40,481.62 L131.90,484 L129.40,486.38 Z" fill="#2b4c8c" stroke="#2b4c8c" stroke-width="0.6" stroke-linejoin="round"/>
<line x1="146.64" y1="467" x2="146.64" y2="475.4" stroke="#2b4c8c" stroke-width="0.9"/>
<line x1="144.64" y1="467" x2="148.64" y2="467" stroke="#2b4c8c" stroke-width="0.9"/>
<line x1="144.64" y1="475.4" x2="148.64" y2="475.4" stroke="#2b4c8c" stroke-width="0.9"/>
<path d="M144.14,471 L146.64,468.62 L149.14,471 L146.64,473.38 Z" fill="#2b4c8c" stroke="#2b4c8c" stroke-width="0.6" stroke-linejoin="round"/>
<line x1="163.88" y1="427.8" x2="163.88" y2="450.3" stroke="#2b4c8c" stroke-width="0.9"/>
<line x1="161.88" y1="427.8" x2="165.88" y2="427.8" stroke="#2b4c8c" stroke-width="0.9"/>
<line x1="161.88" y1="450.3" x2="165.88" y2="450.3" stroke="#2b4c8c" stroke-width="0.9"/>
<path d="M161.38,438.7 L163.88,436.32 L166.38,438.7 L163.88,441.07 Z" fill="#2b4c8c" stroke="#2b4c8c" stroke-width="0.6" stroke-linejoin="round"/>
<circle cx="110.61" cy="493.50" r="0.95" fill="#2a2a2a"/>
<circle cx="113.71" cy="493.50" r="0.95" fill="#2a2a2a"/>
<circle cx="127.85" cy="491.30" r="0.95" fill="#2a2a2a"/>
<circle cx="130.95" cy="491.30" r="0.95" fill="#2a2a2a"/>
<circle cx="145.09" cy="490.00" r="0.95" fill="#2a2a2a"/>
<circle cx="148.19" cy="490.00" r="0.95" fill="#2a2a2a"/>
<circle cx="162.33" cy="479.70" r="0.95" fill="#2a2a2a"/>
<circle cx="165.43" cy="479.70" r="0.95" fill="#2a2a2a"/>
<line x1="53.1" y1="423.75" x2="62.6" y2="423.75" stroke="#2b4c8c" stroke-width="1.6"/>
<path d="M55.30,423.75 L57.60,421.56 L59.90,423.75 L57.60,425.94 Z" fill="#2b4c8c" stroke="#2b4c8c" stroke-width="0.6" stroke-linejoin="round"/>
<line x1="53.1" y1="435.25" x2="62.6" y2="435.25" stroke="#b5123a" stroke-width="1.6"/>
<path d="M55.30,435.25 L57.60,433.06 L59.90,435.25 L57.60,437.44 Z" fill="#b5123a" stroke="#b5123a" stroke-width="0.6" stroke-linejoin="round"/>
<text x="65.65" y="426.1" font-size="7.5" text-anchor="start" fill="#231f20" textLength="19.25" lengthAdjust="spacingAndGlyphs" stroke="#231f20" stroke-width="0.22">sgSCR</text>
<text x="65.65" y="437.8" font-size="7.5" text-anchor="start" fill="#231f20" textLength="31.35" lengthAdjust="spacingAndGlyphs" stroke="#231f20" stroke-width="0.22">sgCD137L</text>
<text x="182.7" y="404.8" font-size="10.5" text-anchor="start" fill="#231f20" textLength="4.6" lengthAdjust="spacingAndGlyphs" stroke="#231f20" stroke-width="0.34">F</text>
<path d="M194.50,500.80 L195.60,500.83 L196.65,500.70 L197.79,500.47 L198.99,500.42 L200.00,500.37 L201.36,499.86 L202.63,499.34 L203.83,498.82 L205.00,497.90 L206.31,497.90 L207.97,497.37 L208.93,496.33 L209.82,496.32 L210.91,495.24 L211.60,494.13 L212.50,493.42 L213.52,493.84 L214.56,492.82 L216.10,491.41 L217.16,490.78 L218.31,489.51 L218.93,488.06 L219.80,486.98 L220.24,486.28 L220.43,484.26 L221.01,482.71 L221.98,481.44 L221.94,481.04 L222.73,479.31 L222.93,478.59 L223.01,477.39 L223.49,475.98 L223.66,475.36 L224.37,473.04 L224.69,473.28 L224.67,471.92 L225.06,471.36 L225.58,469.51 L225.87,468.42 L226.26,467.05 L227.05,465.51 L226.26,465.09 L227.30,464.16 L227.63,462.83 L228.08,462.14 L228.27,460.48 L229.09,459.71 L228.85,459.30 L229.54,457.01 L229.49,456.23 L229.90,454.56 L230.16,453.65 L230.98,452.56 L230.81,451.87 L231.35,450.82 L231.82,449.29 L231.79,448.22 L231.83,447.39 L232.57,446.07 L232.62,444.60 L232.88,443.08 L233.32,441.76 L233.85,440.44 L234.54,440.05 L234.77,438.08 L235.32,438.19 L235.50,436.31 L235.86,435.51 L236.12,434.39 L236.71,433.24 L237.24,431.64 L237.40,430.33 L238.20,432.06 L238.85,432.72 L239.38,434.79 L239.77,435.62 L239.94,437.25 L240.34,437.69 L240.52,438.99 L240.51,440.81 L241.04,441.15 L241.10,442.77 L241.17,443.65 L241.60,444.17 L241.71,446.37 L241.92,446.72 L242.05,448.10 L242.27,449.87 L242.37,450.51 L242.38,452.34 L242.52,453.45 L243.00,454.39 L243.58,455.78 L243.73,456.19 L243.05,458.64 L243.83,459.38 L243.86,459.87 L243.92,461.34 L244.17,463.24 L244.40,464.16 L244.42,464.97 L244.75,466.16 L245.15,467.05 L245.45,468.14 L245.45,469.35 L245.74,470.84 L245.67,472.21 L245.63,472.63 L245.52,474.66 L245.96,475.06 L246.27,477.22 L246.10,477.66 L246.54,478.90 L246.43,479.66 L247.13,481.57 L247.45,481.73 L247.31,483.16 L247.20,483.75 L247.79,485.56 L247.79,487.07 L247.79,487.92 L248.16,488.82 L248.43,490.04 L248.55,491.21 L249.22,492.10 L249.36,493.60 L249.42,494.80 L249.64,496.08 L249.98,496.55 L250.54,498.20 L250.98,499.36 L251.89,499.70 L253.03,500.63 L254.20,500.77 L255.51,500.65 L256.77,500.69 L257.96,500.94 L259.26,500.77 L260.60,500.71 L261.96,500.52 L263.26,500.63 L264.71,500.88 L265.91,501.09 L267.38,500.83 L268.74,500.63 L270.00,500.71 L271.23,500.78 L272.28,500.52 L273.52,500.61 L274.66,500.67 L275.89,500.93 L277.00,500.90" stroke="#2b4f95" stroke-width="1.25" fill="none" stroke-linejoin="round"/>
<path d="M194.50,500.80 L195.75,500.20 L196.98,499.54 L198.69,499.16 L200.31,498.15 L201.01,497.72 L201.84,497.43 L203.04,497.17 L204.10,496.89 L205.17,494.36 L206.04,493.75 L206.38,493.44 L206.93,491.05 L207.52,490.63 L207.71,489.29 L208.30,488.56 L208.83,487.51 L209.77,486.08 L209.66,485.22 L210.46,483.96 L210.95,482.64 L210.87,482.06 L211.33,480.75 L211.92,480.12 L212.19,478.56 L212.77,477.66 L212.79,476.82 L212.99,475.23 L213.63,474.00 L213.89,475.14 L214.39,475.76 L214.47,475.29 L214.73,474.00 L215.09,472.21 L215.32,471.19 L215.38,469.31 L215.54,468.99 L215.80,467.80 L216.30,466.50 L216.69,464.66 L216.55,463.19 L217.06,463.17 L217.54,461.92 L217.09,461.51 L217.78,459.34 L218.56,458.95 L219.05,457.62 L219.32,457.09 L219.95,455.17 L220.34,453.91 L220.52,452.19 L220.72,451.46 L221.21,449.95 L221.22,448.88 L221.51,447.56 L221.55,446.02 L222.02,445.08 L222.00,445.09 L222.83,442.69 L223.33,440.59 L223.80,439.66 L223.86,438.81 L224.33,437.20 L224.40,436.64 L225.31,436.59 L225.62,435.73 L225.74,434.61 L226.05,433.80 L226.59,432.10 L227.33,430.77 L227.48,432.23 L227.69,433.16 L227.71,434.11 L227.71,436.01 L228.25,435.29 L228.87,432.46 L228.62,434.83 L229.12,435.12 L229.40,436.55 L229.30,437.77 L229.60,440.45 L229.90,440.78 L230.50,441.92 L230.30,440.63 L230.75,439.24 L231.29,437.88 L231.81,437.09 L231.83,437.94 L232.29,438.75 L232.60,441.03 L232.83,442.22 L233.07,443.36 L233.33,444.10 L233.58,445.65 L233.66,446.93 L233.64,447.92 L234.15,448.93 L233.80,450.57 L234.25,451.62 L234.22,452.57 L234.81,453.66 L234.97,455.59 L235.09,456.05 L235.66,457.82 L235.54,458.85 L235.58,460.09 L236.08,461.06 L236.34,463.06 L236.67,463.76 L237.07,465.37 L237.31,465.88 L237.04,467.72 L237.67,468.33 L238.02,469.37 L238.06,471.35 L238.13,472.04 L238.91,473.48 L239.03,474.05 L239.06,474.94 L239.08,475.77 L239.93,477.16 L240.27,478.86 L240.48,479.65 L241.15,480.82 L241.68,482.78 L241.89,483.73 L242.72,484.26 L242.66,484.94 L242.96,487.36 L243.04,487.84 L243.68,489.53 L244.22,489.35 L244.40,491.08 L245.13,491.85 L245.64,493.27 L246.40,494.79 L246.95,495.67 L247.71,496.65 L248.03,497.68 L248.79,498.70 L249.40,499.93 L250.78,500.43 L251.98,500.87 L253.15,500.80 L254.36,500.74 L255.44,500.63 L256.57,500.78 L257.63,500.74 L258.71,500.69 L259.96,500.54 L261.14,500.90 L262.19,500.65 L263.29,500.67 L264.46,501.02 L265.58,500.88 L266.83,500.71 L267.90,500.87 L269.01,500.92 L270.29,500.80 L271.28,500.86 L272.47,500.73 L273.58,500.81 L274.75,500.91 L275.84,500.67 L277.00,500.80" stroke="#c81f4e" stroke-width="1.25" fill="none" stroke-linejoin="round"/>
<path d="M194.50,466.00 L194.29,466.64 L194.68,467.28 L194.55,468.40 L194.82,470.48 L194.90,471.30 L194.73,472.49 L194.53,473.76 L194.45,474.66 L194.86,475.92 L194.67,477.88 L194.79,477.87 L194.83,478.99 L194.75,480.16 L195.26,481.41 L194.91,482.77 L195.30,483.51 L194.80,485.69 L194.66,485.65 L195.11,487.81 L194.81,487.03 L195.18,486.67 L195.02,485.93 L195.19,484.74 L195.11,484.02 L195.55,482.39 L195.21,481.54 L195.45,479.71 L195.31,479.42 L195.43,477.74 L195.54,476.74 L195.55,474.85 L195.95,474.58 L195.47,473.77 L195.76,472.26 L195.96,472.03 L195.91,470.63 L196.29,470.73 L195.81,472.60 L195.63,473.32 L196.29,474.99 L196.20,474.96 L196.61,477.08 L196.35,478.20 L195.91,478.57 L196.07,481.05 L196.21,481.33 L196.38,482.80 L196.59,483.82 L196.29,483.60 L196.63,486.11 L196.88,484.82 L196.55,483.88 L196.40,482.15 L196.55,481.54 L197.21,480.59 L197.06,479.24 L196.92,477.82 L196.85,475.89 L196.70,475.20 L197.15,474.84 L197.25,474.05 L197.00,472.71 L197.49,471.14 L197.35,469.93 L196.85,468.91 L197.05,467.76 L197.15,466.70 L196.86,466.26 L197.60,464.15 L197.18,463.14 L197.54,462.17 L197.57,462.41 L197.35,464.94 L197.72,464.99 L197.59,466.22 L197.65,468.47 L197.90,469.65 L198.07,469.79 L197.99,472.53 L198.05,472.37 L198.55,474.04 L198.34,473.48 L198.02,471.94 L198.20,470.08 L198.29,470.01 L198.46,467.67 L198.30,467.93 L198.78,465.75 L199.10,464.93 L198.40,463.91 L198.88,463.50 L198.93,461.56 L198.65,460.02 L198.78,459.26 L199.01,460.28 L199.01,461.74 L199.03,462.92 L199.23,464.22 L199.72,466.04 L199.47,465.01 L199.93,464.20 L199.97,462.31 L200.01,461.25 L200.39,460.07 L200.37,459.03 L200.58,457.70 L200.51,456.48 L200.76,457.25 L201.27,459.66 L201.70,460.00 L201.58,459.26 L202.01,458.21 L201.80,456.65 L201.89,455.31 L201.90,454.18 L201.75,452.65 L202.39,451.62 L202.86,452.97 L203.12,455.16 L203.13,453.58 L203.99,452.46 L203.48,451.38 L203.77,450.47 L204.10,449.67 L203.96,448.07 L203.89,446.48 L204.17,446.26 L204.48,445.16 L204.79,443.63 L205.43,444.64 L205.27,445.82 L205.72,444.83 L205.43,443.96 L205.90,442.62 L205.70,442.00 L206.05,440.83 L205.78,439.45 L206.10,437.49 L206.36,437.15 L206.13,436.93 L207.03,437.71 L207.03,437.06 L207.25,435.63 L206.95,434.20 L207.00,432.88 L207.21,431.94 L207.27,430.63 L207.12,429.72 L207.29,431.39 L207.24,432.12 L207.47,432.63 L207.69,434.35 L207.17,435.65 L207.85,436.19 L208.07,437.70 L207.54,438.99 L207.77,439.33 L207.46,441.10 L207.92,440.01 L208.33,438.29 L208.32,437.97 L208.95,436.31 L208.63,436.74 L208.72,438.96 L208.99,439.31 L208.75,440.64 L208.92,441.72 L209.35,443.29 L209.33,443.86 L209.50,443.48 L209.68,440.93 L210.07,440.35 L210.61,438.81 L209.96,440.05 L210.13,441.11 L209.82,441.74 L210.17,443.49 L210.20,445.75 L210.59,446.52 L210.44,447.38 L210.61,448.36 L210.92,449.87 L210.95,450.87 L210.71,451.70 L211.16,452.95 L211.00,454.34 L211.05,455.03 L211.49,456.25 L211.68,457.71 L211.64,459.06 L211.11,459.67 L211.37,460.61 L211.69,462.40 L211.78,463.67 L211.76,464.08 L211.96,465.58 L212.01,466.05 L212.03,466.83 L212.46,468.88 L212.39,469.87 L212.28,470.77 L212.66,471.79 L212.44,473.93 L213.02,474.58 L212.91,475.72 L213.19,476.64 L213.02,478.20 L213.45,479.10 L213.36,480.20 L213.34,481.34 L213.65,483.16 L213.65,483.76 L213.86,485.34 L214.24,485.90 L214.64,487.37 L215.18,488.75 L215.28,490.21 L216.14,491.05 L216.84,492.46 L217.47,493.46 L218.28,494.01 L219.07,495.35 L219.62,496.59 L220.85,497.21 L221.96,498.16 L223.17,498.94 L224.12,499.44 L225.22,499.96 L226.47,500.35 L227.76,500.60 L229.00,500.80" stroke="#6fbf44" stroke-width="1.2" fill="none" stroke-linejoin="round"/>
<rect x="193.9" y="422.4" width="83.8" height="78.9" fill="none" stroke="#000" stroke-width="1.1"/>
<text x="211.9" y="429.3" font-size="7" text-anchor="start" fill="#c4335e" textLength="31.1" lengthAdjust="spacingAndGlyphs" stroke="#c4335e" stroke-width="0.2">sgCD137L</text>
<text x="247.7" y="451.6" font-size="7" text-anchor="start" fill="#3b5b9c" textLength="19.2" lengthAdjust="spacingAndGlyphs" stroke="#3b5b9c" stroke-width="0.2">sgSCR</text>
<text transform="translate(190.6,480.4) rotate(-90)" x="0" y="0" font-size="8.5" text-anchor="start" fill="#231f20" textLength="37" lengthAdjust="spacingAndGlyphs" stroke="#231f20" stroke-width="0.26">% of max</text>
<text x="198.3" y="513" font-size="9" text-anchor="start" fill="#231f20" textLength="25.9" lengthAdjust="spacingAndGlyphs" stroke="#231f20" stroke-width="0.28">CXCR4</text>
<line x1="227.1" y1="509.8" x2="259.7" y2="509.8" stroke="#000" stroke-width="1"/>
<path d="M263.2,509.8 L259.0,508.0 L259.0,511.6 Z" fill="#000"/>
<text x="343.6" y="430.6" font-size="9" text-anchor="start" fill="#231f20" textLength="26.5" lengthAdjust="spacingAndGlyphs" stroke="#231f20" stroke-width="0.28">CXCR4</text>
<text transform="translate(293.9,480.6) rotate(-90)" x="0" y="0" font-size="8" text-anchor="start" fill="#231f20" textLength="29.7" lengthAdjust="spacingAndGlyphs" stroke="#231f20" stroke-width="0.24">MFI ratio</text>
<line x1="318" y1="438.8" x2="318" y2="494.1" stroke="#000" stroke-width="1.25"/>
<line x1="315.4" y1="493.6" x2="318" y2="493.6" stroke="#000" stroke-width="1.25"/>
<text x="311.8" y="496.48" font-size="8" text-anchor="end" fill="#231f20" stroke="#231f20" stroke-width="0.24">0</text>
<line x1="315.4" y1="476.23" x2="318" y2="476.23" stroke="#000" stroke-width="1.25"/>
<text x="311.8" y="479.11" font-size="8" text-anchor="end" fill="#231f20" stroke="#231f20" stroke-width="0.24">50</text>
<line x1="315.4" y1="458.86" x2="318" y2="458.86" stroke="#000" stroke-width="1.25"/>
<text x="311.8" y="461.74" font-size="8" text-anchor="end" fill="#231f20" stroke="#231f20" stroke-width="0.24">100</text>
<line x1="315.4" y1="441.49" x2="318" y2="441.49" stroke="#000" stroke-width="1.25"/>
<text x="311.8" y="444.37" font-size="8" text-anchor="end" fill="#231f20" stroke="#231f20" stroke-width="0.24">150</text>
<line x1="315.4" y1="493.6" x2="390" y2="493.6" stroke="#000" stroke-width="1.1"/>
<rect x="329" y="450.7" width="22" height="42.9" fill="#2c4a80"/>
<line x1="341.6" y1="449.2" x2="341.6" y2="450.7" stroke="#000" stroke-width="1"/>
<line x1="337.8" y1="449.2" x2="345.40000000000003" y2="449.2" stroke="#000" stroke-width="1"/>
<rect x="362.3" y="473.1" width="21.9" height="20.5" fill="#a8082a"/>
<line x1="373.3" y1="470.5" x2="373.3" y2="473.1" stroke="#000" stroke-width="1"/>
<line x1="367.40000000000003" y1="470.5" x2="379.2" y2="470.5" stroke="#000" stroke-width="1"/>
<path d="M339.8,444.8 V442.2 H373.4 V444.8" stroke="#000" stroke-width="0.9" fill="none"/>
<circle cx="354.95" cy="437.60" r="0.95" fill="#2a2a2a"/>
<circle cx="358.05" cy="437.60" r="0.95" fill="#2a2a2a"/>
<text transform="translate(343.8,500.1) rotate(-45)" x="0" y="0" font-size="8" text-anchor="end" fill="#231f20" textLength="21" lengthAdjust="spacingAndGlyphs" stroke="#231f20" stroke-width="0.24">sgSCR</text>
<text transform="translate(376.5,500.3) rotate(-45)" x="0" y="0" font-size="8" text-anchor="end" fill="#231f20" textLength="34.5" lengthAdjust="spacingAndGlyphs" stroke="#231f20" stroke-width="0.24">sgCD137L</text>
<text x="459.2" y="430.7" font-size="9" text-anchor="start" fill="#231f20" textLength="26.5" lengthAdjust="spacingAndGlyphs" stroke="#231f20" stroke-width="0.28">CXCR4</text>
<text transform="translate(406.7,493) rotate(-90)" x="0" y="0" font-size="8" text-anchor="start" fill="#231f20" textLength="52.1" lengthAdjust="spacingAndGlyphs" stroke="#231f20" stroke-width="0.24">Ratio to GAPDH</text>
<line x1="433.1" y1="439.4" x2="433.1" y2="493.9" stroke="#000" stroke-width="1.25"/>
<line x1="430.5" y1="493.4" x2="433.1" y2="493.4" stroke="#000" stroke-width="1.25"/>
<text x="426.8" y="496.28" font-size="8" text-anchor="end" fill="#231f20" stroke="#231f20" stroke-width="0.24">0</text>
<line x1="430.5" y1="476.37" x2="433.1" y2="476.37" stroke="#000" stroke-width="1.25"/>
<text x="426.8" y="479.25" font-size="8" text-anchor="end" fill="#231f20" stroke="#231f20" stroke-width="0.24">0.01</text>
<line x1="430.5" y1="459.34" x2="433.1" y2="459.34" stroke="#000" stroke-width="1.25"/>
<text x="426.8" y="462.21999999999997" font-size="8" text-anchor="end" fill="#231f20" stroke="#231f20" stroke-width="0.24">0.02</text>
<line x1="430.5" y1="442.30999999999995" x2="433.1" y2="442.30999999999995" stroke="#000" stroke-width="1.25"/>
<text x="426.8" y="445.18999999999994" font-size="8" text-anchor="end" fill="#231f20" stroke="#231f20" stroke-width="0.24">0.03</text>
<line x1="430.5" y1="493.4" x2="505.9" y2="493.4" stroke="#000" stroke-width="1.1"/>
<rect x="444.7" y="451" width="21.6" height="42.4" fill="#2c4a80"/>
<line x1="455.5" y1="446.8" x2="455.5" y2="451" stroke="#000" stroke-width="1"/>
<line x1="449.95" y1="446.8" x2="461.05" y2="446.8" stroke="#000" stroke-width="1"/>
<rect x="478" y="464.4" width="21.6" height="29" fill="#a8082a"/>
<line x1="488.7" y1="458.4" x2="488.7" y2="464.4" stroke="#000" stroke-width="1"/>
<line x1="483.0" y1="458.4" x2="494.4" y2="458.4" stroke="#000" stroke-width="1"/>
<path d="M455.4,444.6 V442 H489 V444.6" stroke="#000" stroke-width="0.9" fill="none"/>
<circle cx="472.30" cy="438.60" r="0.95" fill="#2a2a2a"/>
<text transform="translate(459,500.3) rotate(-45)" x="0" y="0" font-size="8" text-anchor="end" fill="#231f20" textLength="21" lengthAdjust="spacingAndGlyphs" stroke="#231f20" stroke-width="0.24">sgSCR</text>
<text transform="translate(492,500.3) rotate(-45)" x="0" y="0" font-size="8" text-anchor="end" fill="#231f20" textLength="34.5" lengthAdjust="spacingAndGlyphs" stroke="#231f20" stroke-width="0.24">sgCD137L</text>
<rect x="0.5" y="0.5" width="519" height="535.6" fill="none" stroke="#000" stroke-width="1"/>
<line x1="0" y1="536.4" x2="520" y2="536.4" stroke="#000" stroke-width="1.2"/>
</svg>
</body></html>
